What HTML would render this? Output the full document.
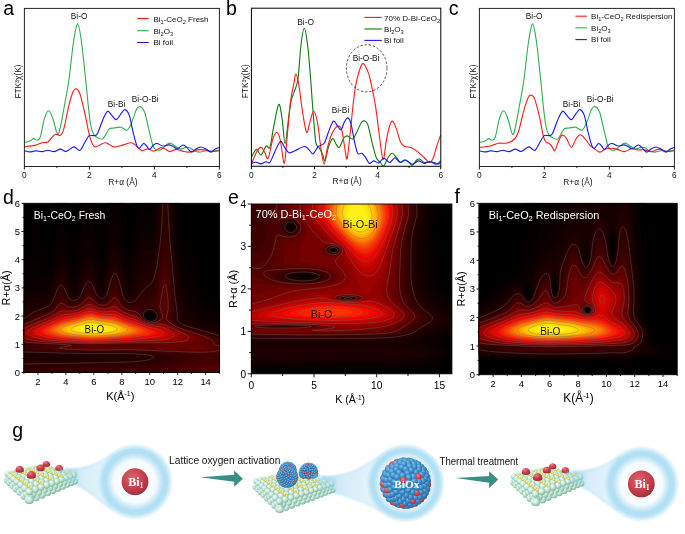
<!DOCTYPE html>
<html><head><meta charset="utf-8"><title>Figure</title>
<style>html,body{margin:0;padding:0;background:#fff}svg{display:block;will-change:transform}</style></head>
<body>
<svg width="685" height="534" viewBox="0 0 685 534" font-family='&quot;Liberation Sans&quot;, Arial, sans-serif'>
<rect width="685" height="534" fill="#fff"/>
<g>
<clipPath id="clipa"><rect x="24.4" y="8.4" width="195.0" height="158.1"/></clipPath>
<g clip-path="url(#clipa)" fill="none" stroke-width="1.1" stroke-linejoin="round">
<path d="M24.4 142.7C25.3 142.4 28.5 141.7 30.1 141.0C31.7 140.3 32.7 138.8 33.8 138.6C34.9 138.4 35.7 140.2 36.8 140.0C37.9 139.8 38.9 140.9 40.2 137.3C41.5 133.8 43.0 123.1 44.4 118.7C45.8 114.3 47.2 110.8 48.6 110.8C50.0 110.8 51.5 114.9 52.9 118.7C54.3 122.5 56.0 131.6 57.1 133.6C58.2 135.6 58.5 134.8 59.6 130.5C60.8 126.2 62.5 116.4 64.0 108.0C65.5 99.6 67.3 91.0 68.9 80.0C70.5 69.0 72.0 51.4 73.5 42.0C75.0 32.6 76.3 23.9 77.6 23.9C78.9 23.9 80.2 32.6 81.5 42.0C82.8 51.4 84.5 69.0 85.7 80.0C86.9 91.0 87.7 100.4 88.5 108.0C89.3 115.6 89.9 121.0 90.8 125.5C91.7 130.0 92.3 132.5 94.1 134.8C95.9 137.1 99.9 139.2 101.7 139.3C103.5 139.4 103.8 137.3 105.1 135.6C106.4 133.9 107.8 130.2 109.3 128.9C110.8 127.6 112.4 128.3 114.3 128.0C116.2 127.7 118.8 126.8 120.9 127.2C123.0 127.6 125.3 131.0 127.1 130.2C128.9 129.3 130.3 125.4 131.8 122.1C133.3 118.8 134.8 112.9 136.1 110.3C137.4 107.7 138.5 106.3 139.9 106.6C141.3 106.9 143.0 108.3 144.5 112.0C146.0 115.7 147.3 123.3 148.7 128.9C150.1 134.5 151.6 142.2 152.9 145.7C154.2 149.2 154.9 149.3 156.3 149.9C157.7 150.5 159.6 150.2 161.3 149.4C163.0 148.6 164.9 145.9 166.4 144.9C167.9 143.9 169.1 142.9 170.6 143.2C172.1 143.5 173.9 145.5 175.6 146.5C177.3 147.5 179.0 148.9 180.7 149.1C182.4 149.2 184.2 147.6 185.8 147.4C187.4 147.2 188.6 147.1 190.0 147.7C191.4 148.3 192.7 150.1 194.2 150.8C195.7 151.5 197.2 152.1 199.2 152.1C201.2 152.1 203.8 151.0 206.0 150.8C208.2 150.6 210.5 151.2 212.7 151.1C214.9 151.0 218.3 150.3 219.4 150.1" stroke="#2fae4f"/>
<path d="M24.4 146.7C26.2 146.5 32.3 146.1 35.2 145.4C38.1 144.7 39.8 143.3 41.9 142.7C44.0 142.1 46.1 142.9 47.8 142.0C49.5 141.1 50.7 138.6 52.0 137.3C53.3 136.0 54.0 134.5 55.4 134.2C56.8 133.9 59.0 136.2 60.4 135.3C61.8 134.4 62.4 133.9 63.8 128.9C65.2 123.9 67.4 111.5 68.9 105.3C70.5 99.1 71.9 94.5 73.1 91.8C74.3 89.0 75.0 88.5 76.1 88.8C77.2 89.1 78.3 89.3 79.8 93.5C81.3 97.7 83.4 107.0 84.9 113.7C86.5 120.4 87.8 128.8 89.1 133.9C90.3 139.0 91.3 141.8 92.4 144.0C93.5 146.2 94.2 146.8 95.5 147.0C96.8 147.2 98.4 145.6 100.0 144.9C101.6 144.2 103.5 142.8 105.1 142.7C106.6 142.6 107.8 143.7 109.3 144.4C110.8 145.1 111.9 146.9 114.3 147.0C116.7 147.1 120.5 145.6 123.4 144.9C126.3 144.2 129.2 142.4 131.5 142.7C133.8 143.0 135.2 145.2 136.9 146.5C138.7 147.8 140.2 150.4 142.0 150.8C143.8 151.2 146.0 148.6 147.9 148.7C149.8 148.8 151.6 151.3 153.7 151.1C155.8 150.9 158.5 148.0 160.5 147.7C162.5 147.4 163.9 148.4 165.5 149.1C167.1 149.8 168.0 151.5 169.8 151.6C171.6 151.7 174.4 149.5 176.5 149.4C178.6 149.3 180.3 150.7 182.4 151.1C184.5 151.5 186.6 152.3 189.1 152.1C191.6 151.9 195.0 150.3 197.5 149.9C200.0 149.5 202.1 149.6 204.3 149.9C206.6 150.2 208.5 151.4 211.0 151.6C213.5 151.8 218.0 150.9 219.4 150.8" stroke="#ff1a1a"/>
<path d="M24.4 150.8C25.3 151.0 28.2 151.9 30.1 151.9C32.0 151.9 34.0 150.9 36.0 150.8C38.0 150.8 39.9 151.7 41.9 151.6C43.9 151.5 45.7 150.2 47.8 150.2C49.9 150.2 52.4 151.8 54.5 151.6C56.6 151.4 58.4 149.1 60.4 149.1C62.4 149.1 64.0 151.8 66.3 151.4C68.5 151.0 71.7 147.1 73.9 146.9C76.2 146.7 78.0 151.2 79.8 150.4C81.6 149.6 83.4 144.8 84.9 142.3C86.5 139.8 87.6 136.7 89.1 135.6C90.6 134.5 92.7 135.9 94.1 135.6C95.5 135.3 96.1 136.1 97.5 133.6C98.9 131.1 100.8 124.1 102.5 120.4C104.2 116.7 106.0 112.0 107.6 111.2C109.1 110.4 110.3 114.0 111.8 115.4C113.3 116.8 114.8 120.0 116.4 119.6C118.0 119.2 120.0 114.9 121.4 113.2C122.9 111.5 123.8 109.2 125.1 109.6C126.4 110.0 127.9 111.4 129.3 115.4C130.7 119.5 132.2 128.9 133.5 133.9C134.8 138.9 135.9 143.3 136.9 145.7C137.9 148.1 138.3 148.6 139.4 148.2C140.5 147.8 142.3 143.8 143.6 143.5C144.9 143.2 146.0 145.5 147.0 146.5C148.0 147.5 148.4 149.9 149.5 149.6C150.6 149.3 152.4 145.9 153.7 144.9C155.0 143.9 155.5 143.3 157.1 143.5C158.7 143.7 161.0 145.8 163.0 146.0C165.0 146.2 167.2 144.8 168.9 144.9C170.6 145.0 171.7 145.9 173.1 146.5C174.5 147.1 175.6 148.9 177.3 148.7C179.0 148.4 181.5 145.1 183.2 145.0C184.9 144.9 186.0 147.0 187.4 148.2C188.8 149.4 190.3 151.9 191.7 152.1C193.1 152.2 194.4 149.9 195.9 149.1C197.4 148.2 199.2 147.0 200.9 147.0C202.6 147.0 204.3 148.2 206.0 149.1C207.7 149.9 209.5 152.1 211.0 152.1C212.5 152.1 213.8 149.9 215.2 149.1C216.6 148.3 218.7 147.7 219.4 147.4" stroke="#1414ff"/>
</g>
<rect x="24.4" y="8.4" width="195.0" height="158.1" fill="none" stroke="#222" stroke-width="1"/>
<line x1="24.4" y1="166.5" x2="24.4" y2="169.5" stroke="#222" stroke-width="1"/>
<text x="24.4" y="178.1" font-size="8.3" text-anchor="middle" fill="#111">0</text>
<line x1="56.9" y1="166.5" x2="56.9" y2="168.1" stroke="#222" stroke-width="1"/>
<line x1="89.4" y1="166.5" x2="89.4" y2="169.5" stroke="#222" stroke-width="1"/>
<text x="89.4" y="178.1" font-size="8.3" text-anchor="middle" fill="#111">2</text>
<line x1="121.9" y1="166.5" x2="121.9" y2="168.1" stroke="#222" stroke-width="1"/>
<line x1="154.4" y1="166.5" x2="154.4" y2="169.5" stroke="#222" stroke-width="1"/>
<text x="154.4" y="178.1" font-size="8.3" text-anchor="middle" fill="#111">4</text>
<line x1="186.9" y1="166.5" x2="186.9" y2="168.1" stroke="#222" stroke-width="1"/>
<line x1="219.4" y1="166.5" x2="219.4" y2="169.5" stroke="#222" stroke-width="1"/>
<text x="219.4" y="178.1" font-size="8.3" text-anchor="middle" fill="#111">6</text>
<text x="122.9" y="184.5" font-size="8.4" text-anchor="middle" fill="#111">R+α (Å)</text>
<text transform="translate(21.0 81.5) rotate(-90)" font-size="8.3" text-anchor="middle" fill="#111">FTK<tspan baseline-shift="35%" font-size="65%">3</tspan>χ(K)</text>
<text x="3.2" y="14.9" font-size="19.5" fill="#000">a</text>
</g>
<line x1="137.2" y1="18.5" x2="148.7" y2="18.5" stroke="#ff1a1a" stroke-width="1.1"/>
<text x="153.4" y="21.6" font-size="8.0" fill="#111">Bi<tspan baseline-shift="-25%" font-size="70%">1</tspan>-CeO<tspan baseline-shift="-25%" font-size="70%">2</tspan> Fresh</text>
<line x1="137.2" y1="30.7" x2="148.7" y2="30.7" stroke="#2fae4f" stroke-width="1.1"/>
<text x="153.4" y="33.7" font-size="8.0" fill="#111">Bi<tspan baseline-shift="-25%" font-size="70%">2</tspan>O<tspan baseline-shift="-25%" font-size="70%">3</tspan></text>
<line x1="137.2" y1="42.5" x2="148.7" y2="42.5" stroke="#1414ff" stroke-width="1.1"/>
<text x="153.4" y="45.1" font-size="8.0" fill="#111">Bi foil</text>
<text x="79.1" y="18.8" font-size="8.3" text-anchor="middle" fill="#111" >Bi-O</text>
<text x="116.6" y="107.0" font-size="8.3" text-anchor="middle" fill="#111" >Bi-Bi</text>
<text x="145.2" y="101.6" font-size="8.3" text-anchor="middle" fill="#111" >Bi-O-Bi</text>
<g>
<clipPath id="clipc"><rect x="479.4" y="8.4" width="195.0" height="158.1"/></clipPath>
<g clip-path="url(#clipc)" fill="none" stroke-width="1.1" stroke-linejoin="round">
<path d="M479.4 142.7C480.3 142.4 483.5 141.7 485.1 141.0C486.7 140.3 487.7 138.8 488.8 138.6C489.9 138.4 490.7 140.2 491.8 140.0C492.9 139.8 493.9 140.9 495.2 137.3C496.5 133.8 498.0 123.1 499.4 118.7C500.8 114.3 502.2 110.8 503.6 110.8C505.0 110.8 506.5 114.9 507.9 118.7C509.3 122.5 511.0 131.6 512.1 133.6C513.2 135.6 513.5 134.8 514.6 130.5C515.8 126.2 517.5 116.4 519.0 108.0C520.5 99.6 522.3 91.0 523.9 80.0C525.5 69.0 527.0 51.4 528.5 42.0C530.0 32.6 531.3 23.9 532.6 23.9C533.9 23.9 535.1 32.6 536.5 42.0C537.9 51.4 539.5 69.0 540.7 80.0C541.9 91.0 542.6 100.4 543.5 108.0C544.4 115.6 544.9 121.0 545.8 125.5C546.7 130.0 547.3 132.5 549.1 134.8C550.9 137.1 554.9 139.2 556.7 139.3C558.5 139.4 558.8 137.3 560.1 135.6C561.4 133.9 562.8 130.2 564.3 128.9C565.8 127.6 567.4 128.3 569.3 128.0C571.2 127.7 573.8 126.8 575.9 127.2C578.0 127.6 580.3 131.0 582.1 130.2C583.9 129.3 585.3 125.4 586.8 122.1C588.3 118.8 589.8 112.9 591.1 110.3C592.5 107.7 593.5 106.3 594.9 106.6C596.3 106.9 598.0 108.3 599.5 112.0C601.0 115.7 602.3 123.3 603.7 128.9C605.1 134.5 606.6 142.2 607.9 145.7C609.2 149.2 609.9 149.3 611.3 149.9C612.7 150.5 614.6 150.2 616.3 149.4C618.0 148.6 619.8 145.9 621.4 144.9C623.0 143.9 624.1 142.9 625.6 143.2C627.1 143.5 628.9 145.5 630.6 146.5C632.3 147.5 634.0 148.9 635.7 149.1C637.4 149.2 639.2 147.6 640.8 147.4C642.3 147.2 643.6 147.1 645.0 147.7C646.4 148.3 647.7 150.1 649.2 150.8C650.7 151.5 652.2 152.1 654.2 152.1C656.2 152.1 658.8 151.0 661.0 150.8C663.2 150.6 665.5 151.2 667.7 151.1C669.9 151.0 673.3 150.3 674.4 150.1" stroke="#2fae4f"/>
<path d="M479.4 147.4C481.2 147.2 487.0 146.7 490.2 146.0C493.4 145.3 495.8 143.8 498.6 143.3C501.4 142.8 504.3 143.7 507.0 143.0C509.7 142.3 512.6 141.1 514.6 139.0C516.6 136.9 517.2 135.3 518.8 130.5C520.3 125.7 522.3 115.8 523.9 110.3C525.5 104.8 526.9 100.2 528.1 97.7C529.4 95.2 530.3 94.9 531.4 95.2C532.5 95.5 533.4 95.5 534.8 99.4C536.2 103.3 538.5 112.7 539.9 118.7C541.3 124.7 542.2 131.7 543.2 135.6C544.2 139.5 544.8 140.7 545.8 142.0C546.8 143.3 548.0 142.3 549.1 143.2C550.2 144.1 551.6 146.1 552.5 147.4C553.4 148.7 553.9 151.4 554.7 150.8C555.5 150.2 556.5 146.4 557.5 144.0C558.5 141.6 559.9 137.8 560.9 136.4C561.9 135.0 562.4 134.9 563.4 135.3C564.4 135.7 565.5 137.0 566.8 139.0C568.1 141.0 569.9 147.4 571.4 147.4C572.9 147.4 574.4 141.1 575.9 139.0C577.4 136.9 578.8 134.8 580.4 134.8C582.0 134.8 583.6 137.2 585.2 139.0C586.8 140.8 588.5 144.0 590.2 145.7C591.9 147.4 593.7 148.3 595.3 149.4C596.9 150.5 598.3 152.2 600.0 152.1C601.7 152.0 603.4 149.8 605.4 149.1C607.4 148.4 609.9 148.1 612.1 148.2C614.4 148.3 616.8 149.3 618.9 149.9C621.0 150.5 622.6 151.8 624.7 151.6C626.8 151.4 629.4 149.0 631.5 148.7C633.6 148.4 635.3 149.7 637.4 149.9C639.5 150.1 641.7 149.6 644.1 149.9C646.5 150.2 649.2 151.7 651.7 151.6C654.2 151.5 656.9 149.1 659.3 149.1C661.7 149.1 663.5 151.3 666.0 151.6C668.5 151.9 673.0 150.9 674.4 150.8" stroke="#ff1a1a"/>
<path d="M479.4 150.8C480.3 151.0 483.2 151.9 485.1 151.9C487.0 151.9 489.0 150.9 491.0 150.8C493.0 150.8 494.9 151.7 496.9 151.6C498.9 151.5 500.7 150.2 502.8 150.2C504.9 150.2 507.4 151.8 509.5 151.6C511.6 151.4 513.4 149.1 515.4 149.1C517.4 149.1 519.0 151.8 521.3 151.4C523.5 151.0 526.6 147.1 528.9 146.9C531.1 146.7 533.0 151.2 534.8 150.4C536.6 149.6 538.3 144.8 539.9 142.3C541.5 139.8 542.6 136.7 544.1 135.6C545.6 134.5 547.7 135.9 549.1 135.6C550.5 135.3 551.1 136.1 552.5 133.6C553.9 131.1 555.8 124.1 557.5 120.4C559.2 116.7 561.1 112.0 562.6 111.2C564.1 110.4 565.3 114.0 566.8 115.4C568.3 116.8 569.8 120.0 571.4 119.6C573.0 119.2 574.9 114.9 576.4 113.2C577.9 111.5 578.8 109.2 580.1 109.6C581.4 110.0 582.9 111.4 584.3 115.4C585.7 119.5 587.2 128.9 588.5 133.9C589.8 138.9 590.9 143.3 591.9 145.7C592.9 148.1 593.3 148.6 594.4 148.2C595.5 147.8 597.3 143.8 598.6 143.5C599.9 143.2 601.0 145.5 602.0 146.5C603.0 147.5 603.4 149.9 604.5 149.6C605.6 149.3 607.4 145.9 608.7 144.9C610.0 143.9 610.6 143.3 612.1 143.5C613.6 143.7 616.0 145.8 618.0 146.0C620.0 146.2 622.2 144.8 623.9 144.9C625.6 145.0 626.7 145.9 628.1 146.5C629.5 147.1 630.6 148.9 632.3 148.7C634.0 148.4 636.5 145.1 638.2 145.0C639.9 144.9 641.0 147.0 642.4 148.2C643.8 149.4 645.3 151.9 646.7 152.1C648.1 152.2 649.4 149.9 650.9 149.1C652.4 148.2 654.2 147.0 655.9 147.0C657.6 147.0 659.3 148.2 661.0 149.1C662.7 149.9 664.5 152.1 666.0 152.1C667.5 152.1 668.8 149.9 670.2 149.1C671.6 148.3 673.7 147.7 674.4 147.4" stroke="#1414ff"/>
</g>
<rect x="479.4" y="8.4" width="195.0" height="158.1" fill="none" stroke="#222" stroke-width="1"/>
<line x1="479.4" y1="166.5" x2="479.4" y2="169.5" stroke="#222" stroke-width="1"/>
<text x="479.4" y="178.1" font-size="8.3" text-anchor="middle" fill="#111">0</text>
<line x1="511.9" y1="166.5" x2="511.9" y2="168.1" stroke="#222" stroke-width="1"/>
<line x1="544.4" y1="166.5" x2="544.4" y2="169.5" stroke="#222" stroke-width="1"/>
<text x="544.4" y="178.1" font-size="8.3" text-anchor="middle" fill="#111">2</text>
<line x1="576.9" y1="166.5" x2="576.9" y2="168.1" stroke="#222" stroke-width="1"/>
<line x1="609.4" y1="166.5" x2="609.4" y2="169.5" stroke="#222" stroke-width="1"/>
<text x="609.4" y="178.1" font-size="8.3" text-anchor="middle" fill="#111">4</text>
<line x1="641.9" y1="166.5" x2="641.9" y2="168.1" stroke="#222" stroke-width="1"/>
<line x1="674.4" y1="166.5" x2="674.4" y2="169.5" stroke="#222" stroke-width="1"/>
<text x="674.4" y="178.1" font-size="8.3" text-anchor="middle" fill="#111">6</text>
<text x="577.9" y="184.5" font-size="8.4" text-anchor="middle" fill="#111">R+α (Å)</text>
<text transform="translate(476.0 81.5) rotate(-90)" font-size="8.3" text-anchor="middle" fill="#111">FTK<tspan baseline-shift="35%" font-size="65%">3</tspan>χ(K)</text>
<text x="448.7" y="14.9" font-size="19.5" fill="#000">c</text>
</g>
<line x1="575.4" y1="16.2" x2="586.9" y2="16.2" stroke="#ff1a1a" stroke-width="1.1"/>
<text x="591.1" y="18.9" font-size="8.0" fill="#111">Bi<tspan baseline-shift="-25%" font-size="70%">1</tspan>-CeO<tspan baseline-shift="-25%" font-size="70%">2</tspan> Redispersion</text>
<line x1="575.4" y1="27.8" x2="586.9" y2="27.8" stroke="#2fae4f" stroke-width="1.1"/>
<text x="591.1" y="30.9" font-size="8.0" fill="#111">Bi<tspan baseline-shift="-25%" font-size="70%">2</tspan>O<tspan baseline-shift="-25%" font-size="70%">3</tspan></text>
<line x1="575.4" y1="39.6" x2="586.9" y2="39.6" stroke="#1414ff" stroke-width="1.1"/>
<text x="591.1" y="42.2" font-size="8.0" fill="#111">Bi foil</text>
<text x="534.1" y="18.8" font-size="8.3" text-anchor="middle" fill="#111" >Bi-O</text>
<text x="571.6" y="107.0" font-size="8.3" text-anchor="middle" fill="#111" >Bi-Bi</text>
<text x="600.2" y="101.6" font-size="8.3" text-anchor="middle" fill="#111" >Bi-O-Bi</text>
<g>
<clipPath id="clipb"><rect x="251.4" y="8.2" width="189.4" height="158.1"/></clipPath>
<g clip-path="url(#clipb)" fill="none" stroke-width="1.1" stroke-linejoin="round">
<path d="M251.7 156.6C252.5 155.4 254.9 149.7 256.5 149.4C258.1 149.1 259.4 155.6 261.0 155.0C262.6 154.4 264.6 147.3 266.1 146.0C267.6 144.7 268.6 150.5 269.9 147.4C271.1 144.3 272.1 134.4 273.6 127.2C275.1 120.0 277.3 105.8 278.7 104.4C280.1 103.0 281.0 112.2 282.1 118.7C283.2 125.2 284.0 143.7 285.1 143.7C286.2 143.7 287.5 126.0 288.5 118.7C289.5 111.5 290.1 105.2 291.3 100.2C292.5 95.2 294.4 92.1 295.5 88.4C296.6 84.7 297.2 85.2 298.1 78.0C299.0 70.8 300.0 53.3 301.0 45.0C302.0 36.7 303.2 28.3 304.3 28.3C305.4 28.3 306.5 36.4 307.6 45.0C308.7 53.6 309.8 68.5 310.7 80.0C311.6 91.5 312.3 103.3 313.2 113.7C314.1 124.1 314.8 136.7 315.8 142.3C316.8 147.9 318.0 145.4 319.1 147.4C320.2 149.4 321.5 151.9 322.5 154.1C323.5 156.3 324.0 161.6 325.0 160.5C326.0 159.4 327.1 151.1 328.4 147.4C329.7 143.8 331.3 139.2 332.6 138.6C333.9 138.0 334.9 142.5 336.0 144.0C337.1 145.5 338.1 148.3 339.3 147.4C340.6 146.5 342.2 140.4 343.5 138.5C344.8 136.6 345.7 135.8 347.2 135.9C348.7 136.0 351.0 139.6 352.6 139.0C354.2 138.4 355.4 134.9 356.8 132.2C358.2 129.5 359.8 124.9 361.1 123.0C362.4 121.1 363.3 120.6 364.4 120.9C365.5 121.2 366.5 121.0 367.8 124.6C369.1 128.2 370.6 136.8 372.0 142.3C373.4 147.8 374.8 154.1 376.2 157.5C377.6 160.9 379.1 161.1 380.4 162.5C381.7 163.9 382.5 166.7 383.8 165.9C385.1 165.1 386.6 159.6 388.0 157.5C389.4 155.4 390.8 153.3 392.2 153.3C393.6 153.3 395.0 156.0 396.4 157.5C397.8 159.0 399.2 162.1 400.6 162.5C402.0 162.9 403.5 160.0 404.9 160.0C406.3 160.0 407.9 161.7 409.1 162.5C410.4 163.3 411.1 165.5 412.4 165.1C413.7 164.7 415.4 161.0 416.7 160.0C418.0 159.0 418.8 158.8 420.0 159.2C421.2 159.6 422.6 162.1 424.2 162.5C425.8 162.9 427.6 161.7 429.3 161.7C431.0 161.7 432.8 162.1 434.3 162.5C435.8 162.9 437.4 164.2 438.5 164.2C439.6 164.2 440.3 162.8 440.7 162.5" stroke="#0a7a0a"/>
<path d="M251.7 163.4C252.5 161.4 255.2 154.3 256.8 151.6C258.4 148.9 259.7 147.4 261.0 147.4C262.3 147.4 263.2 149.8 264.4 151.6C265.6 153.4 266.8 160.4 268.2 158.3C269.6 156.2 271.3 143.3 272.8 139.0C274.3 134.7 275.7 131.9 277.0 132.2C278.3 132.5 279.2 135.4 280.4 140.6C281.6 145.8 283.2 163.9 284.3 163.4C285.4 162.9 286.1 147.6 287.1 137.3C288.1 127.1 289.4 110.9 290.5 101.9C291.6 92.9 293.0 88.0 293.9 83.4C294.8 78.8 295.0 74.1 295.8 74.1C296.6 74.1 297.5 77.4 298.6 83.4C299.7 89.4 301.0 102.2 302.3 110.3C303.6 118.4 305.2 130.2 306.5 132.2C307.8 134.2 308.7 125.6 309.9 122.1C311.1 118.6 312.4 111.2 313.7 111.2C314.9 111.2 316.2 116.1 317.4 122.1C318.6 128.1 319.7 140.4 320.8 147.4C321.9 154.4 323.1 164.2 324.2 164.2C325.3 164.2 326.2 152.4 327.5 147.4C328.8 142.4 330.1 137.4 331.8 133.9C333.5 130.4 336.0 126.9 337.7 126.3C339.4 125.7 340.6 126.4 341.9 130.5C343.1 134.6 344.3 146.2 345.2 150.8C346.1 155.4 346.4 161.3 347.2 158.3C348.0 155.3 349.1 142.7 350.2 133.0C351.3 123.3 352.5 109.0 353.6 100.2C354.7 91.4 355.3 86.1 356.8 80.0C358.3 73.9 360.5 65.0 362.4 63.7C364.3 62.4 366.7 69.3 368.0 72.0C369.3 74.7 369.1 74.5 370.3 80.0C371.5 85.5 374.0 96.9 375.4 105.3C376.8 113.7 377.4 121.5 378.7 130.5C380.0 139.5 381.7 157.5 383.0 159.2C384.3 160.9 385.2 146.2 386.3 140.6C387.4 135.0 388.6 128.7 389.7 125.5C390.8 122.3 391.5 120.7 392.6 121.3C393.7 121.9 395.1 125.4 396.4 128.9C397.7 132.4 399.2 139.4 400.6 142.3C402.0 145.2 403.2 145.7 404.9 146.5C406.6 147.3 408.7 146.6 410.8 147.4C412.9 148.2 415.3 149.9 417.5 151.6C419.7 153.3 422.2 155.7 424.2 157.5C426.2 159.3 427.9 162.2 429.3 162.5C430.7 162.8 431.4 162.0 432.7 159.2C434.0 156.4 435.6 149.8 436.9 145.7C438.2 141.6 440.1 136.6 440.7 134.8" stroke="#ff1a1a"/>
<path d="M251.7 163.4C252.4 163.2 254.4 162.1 256.0 162.2C257.6 162.3 259.3 164.0 261.0 163.9C262.7 163.8 264.6 161.9 266.1 161.7C267.6 161.5 268.5 164.1 269.9 162.5C271.3 160.9 272.8 155.9 274.5 152.4C276.2 148.9 278.7 142.3 280.4 141.5C282.1 140.7 283.2 145.5 284.6 147.4C286.1 149.3 287.3 152.3 289.1 152.8C290.9 153.3 292.9 151.5 295.5 150.4C298.1 149.3 302.4 146.4 304.8 146.5C307.2 146.6 308.5 149.6 309.9 150.8C311.3 152.0 311.8 154.5 313.2 153.8C314.6 153.1 316.5 148.3 318.3 146.5C320.1 144.7 322.5 145.6 324.2 143.2C325.9 140.8 326.9 135.8 328.4 132.2C329.9 128.5 331.8 122.3 333.4 121.3C334.9 120.3 336.4 124.9 337.7 126.3C339.0 127.7 339.9 130.4 341.0 129.7C342.1 129.0 343.3 124.1 344.4 122.1C345.5 120.1 346.7 117.6 347.8 117.9C348.9 118.2 349.9 120.0 351.0 123.8C352.1 127.6 353.2 135.7 354.3 140.6C355.4 145.5 356.4 151.2 357.7 153.3C359.0 155.4 360.5 152.5 361.9 153.3C363.3 154.1 364.8 156.6 366.1 158.3C367.4 160.0 368.2 163.0 369.5 163.4C370.8 163.8 372.2 161.0 373.7 160.9C375.2 160.8 377.0 163.3 378.7 162.9C380.4 162.5 382.0 158.4 383.8 158.3C385.6 158.2 387.9 162.6 389.7 162.5C391.5 162.4 393.1 157.9 394.8 157.8C396.5 157.8 398.0 161.8 399.8 162.2C401.6 162.6 403.6 159.7 405.7 160.0C407.8 160.3 410.3 164.0 412.4 164.2C414.5 164.3 416.3 161.0 418.3 160.9C420.3 160.8 422.2 163.3 424.2 163.4C426.2 163.5 428.1 161.6 430.1 161.7C432.1 161.8 434.2 164.3 436.0 164.2C437.8 164.1 439.9 161.4 440.7 160.9" stroke="#1414ff"/>
</g>
<rect x="251.4" y="8.2" width="189.4" height="158.1" fill="none" stroke="#000" stroke-width="1"/>
<line x1="251.4" y1="166.3" x2="251.4" y2="169.3" stroke="#000" stroke-width="1"/>
<text x="251.4" y="177.9" font-size="8.3" text-anchor="middle" fill="#111">0</text>
<line x1="282.9" y1="166.3" x2="282.9" y2="167.9" stroke="#000" stroke-width="1"/>
<line x1="314.5" y1="166.3" x2="314.5" y2="169.3" stroke="#000" stroke-width="1"/>
<text x="314.5" y="177.9" font-size="8.3" text-anchor="middle" fill="#111">2</text>
<line x1="346.1" y1="166.3" x2="346.1" y2="167.9" stroke="#000" stroke-width="1"/>
<line x1="377.6" y1="166.3" x2="377.6" y2="169.3" stroke="#000" stroke-width="1"/>
<text x="377.6" y="177.9" font-size="8.3" text-anchor="middle" fill="#111">4</text>
<line x1="409.1" y1="166.3" x2="409.1" y2="167.9" stroke="#000" stroke-width="1"/>
<line x1="440.7" y1="166.3" x2="440.7" y2="169.3" stroke="#000" stroke-width="1"/>
<text x="440.7" y="177.9" font-size="8.3" text-anchor="middle" fill="#111">6</text>
<text x="347.1" y="184.3" font-size="8.4" text-anchor="middle" fill="#111">R+α (Å)</text>
<text transform="translate(248.0 81.2) rotate(-90)" font-size="8.3" text-anchor="middle" fill="#111">FTK<tspan baseline-shift="35%" font-size="65%">3</tspan>χ(K)</text>
<text x="226.0" y="14.9" font-size="19.5" fill="#000">b</text>
</g>
<line x1="364.4" y1="17.4" x2="381.8" y2="17.4" stroke="#ff1a1a" stroke-width="1.1"/>
<text x="384.1" y="20.6" font-size="8.0" fill="#111">70% D-Bi-CeO<tspan baseline-shift="-25%" font-size="70%">2</tspan></text>
<line x1="364.4" y1="29.0" x2="381.8" y2="29.0" stroke="#0a7a0a" stroke-width="1.1"/>
<text x="384.1" y="32.2" font-size="8.0" fill="#111">Bi<tspan baseline-shift="-25%" font-size="70%">2</tspan>O<tspan baseline-shift="-25%" font-size="70%">3</tspan></text>
<line x1="364.4" y1="40.4" x2="381.8" y2="40.4" stroke="#1414ff" stroke-width="1.1"/>
<text x="384.1" y="43.4" font-size="8.0" fill="#111">Bi foil</text>
<text x="305.6" y="24.9" font-size="8.3" text-anchor="middle" fill="#111" >Bi-O</text>
<text x="340.5" y="113.0" font-size="8.3" text-anchor="middle" fill="#111" >Bi-Bi</text>
<text x="366.0" y="61.2" font-size="8.3" text-anchor="middle" fill="#111" >Bi-O-Bi</text>
<ellipse cx="366.7" cy="68.3" rx="20.3" ry="23.6" fill="none" stroke="#222" stroke-width="0.8" stroke-dasharray="2.4 1.8"/>
<rect x="23.9" y="203.3" width="195.7" height="169.2" fill="#000"/>
<path d="M23.9 372.5l195.7 0 0-73.2-4.9-0.4-2-0.7-1.9-1.3-1-1.1-2-3.3-1.6-4.1-1.4-5-3.9-19-2-8.5-1.3-4.4-0.6-1.4-1-1.8-1-1-1-0.3-1 0-2.9 1.1-1 0-1-0.3-1-0.9-0.9-1.3-1-2-1-2.6-1-3.4-1-4.3-1-5.9-0.9-8.6-1-15.5-45.3 0-1.5 13.2-1.4 9-1 3.8-1 1.7-1-0.4-0.9-3-0.7-3.5-1.3-11.2-0.8-9.6-18.5 0-1.4 16.7-0.9 7.6-1 4.5-1 1.7-1-1-1-3.9-1-7.2-1.5-18.4-17.9 0-1.2 16.2-1 9.3-1.1 6.6-0.9 3.5-0.9 1.5-1-0.5-0.6-1.6-0.4-1-1-4.7-1.5-11.3-1.7-18-13.5 0-2 21.7-1.9 15.9-1 5.3-1 3.9-1 2.5-1 1.3-1 0.1-0.9-0.9-0.4-0.6-0.6-1.4-1-3-1.3-5.1-3.6-17.3-1-3.8-1-2.8-1-1.4-1 0-0.9 1.4-1 2.7-1 3.9-4.8 25.8-2.1 9.2 0 110.9zM149.8 319.6l-1-0.5-1-0.3-1-0.8-0.2-0.3-0.3-1.9 0.2-1 0.5-0.9 1.5-1 1.3-0.2 1.6 0.2 1.3 0.7 1.2 1.2 0.2 1-0.1 1.9-0.3 0.5-1 0.7-1.3 0.7-0.6 0z" fill="#050000" fill-rule="evenodd"/>
<path d="M23.9 372.5l195.7 0 0-60.7-5.9-2.2-3-1.4-2.9-2.2-2.2-2.5-1.7-2.5-1.8-3.2-6.1-13.7-2-3.1-3.9-4.7-1-1.4-2-3.9-0.9-2.5-2-6.2-2-8-1.9-10.4-1-6.6-1.3-14.1-0.9-19.9-24.3 0-1.1 8.1-0.9 2.6-1 0.5-1-0.9-1-1.8-2.9-7.3-0.7-1.2-3.3 0-1 2.7-1.9 8.7-4 22.9-1.9 10-1 3.8-1 2.8-1 1.3-1-0.1-0.9-1.6-1-3-1-4.2-2.4-14.9-3.4-28.4-8.4 0-3.3 27.4-2.2 14.8-1.9 9.3-1 2.9-1 1.4-1-0.1-1-1.7-1-3-1.2-5.6-1.7-11.5-3-25.3-1.1-8.6-6.9 0-4.2 35-1.5 10.7-1 5.3-1 4.2-0.8 2.5-1.2 2.5-0.9 0.7-1-0.5-1-1.5-1-2.4-1-3.1-2-8-3.9-18.9-1-3.5-0.9-2.2-1-0.9-1 0.6-1 2-1 3.3-4.5 22.4-2.4 10.1-1.9 6.8-1 2.7-1 2-1 1.3-1 0.5-0.9-0.1-1-0.7-2-2.8-2.9-6-2-3.3-1-1-1-0.4-1 0.2-0.9 0.8-1 1.5-1 2-4.9 13.3-2 4.5 0 88.7zM149.8 319.8l-0.9-0.2-1.1-0.6-1-0.7-0.5-0.6-0.5-1.9 0.3-1 0.7-1.2 1-0.7 2-0.4 1.9 0.3 1 0.5 1 0.8 0.5 0.7 0.3 1 0.2 0.9-0.3 1-0.6 0.9-1.7 1-1.3 0.2z" fill="#090000" fill-rule="evenodd"/>
<path d="M23.9 372.5l195.7 0 0-52.5-4.9-2.3-4.9-3-3-2-2.9-2.6-2.7-2.8-5.2-6.5-5.9-6.2-2-2.9-1.4-3.3-1.5-4.6-1-4-2-9.3-1.9-10.6-2-13.2-1-8.9-1-12.7-0.8-21.8-20.6 0-0.3 7.6-0.9 10-1 5.4-1 2.9-0.9 1.3-1 0.4-0.6-0.2-1.4-0.9-2.9-2.8-1-0.4-1 0.1-1 0.7-1 1.4-1.2 2.9-1.7 5.9-5.9 26.6-1 3.2-1 2.1-1 1-1-0.2-0.9-1.6-1-2.8-2-8.2-3.9-19-2-8.1-1-3.1-1-2-0.9-0.9-1 0.4-1 1.5-1 2.7-1 3.4-1.9 8.5-5 23.7-0.9 3.7-1 2.6-1 1.2-1-0.3-1-1.4-1-2.4-2.9-10.6-4.9-21.1-1-2.8-1-1.6-1-0.2-1 1.2-0.9 2.4-1 3.6-4.9 22.6-2 7.8-1 3.1-1 2.3-1 1.4-0.9 0.4-1-0.6-1-1.5-2-4.9-2.9-8.8-2-5.2-2-3.8-0.9-1-1-0.4-1 0.3-1 1-2 3.6-2.6 7.5-5.2 17.3-1 2.5-1 1.8-1 1.1-1 0.6-0.9 0.2-1-0.2-1-0.5-1.4-1.1-3.5-3.4-1-0.7-1-0.5-1-0.1-1 0.3-0.9 0.7-1 1-5.5 8.4-2.4 3 0 78.3zM148.8 319.7l-2-1.1-0.7-0.9-0.4-1-0.1-0.9 0.1-1 0.5-0.9 0.6-0.7 1-0.6 1-0.3 2-0.1 1.9 0.7 1.2 1 0.8 1.3 0.3 1.5-0.3 1-0.6 0.9-1.3 1-1.1 0.3-1.9 0z" fill="#0d0000" fill-rule="evenodd"/>
<path d="M23.9 372.5l195.7 0 0-48-11.2-3-2.2-1-1.5-0.9-1-1-2-2.8-0.9-1-4.8-4.9-5.9-5.7-2-2.2-1.9-3-1-2.1-1.6-4.7-1.4-6.3-2.9-18.3-2-14.4-1-8.9-1.3-18.3-0.8-22.7-17.8 0-0.6 14.2-0.7 8.5-0.4 3.4-0.9 5.1-1.1 4-1 2.1-0.9 1.1-1 0.4-1 0-3-1.1-0.9-0.2-1 0.1-1 0.6-1 1.1-1 1.6-1.4 3.5-1.5 4.9-4 16.9-1.9 7.3-1 2.6-1 1.6-1 0.7-1-0.5-0.9-1.5-1-2.7-1-3.8-3.5-16-2.4-8.9-1-2.7-1-2.1-1-1.4-0.9-0.6-1 0.2-1 0.9-1 1.7-1 2.3-1.2 4-1.5 5.6-4.2 18.7-0.9 3.5-0.7 1.5-0.3 0.6-1 0.9-1-0.4-1-1.4-1-2.4-4.9-15.6-1.9-5.2-1-2-1-1.4-1-0.8-1-0.1-1 0.7-0.9 1.5-1 2-2.6 7.5-4.3 15.4-1 2.7-0.9 1.7-1.1 1.2-0.9 0.2-0.8-0.4-1.2-1.5-1-2.1-4.5-12.5-1.4-3.1-1-1.7-1-1.3-0.9-0.7-1-0.3-1 0.2-1 0.7-1 1.1-1.9 3.6-2.4 6.2-3.5 12.3-1.2 2.9-0.8 1.6-1 1.4-1 0.8-1 0.5-1.9 0.2-2-0.4-4.9-1.8-2 0-1 0.3-0.9 0.5-2 1.4-6.9 6.5 0 72.2zM148.8 319.9l-1-0.4-1-0.6-1-1.2-0.4-1 0-1.9 0.4-0.9 0.8-1 1.2-0.6 1-0.3 2-0.1 1.9 0.6 1.6 1.4 0.6 0.9 0.4 1.9-0.2 1-0.6 0.9-1.2 1-1.6 0.5-1.9 0z" fill="#120000" fill-rule="evenodd"/>
<path d="M23.9 372.5l195.7 0 0-45.2-17.5-4-3.2-1-1.8-0.8-1.3-1-0.8-0.9-0.4-1-0.6-2.8-1.4-1.9-4.5-5.2-2.9-4.4-2-4.3-1-3.1-1.2-5.7-1.7-11.1-2-15-2-17.7-1.4-20.5-0.8-23.6-15.6 0-0.5 14.2-0.7 10.4-1.1 9.4-0.5 3-1 4.2-1 2.8-1 1.8-0.9 1-1 0.5-1 0.2-3-0.2-0.9 0.2-1 0.5-1 0.8-1.5 2.2-1.5 3.3-1.4 4.3-4.5 17.9-0.9 3.3-1.5 3.4-0.5 0.8-1 1-1 0.3-1-0.4-0.9-1.1-1-2.2-1-3.4-3.6-16.8-2.3-8.1-1.3-3.2-0.7-1.3-1-1.2-0.9-0.6-1 0.1-1 0.8-1 1.4-2 4.8-2.2 8.3-3.7 16.6-0.9 2.8-1 1.6-1 0.5-1-0.4-1-1.2-1-2.1-3.9-12.2-2-5-1.9-3.5-1-1.1-1-0.5-1 0.1-1 0.6-0.9 1.1-1.5 2.7-2.1 5.7-4.3 14.2-1.4 2.8-0.6 0.7-1 0.7-0.9 0.2-1-0.4-1-1-1-1.7-4.6-12.7-1.3-2.9-1-1.6-1-1.2-0.9-0.7-1-0.3-1 0.1-1 0.7-1 1-1.9 3.5-2 5.2-3 10.3-0.9 2.7-1 2.1-1 1.5-1 1-2 1.1-1.9 0.4-6.9-0.8-2 0.2-1 0.3-2.9 1.6-6.9 5.4 0 67.8zM147.8 319.7l-1.6-1.1-0.7-0.9-0.4-1 0-1.9 0.3-0.9 0.7-1 1.7-1 2-0.4 1.9 0.3 2 1 1 1.1 0.8 1.9 0.1 0.9-0.2 1-0.7 1.1-0.9 0.8-1.1 0.4-1.9 0.4-2-0.3z" fill="#170000" fill-rule="evenodd"/>
<path d="M23.9 372.5l195.7 0 0-41.8-4.9-1.3-18.2-4.2-5.8-1.9-2-0.9-1.3-0.9-0.8-1-0.5-0.9-0.1-3.8-0.3-1-3.5-8.1-1.6-5.1-1.3-5.6-1-6.5-4-36.1-0.9-11-0.9-13.6-0.8-25.5-12.8 0-0.6 18-1 14.1-0.6 5.5-1 6.5-1 4.6-1 3.4-1 2.4-1 1.6-0.9 1.1-1 0.6-4 1.2-0.9 0.5-1 0.8-0.9 1.1-1.1 1.7-1 2.1-1.3 3.8-3.6 12.3-1.2 3.8-1.7 3.5-1 1.3-1 0.8-1 0.5-1 0.1-1-0.3-0.9-0.8-1-1.4-1-2.2-1-3.4-3-14.2-1.9-7-1-2.7-1.5-2.6-0.5-0.5-0.9-0.6-1 0-1 0.7-1 1.4-1.6 3.7-1.9 6.7-3.4 15.3-1 2.8-0.9 1.7-1 0.8-1 0.2-1-0.3-1-0.8-1-1.5-0.9-2.2-3.2-9.4-1.4-3.8-1.3-2.5-1-1.4-1-0.9-1-0.4-1 0.1-1 0.7-0.9 1.1-0.9 1.4-2.1 5-3.9 12.3-1 1.9-1 1.4-1 0.9-1 0.5-0.9 0.1-1-0.2-1-0.6-1-1.1-1-1.7-1-2.4-2.9-8.3-2-4-1-1.3-0.9-0.7-1-0.4-1 0.2-1 0.6-1 1.1-1.3 2.4-1.6 4-3 9.7-1 2.7-1.2 2.5-1.7 2.2-2 1.4-1.9 0.7-2 0.3-5.9 0.3-3 0.8-1.9 0.9-2 1.3-5.9 4.7 0 62.1zM149.8 320.6l-2-0.6-1-0.5-1-0.9-0.7-0.9-0.4-1-0.1-1.9 0.3-0.9 0.5-1 1.4-1.1 2-0.7 2 0 1.9 0.5 2 1.5 1.1 1.7 0.3 1.9-0.2 1-0.5 0.9-1 1-1.7 0.7-1.9 0.3z" fill="#1c0000" fill-rule="evenodd"/>
<path d="M23.9 372.5l195.7 0 0-39.3-5.9-1.8-16.9-4.3-6.5-1.9-2.6-0.9-3.7-1.9-1.1-0.9-0.8-1-0.4-0.9-0.1-4.8-3.1-12.2-1.2-6.9-3.9-38-1.2-13.8-0.9-13.2-0.6-13.2-0.4-14.2-10.1 0-0.6 18.7-1.1 15.3-0.9 8.2-0.9 6.8-1 5.2-1 4-1 3.1-1 2.3-1 1.7-0.9 1.1-1 0.8-3 1.4-1.9 1.3-2 2.6-2 4.1-3 8.5-1.6 3.8-1.7 2.8-1.7 1.9-1.8 1.1-1 0.3-1 0-1-0.3-0.9-0.6-1-1-1-1.5-1-2.3-0.9-3.3-3-13.7-1.9-6.1-1.1-2.3-1-1.4-0.9-0.6-1 0-1 0.7-1 1.4-1.6 4.1-1.4 4.7-2.7 12.3-0.9 2.8-1.3 2.4-0.9 1-0.7 0.4-1.3 0.3-1-0.3-1-0.6-1.1-1.3-1.8-3.5-4-10.8-1.6-2.7-1.3-1.3-1-0.4-1 0.2-1 0.6-0.9 1.2-2 4-3 8.9-1.9 4.4-1 1.4-1 1-1.3 0.8-1.6 0.4-1-0.1-1-0.4-1-0.8-1-1.2-1.8-3.6-3.1-8.2-1-1.9-1-1.3-0.9-0.9-1-0.3-1 0.1-1.4 1.2-1.6 2.4-1.3 3.2-3.6 10.9-1.6 3.3-1.5 1.9-1.8 1.5-2 0.9-1.9 0.6-6.9 1.3-3 1.1-3.9 2.4-5.9 5.1 0 39.1 60.7 1.9 8.1 0.5 20.7-0.3 7.9 0.2 5.7 0.5-1.4 1-11.2 0.7-10.8 0.2-10.9-0.1-24.4 1.1-44.4 0.6 0 11.7zM148.8 320.6l-2-0.8-1.4-1.2-0.7-0.9-0.4-1-0.2-1.9 0.7-1.9 1-1.1 2-1.1 1-0.2 2 0 1.9 0.6 2 1.3 1 1.2 0.6 1.2 0.2 1.9-0.1 1-0.5 0.9-1.2 1.2-2 0.8-1 0.2-1.9 0z" fill="#220000" fill-rule="evenodd"/>
<path d="M23.9 372.5l195.7 0 0-37.5-7.9-2.6-19.3-5.3-5.9-1.9-2.3-0.9-3.3-1.9-1-0.9-0.7-1-0.4-0.9-0.1-1 0.2-2.8-0.2-1.9-2.4-14-0.9-7.7-4-43.5-1.6-21.8-0.9-23.6-7.2 0-0.9 21.7-0.8 10.4-0.9 9.5-1.3 9.4-1.1 7.2-1 4.8-2 6.9-1 2.3-1 1.8-0.9 1.2-1 0.9-4 2.6-1.9 2.1-2 3.2-4.1 7.7-1.8 2.5-2 1.9-2.2 1.3-1.7 0.3-1-0.1-1.9-0.7-1-0.8-1-1.2-1-1.7-1.3-3.4-3.1-13.2-1.5-5-1-2.3-1-1.4-0.9-0.8-1 0.1-1 0.7-0.7 1.1-1.3 2.7-1.4 4.9-2.5 10.4-1 2.9-1 1.9-1 1.2-0.9 0.7-1 0.4-1 0-1-0.2-1-0.5-1.7-1.7-1.6-2.8-3.4-8.6-1.1-2.3-1-1.4-1-0.8-1-0.4-1 0.2-1 0.7-0.9 1.3-1.8 3.7-3.2 8.4-0.9 2-1 1.4-2 1.9-1 0.5-1.9 0.5-2-0.3-1-0.5-1-0.8-1-1.3-0.9-1.8-3-7.1-1.6-2.9-1.3-1.5-1-0.4-1 0.1-1.1 0.8-0.9 1.3-0.8 1.6-1.1 2.7-2.7 7.7-1.2 2.8-1.1 2-1.9 2.4-2 1.4-2 0.9-7.8 2.3-4 1.7-4.9 3.2-2.7 2.2-2.2 2.1 0 34.6 67.9 1.8 26.5-0.2 13.8 0.3 3.9 0.2 7.2 0.9 2.8 0.9 0.3 1-1.7 0.9-4.7 1.1-7.1 0.8-7.6 0.4-64.9 1.4-36.4 0.5 0 9.1zM147.8 320.6l-1.8-1-1-1-0.6-0.9-0.7-1.9 0-1 0.2-1.2 1-1.7 1.9-1.4 2-0.6 1-0.1 1.9 0.3 2 0.8 1 0.7 1.2 1.3 0.9 1.9 0.2 1.9-0.1 1-0.5 0.9-0.8 1-1.6 0.9-2.3 0.6-2.9-0.2z" fill="#270000" fill-rule="evenodd"/>
<path d="M23.9 372.5l195.7 0 0-36.3-8.9-2.9-21.6-6.2-5.3-1.9-3.5-1.7-1.7-1.1-1.3-1.4-0.7-1.4-0.1-1 0.2-2.8-0.2-3.8-2.1-17.9-5.3-57.7-1.2-15.1-1-18-3.3 0-0.5 10.4-1 13.2-2.2 21.8-1.3 9.6-1.9 11.7-2 8.6-1 3.2-1 2.4-1 1.7-0.9 1.2-1 0.8-3 1.8-1.9 1.4-2 2-4.6 5.7-2 1.9-1.3 0.9-1.9 1-2 0.5-1 0-2-0.4-0.9-0.4-2-1.6-1.8-2.9-1.1-2.8-3.2-12.3-0.8-2.7-1-2.5-1-1.6-0.9-0.8-1 0-1 0.8-0.7 1.1-1.3 3-3 11.2-1.4 3.8-1.5 2.4-1 0.9-0.8 0.5-1.1 0.3-2-0.2-1.9-1.1-1-1-2-3.1-3.9-8.6-1-1.4-1-0.9-1-0.3-1 0.2-1 0.8-0.9 1.3-1 1.9-3.1 7.3-0.9 1.9-1.4 1.9-1.5 1.6-1 0.6-1.5 0.7-1.4 0.2-2-0.1-1-0.4-1-0.6-1-1-1.8-2.9-3.1-6.6-1-1.5-0.9-1-1-0.4-1 0.2-1 0.7-1 1.4-1 2-3.9 10.1-1.5 2.7-1.5 1.9-1.9 1.5-2 1-7.8 2.7-4 1.7-4.9 3-5.9 4.4 0 31.9 22.6 0.8 41.3 0.9 34.4 0 15.3 0.3 11.1 0.9 5.5 1 2.8 0.9 0.8 1-0.6 0.9-2 1-2.4 0.6-5.9 1.2-7.8 0.9-8.9 0.6-66.9 1.6-39.3 0.6 0 6.8zM147.8 320.8l-2.2-1.2-1.6-1.9-0.4-1-0.4-1.9 0.3-1.9 0.4-0.9 1-1.1 1.9-1.2 1-0.3 2-0.3 1.9 0.3 1 0.3 2 1.2 1.8 2 0.9 1.9 0.2 1.9-0.2 1-0.5 0.9-0.8 1-1.4 0.9-3 0.8-2.9-0.2z" fill="#2d0000" fill-rule="evenodd"/>
<path d="M23.9 372.5l195.7 0 0-34.9-9.8-3.4-21.1-6.1-5.5-1.9-3.9-1.7-2-1.2-1.2-0.9-1.5-1.9-0.4-1.9 0.2-4.7-0.2-5.7-3.8-41.8-2.9-24.5-1-5.7-1-2.9-1 0.7-1 3.8-4.9 31.8-2.9 16.5-1 3.7-1 2.7-1 1.7-1 1.2-1.9 1.3-4 1.4-1.9 1-4.9 3.6-3.1 1.7-1.9 0.7-1.9 0.3-2 0-2-0.5-1.1-0.5-1.8-1.2-1.4-1.6-1.1-1.9-1.6-3.8-2.8-9.6-1-2.7-1-1.8-0.9-0.9-1 0-1 0.8-1 1.8-1 2.6-2.4 7.9-1.5 3.3-1 1.4-1 1-1.9 1-1 0.1-2-0.2-1.9-0.9-1-0.8-1.1-1.1-1.3-1.9-3.5-6.5-1-1.4-1-0.9-1-0.3-1 0.3-1 0.8-0.9 1.4-3.9 7.6-2 2.7-1.2 1.1-1.8 1.1-2 0.7-0.9 0.2-2-0.1-1-0.2-2-1.1-0.9-0.9-1.2-1.6-3.8-6.5-0.9-1-1-0.4-1 0.2-1 0.8-1 1.5-3.6 8.2-1.3 2.4-1.7 2.3-1.2 1.3-2 1.4-2 0.9-6.9 2.6-4.9 2.2-2 1.1-5.8 3.8-3 1.6 0 29.3 22.6 1 33.5 0.8 12.7 0.3 33.5-0.2 14.7 0.4 12.2 0.8 8.6 0.9 6 1 3.6 0.9 1.4 1-0.2 0.9-1.3 1-2.4 0.9-6.2 1.6-7.9 1.3-10.8 1.3-17.7 1.1-34.4 1.1-43.3 1.7-24.6 0.7 0 2.6zM149.8 321.6l-2-0.5-1.4-0.6-1.3-0.9-1-1-1.1-1.9-0.5-1.9 0-0.9 0.4-1.9 0.4-0.9 1.6-1.7 1.9-1.1 2-0.4 1-0.1 1 0.1 1.9 0.6 2 1.2 1 0.9 1.7 2.3 0.7 1.9 0.2 1-0.2 1.9-0.4 0.9-1 1.2-1 0.7-2 0.8-2.9 0.4z" fill="#350000" fill-rule="evenodd"/>
<path d="M116.1 371.6l6.5 0.9 97 0 0-33.5-10.8-4-20-6-5.7-1.9-4.6-1.9-1.8-0.9-1.5-1-2-1.8-0.6-1-0.4-1.9 0.4-6.6-0.1-5.7-1.8-22.7-1.3-12.5-1.9-13.9-1-4.3-1-2.2-1 0.2-1 2.3-1.9 9.2-4 24.8-1.3 6.8-0.6 2.2-1 2.4-1 1.8-2.7 3.1-0.2 0.9 0.7 1 2.2 1.7 2 1.9 1.9 2.6 1.1 2.3 0.4 1.9-0.2 1.9-0.4 0.9-0.7 1-2.1 1.4-1.2 0.5-1.8 0.4-1.9 0.1-2-0.3-3-1.2-2.2-1.9-0.6-0.9-0.9-1.9-0.5-2.9 0.4-2.8 1.1-2.8 0.1-1-0.3-0.2-2 0-6.9 1.2-2.8 0-3.1-0.6-0.9-0.4-2-1.2-2-2-1.9-3.4-4-10.6-1-1.9-0.9-0.9-1-0.1-1 0.9-1 1.8-2.8 7-1.5 2.9-1.6 1.9-1.3 0.9-1.6 0.6-1 0.1-2-0.3-1.2-0.4-1.7-1-1-0.9-1.7-1.9-3.2-5-1-1.2-1-0.7-1-0.3-1 0.3-1 0.8-0.9 1.2-3.6 5.9-2.3 2.6-1.6 1.2-1.4 0.7-2.9 0.8-3-0.1-2-0.8-1.9-1.6-4-5.4-0.9-0.9-1-0.3-1 0.2-1 0.8-1 1.5-3.1 6-1.7 2.8-1.1 1.4-1.6 1.5-3.3 1.9-10.8 4.4-7.3 4.1-5.5 2.7 0 21.5 6.1 0.3 5.2 1-4.7 0.9-6.6 1 0 2.1 7 0.7 8.7 0.5 28.6 1.1 23.6 0.5 34.4-0.2 16.7 0.4 10.8 0.5 23.1 1.9 5.5 1 2.8 0.9 1.2 1 0 0.9-1.1 1.1-1.4 0.8-2.3 1-3.2 0.9-4.9 1.2-7.9 1.4-11.8 1.8-14.7 1.6-17 1.6-6 0.9z" fill="#3c0000" fill-rule="evenodd"/>
<path d="M167.4 371.6l4.5 0.9 47.7 0 0-12.5-10.3-2.6 1.5-1 8.8-2.5 0-13.4-4.5-2-7.7-2.9-21.2-6.6-5.4-1.9-3.5-1.5-2.5-1.3-1.4-1-2-1.8-0.6-1-0.5-1.9 0.6-6.6 0.1-5.7-1.7-22.7-0.8-7.3-1-6.3-1-4.3-1-2.2-1-0.1-1 1.9-0.9 3.5-1.9 10.1-2.3 15.1-0.8 3.7-1.7 6.7 0.2 1.9 3.3 6.6 0.7 2.9-0.2 1.9-0.4 0.9-0.8 1-1.2 0.9-1.8 1-3 0.7-2.9 0-3-0.8-1.6-0.9-1.2-0.9-1.6-1.9-1.3-2.9-1.2-3.7-0.9-1.2-2-0.7-4.9-0.3-3-0.5-1.9-0.7-2-1-2-1.7-1.8-2.4-1.5-2.9-2.6-5.9-1-1.7-0.9-1-1 0-1 0.8-1 1.5-2.8 5.4-2.1 2.7-2 1.4-1.9 0.5-1.1 0.1-1.9-0.3-1.9-0.6-1-0.7-2.6-2.2-3.3-4.2-1-0.9-1-0.7-1-0.2-1 0.3-1 0.7-4.6 6-2.2 2.1-3 1.7-2.9 0.8-3 0-2-0.6-2-1.2-3.9-4-0.9-0.7-1-0.3-1 0.3-1 0.8-1 1.3-4 6.4-1.6 1.9-2.2 1.7-4 1.9-7.8 3.2-8.8 4.5-6 2.8 0 19.8 16.5 1 7.7 1-3.9 0.9-6.7 1-3.2 0.9 2.8 1 11 0.9 20.1 0.8 23.6 0.6 35.4-0.2 17.7 0.4 37.9 2.2 8.8 0.9 11.8 1.9 3.1 1-0.7 0.2-1.3 0.7-14.7 4.7-21.7 5.7-2.2 1-0.4 0.9 1 0.5z" fill="#460000" fill-rule="evenodd"/>
<path d="M200 371.6l9.8 0.7 9.8-0.2 0-6.5-5.9-0.6-4.9 0-5.9 0.7-4.7 1.1-2.6 1-1.3 0.9-0.1 1 1.6 0.9 4.1 0.9zM191.7 352.6l8.2 0.3 6.9-0.1 6.9-0.6 5.9-1 0-5.8-3.1-1.3-0.1-1.8-0.8-1-2.8-1.9-2-0.9-7.1-2.9-17.6-5.6-7.8-2.9-3-1.3-2.6-1.5-1.4-1-2-1.8-1.2-1.9-0.3-1 0-0.9 1.1-6.6 0.2-4.8-0.4-7.5-0.9-9.5-1.3-8-1-2.8-1-0.4-1 1.8-0.9 3.7-3.6 20.8 0.1 2.9 0.5 1.9 1.8 4.7 0.3 2.8-0.2 1-0.4 0.9-0.9 1-1.2 0.9-1.8 1-3.5 1-2.9 0.1-3-0.5-2.9-1.4-2.4-2.1-3.5-5.6-1-0.9-2-0.9-5.9-1.1-2-0.5-2.9-1.3-1.5-1-2.4-2.7-4-6.4-1-1.4-0.9-0.8-1 0-1 0.5-4 5.1-1.9 1.7-2.3 1.1-2.6 0.4-2.4-0.4-2.5-1-2.4-1.8-2.6-2.6-1.9-1.6-1-0.5-1-0.1-1 0.2-1 0.7-4.6 4.9-2.2 1.7-2 1.1-3 1-2.9 0.3-3-0.4-2.1-0.9-3.8-2.7-0.9-0.5-1-0.1-1 0.3-1 0.7-1 1.1-3.8 5-2 1.9-1.4 0.9-3.6 1.8-5.9 2.4-11.2 5.3-6.5 2.8 0 18.1 15.7 1.1 13.4 0.6 11 1-2.6 0.9-6.6 1-2.9 0.9 4.3 1 8 0.5 7.9 0.4 19.7 0.6 32.4-0.3 12.8 0.1 54.1 2.4z" fill="#500100" fill-rule="evenodd"/>
<path d="M173.4 350.8l21.6 0.6 10.8-0.3 4.9-0.4 4.8-0.9 2.3-0.9 0.2-1-1.5-0.9-7-1.9-1.9-1 2.4-1.8-0.2-1-0.9-0.9-2.6-1.9-1.8-1-4.5-1.9-16.8-5.7-7.1-2.8-5.3-2.8-5.3-4-1-0.5-1-0.1-0.9 0.2-5 2-3.9 1-2 0.1-1.9-0.1-2-0.4-2-0.8-1.9-1.2-1.2-0.9-1.7-1.9-2-2.8-2-1.6-2-0.8-6.9-1.6-1.9-0.8-2-1-2-1.5-1.1-1.3-4.8-6-0.9-0.6-1-0.2-1 0.4-1 0.7-2.9 2.8-1.4 1-1.6 0.9-2 0.5-2.9 0-3-0.8-2.8-1.5-4-3.3-2-1-1 0-1 0.2-1 0.5-3.9 3.6-2.6 1.9-2.3 1.2-3 0.9-2.9 0.4-3-0.2-1.9-0.6-4-1.9-0.9-0.3-1 0-1 0.3-2 1.7-4 4.2-1.9 1.4-1.9 1.2-26.6 11.6 0 16.4 5.2 0.6 9.6 0.6 43.6 2.2-1 0.9-7.3 1-2.7 0.9 7 1 14.4 0.5 30.5-0.5 10.8 0 28.6 1.5 10.8 0.4zM112.4 346.1l-4.9-1 22.6-0.6 10.8 0.2 5.5 0.4-5 0.9-6.4 0.5-8.8 0.2-12.8-0.6zM163.5 311.1l1 0.7 1-0.8 0.8-2.8 0.1-1.9 0-2.8-0.9-5.5-1-1.4-1 1.6-0.9 3.6-0.4 2.6-0.1 1.9 0.2 1.9 0.7 1.9z" fill="#5b0100" fill-rule="evenodd"/>
<path d="M182.8 349.8l10.2 0.2 7-0.2 5.8-0.7 1.5-0.2 0.5-0.4 0.6-0.6-2.1-0.9-2.4-0.5-6.9-0.9-8.1-0.5 1-1 7.1-0.6 2.9-0.5 2.7-0.7 0.9-1-0.3-0.9-1.8-1.9-1.3-1-1.7-0.9-4.5-1.9-17.6-6.6-4.1-1.9-5.7-3.4-2-0.9-1-0.2-1.9 0-5.9 1.3-3 0.4-2.9-0.2-3.2-0.8-2-0.9-1.5-1-2.1-1.9-2-2.3-2-1.6-3-1.2-6.8-1.9-3.3-1.5-2.5-1.9-4.1-4.5-1-0.8-0.9-0.6-1-0.1-1 0.2-1 0.5-3.6 2.5-1.9 0.9-2.4 0.6-1.9 0-3-0.5-1.9-0.7-2.2-1.3-3.7-2.6-2-0.7-1 0-2 0.7-4.7 3.6-2.1 1.3-2 0.9-3 0.9-2.9 0.4-2 0-2.9-0.5-4-1.2-1.9 0-1 0.3-2 1.4-3.9 3.5-3.9 2.4-26.6 11.3 0 14.7 8.9 1.2 10.8 0.7 17.7 0.9 30.5 1 17.4-0.5 22.9-0.3 10.8 0 13.1 0.3 8.8 1-11.2 1.9-1.8 0.9 5.6 1 4.2 0.3 20.6 0.6z" fill="#660100" fill-rule="evenodd"/>
<path d="M63.3 343.2l29.4 0.8 43.3-0.8 31.5 0.3 14.7-0.6 8.3-0.6 3.9-1 1.1-0.9 0-1-0.3-0.9-0.7-1-1.1-0.9-1.6-1-4.1-1.9-12.4-5-10.8-5.2-1.9-0.5-2-0.1-5.9 0.8-3 0.1-2.9-0.3-3.3-1.1-3.2-1.9-4.3-3.8-2-1.2-2-0.8-6.8-1.9-4-1.7-2.6-1.9-3.3-3.2-1.9-1.2-1-0.2-1 0.1-4.9 2.3-2 0.7-2 0.3-1.9 0-3-0.5-1.9-0.7-2-0.9-3.9-2.4-2-0.6-1 0-2 0.7-5.9 3.8-1.9 0.9-3 1-4.9 0.7-2.9-0.1-5-0.8-1.9 0.2-1 0.4-2 1.2-4.1 3-4.7 2.6-25.6 10.7 0 12.4 6.9 1.3 7.9 0.9 9.8 0.7 14.7 0.7z" fill="#740100" fill-rule="evenodd"/>
<path d="M75 343.2l17.7 0.4 42.3-0.8 33.5-0.2 6.8-0.4 8.2-0.9 3.3-0.9 1.5-1 0.5-0.9 0-1-0.5-0.9-0.9-1-1.4-0.9-20.5-9.7-2.9-0.9-2-0.2-6.9 0.4-2.9-0.1-3-0.5-2-0.7-3-1.5-4.8-3.6-2-1.2-2.9-1.1-5.9-1.7-4-1.7-1.9-1.2-4-3.1-1.9-1.1-1-0.2-1 0-5.9 2-2 0.3-2.9 0.1-4-0.8-2.3-0.9-4.5-2.4-2-0.4-1 0-2 0.6-5.9 3.4-1.9 0.9-3 0.9-4.9 0.8-2.9 0-5-0.4-0.9 0.1-2 0.5-6.9 4.3-4.1 2.1-17.5 7.1-7.9 3.6 0 9.8 0.7 0.3 8.2 1.8 8.8 1.1 12.8 1 19.7 0.8z" fill="#820200" fill-rule="evenodd"/>
<path d="M89 343.2l14.6-0.1 33.4-0.8 24.6-0.3 5.9-0.2 5.9-0.6 5.9-1.2 1.7-0.6 1.6-0.9 0.7-1 0.1-0.9-0.3-1-0.9-0.9-1.4-1-3.4-1.8-11.9-5.8-3.9-1.2-2-0.2-5.9 0.1-2.9-0.2-3-0.5-2-0.6-2.9-1.4-4.9-3.2-3-1.6-7.9-2.5-3.9-1.5-2.2-1.3-3.7-2.5-1.9-1-2-0.3-6.9 1.6-3.9 0.1-4-0.8-2.5-0.9-3.4-1.7-0.9-0.4-2-0.3-1 0-2 0.6-5.9 3.1-1.9 0.8-3 0.9-2.9 0.5-3 0.4-6.9 0-2.9 0.7-7 3.9-3.8 1.9-17.7 7.2-5 2.3-2.9 1.6 0 7 3.9 1.4 5 1.2 10.8 1.6 11.8 1.1 13.7 0.7 19.7 0.5z" fill="#900200" fill-rule="evenodd"/>
<path d="M68.2 342.3l24.5 0.6 69.9-1.7 6.8-0.7 5-1.1 2.9-1.2 0.9-0.7 0.7-0.9 0.1-1-0.4-0.9-0.9-1-1.3-0.9-5-2.8-5.9-2.9-2.9-1-2-0.4-9.8-0.6-3-0.6-2-0.6-3.4-1.5-4.4-2.6-3-1.5-8.8-2.9-3-1.2-5.9-3.4-1.9-0.9-1-0.2-2-0.1-5.9 1.1-3.9 0-4-0.7-2.4-0.8-3.5-1.6-2.9-0.6-1 0.1-2 0.5-5.9 2.8-4.9 1.6-5.9 0.9-6.9 0.3-2.9 0.8-9.8 5.2-13.8 5.5-5.7 2.4-5.2 2.9-1.9 1.8 0 2.4 0.3 0.5 1.2 0.9 3.4 1.5 4.9 1.4 6.9 1.3 7.9 1 7.9 0.7 11.8 0.7z" fill="#9e0200" fill-rule="evenodd"/>
<path d="M77.5 342.3l14.3 0.3 11.8-0.2 57-2.1 5.9-0.6 4.9-1.2 2.2-1 1.1-0.9 0.5-1 0-0.9-0.5-1-1-0.9-4.4-2.8-3.8-1.9-2.6-1-2.3-0.6-3-0.4-6.8-0.5-3-0.6-2-0.6-2.9-1.2-5.9-3.1-2-0.9-7.8-2.5-4-1.6-5.9-3.1-1.9-0.9-1-0.2-2-0.1-5.9 0.8-4.9-0.2-3.9-0.9-5.9-2.2-2-0.2-3 0.6-5.9 2.6-4.9 1.5-4.9 0.8-7.9 0.7-2.9 0.8-8.9 4.5-13.7 5.5-4.5 2-3.6 1.9-1.4 1-1.1 0.9-0.7 1-0.2 0.9 0.3 0.9 0.9 1 1.4 0.9 4 1.5 5.3 1.4 8.4 1.4 8.9 1 7.8 0.6 13.8 0.7z" fill="#ac0300" fill-rule="evenodd"/>
<path d="M89 342.3l6.9 0 20.4-0.7 43.3-2.2 5.9-0.8 3.6-1.1 1.7-0.9 0.9-1 0.3-0.9-0.2-1-0.7-0.9-1-0.9-3-1.9-3.6-1.7-4.2-1.2-9.5-1.2-4-1-2.9-1.2-7.9-3.6-10.8-3.7-8.8-4.2-3-0.3-5.9 0.5-4.9-0.3-3.9-0.8-5-1.8-2.9-0.4-3 0.5-5.9 2.5-4.9 1.4-4.9 0.9-7.9 0.9-2.9 0.8-8.9 4.4-11.8 4.7-6.1 2.9-2.9 1.9-1 0.9-0.6 1 0 0.9 0.4 0.9 1.1 1 1.6 0.9 1.6 0.7 4.3 1.2 7.5 1.5 9.9 1.3 9.8 0.9 23.6 1z" fill="#bb0400" fill-rule="evenodd"/>
<path d="M74.8 341.3l17 0.6 7.8-0.1 15.8-0.6 34.4-2 8.8-0.8 5.5-0.9 2.7-0.9 1.5-1 0.6-0.9 0.1-1-0.4-0.9-0.9-0.9-3-1.9-2.1-1-4-1.1-8.8-1.5-4-1-9.8-4.2-10.8-3.5-9.8-4.4-3-0.5-6.9 0.3-3.9-0.2-3.9-0.8-5-1.7-1.9-0.3-2 0-2 0.5-6.2 2.3-4.6 1.3-4.9 1-6.9 0.8-2.9 0.7-9.9 4.6-9.7 3.9-4.2 1.9-3.4 1.9-1.2 1-0.9 0.9-0.4 1 0.1 0.9 0.6 0.9 1.2 1 3.2 1.4 3.9 1.1 6.5 1.3 8.3 1.2 7.8 0.8 10.9 0.8z" fill="#c90500" fill-rule="evenodd"/>
<path d="M83.9 341.3l8.8 0.3 16.8-0.6 11.3-0.6 29-2.1 7.2-0.8 4.9-0.9 2.6-1.1 1.1-0.8 0.4-1-0.2-0.9-0.8-0.9-1.3-1-2.1-1.1-4-1.2-8.8-1.8-3.9-1.2-8.9-3.6-11.8-3.9-6.9-3.2-1.9-0.7-3-0.5-6.9 0.2-3.9-0.4-3.9-0.7-5-1.6-1.9-0.3-2 0.1-2 0.4-6.8 2.5-4 1.1-4.9 0.9-6.9 1-2.9 0.8-8.9 4-12.8 5.4-3.3 1.9-1.1 1-0.8 0.9-0.3 1 0.2 0.9 0.8 0.9 1.6 1 3.9 1.5 5.9 1.4 6.9 1.1 8.9 1.1 9.8 0.8 11.8 0.7z" fill="#d70600" fill-rule="evenodd"/>
<path d="M75.6 340.4l17.1 0.7 19.2-0.7 15.3-1.1 18.6-1.5 8.9-1.1 4.8-1.1 2-0.9 1-1 0.1-0.9-0.7-0.9-1.3-1-2-0.9-3-1-9.8-2.5-9.8-3.8-11.8-3.8-6.9-3.1-1.9-0.7-3-0.5-6.9 0-3.9-0.4-3.9-0.7-5.9-1.7-2-0.1-2 0.3-7.8 2.6-3 0.8-4.9 1.1-7.9 1.3-2.9 0.8-19.6 8.5-3.1 1.9-1.1 1-0.7 0.9-0.2 1 0.4 0.9 1 0.9 1.6 1 2 0.8 3.9 1.1 5.9 1.2 6.9 1 16.7 1.5z" fill="#e40700" fill-rule="evenodd"/>
<path d="M84.2 340.4l8.5 0.3 14.8-0.6 13.8-0.9 19.5-1.7 8-0.9 5-1 2.9-0.9 1.5-1 0.5-0.9-0.4-0.9-1.2-1-2.1-0.9-8.2-2.5-10.8-4.1-10.8-3.4-9.8-4.1-3-0.5-6.9-0.1-3.9-0.4-3.9-0.7-5.9-1.6-2-0.1-2 0.3-10.8 3.3-4.9 1.1-7.9 1.5-2.9 0.8-17.4 7.6-3.1 1.9-1 1-0.6 0.9 0 1 0.4 0.8 1.2 1 1.9 1 1.9 0.7 4.6 1.2 6.2 1.1 7.8 1 9.9 0.9 10.8 0.7z" fill="#f10a00" fill-rule="evenodd"/>
<path d="M77.2 339.4l15.5 0.8 16.8-0.8 13.7-0.9 16.7-1.7 7.9-1.1 3.9-1 2-1 0.9-0.9-0.1-0.9-1.1-1-1.9-0.9-15.2-5.7-12.1-3.9-8.8-3.6-3-0.6-6.9-0.2-3.9-0.4-3.9-0.8-5.9-1.5-2 0-2 0.3-10.8 3.2-12.8 2.7-2.9 0.8-4 1.6-11.3 5.2-3 1.9-0.9 1-0.5 0.9 0.1 1 0.6 0.9 2.3 1.4 4.2 1.4 4.6 1.1 6.9 1.1 7.9 0.9 8.8 0.7z" fill="#f71500" fill-rule="evenodd"/>
<path d="M85.9 339.4l6.8 0.2 8.9-0.3 13.8-0.8 11.5-1 9.1-1 7.9-1.2 2.8-0.6 2.1-0.8 1.7-1.1 0.2-0.9-0.8-1-3.6-1.9-9.3-3.7-12.8-4.1-8.8-3.5-3-0.7-6.9-0.3-3.9-0.5-3.9-0.7-5.9-1.4-3 0.1-2 0.4-9.8 2.9-11.8 2.6-3.9 1.1-5.3 2.1-7.9 3.8-2.9 1.9-0.8 1-0.4 0.9 0.2 1 0.8 0.9 1.5 0.9 4 1.5 4.9 1.1 5.9 1 6.9 0.8 17.7 1.3z" fill="#fe2000" fill-rule="evenodd"/>
<path d="M79 338.5l13.7 0.6 15.1-0.6 12.5-0.9 11.8-1.3 8.8-1.5 4-1.1 1.6-0.9 0.3-0.5 0.2-0.4-0.4-1-1.2-0.9-3.6-1.9-4.6-1.9-13-4.3-8.8-3.4-4-0.7-5.9-0.4-3.9-0.5-9.8-2.1-3 0.1-2 0.4-9.8 2.9-11.8 2.7-3.9 1.1-5.5 2.3-5.7 2.8-2.6 1.9-0.8 1-0.2 0.9 0.3 1 0.9 0.9 1.7 0.9 4 1.4 3.9 0.9 5.9 0.9 14.8 1.5z" fill="#ff3200" fill-rule="evenodd"/>
<path d="M88.3 338.5l4.4 0.1 12.8-0.5 9.9-0.7 8.8-0.9 7-0.9 6.8-1.2 2.4-0.7 1.5-0.6 0.7-0.3 0.9-0.9-0.1-1-0.8-0.9-3.3-1.9-4.6-1.9-10.5-3.5-8.8-3.3-4-0.8-6.9-0.6-3.9-0.5-8.8-2-3 0.2-2 0.3-8.8 2.7-15.7 3.8-4 1.5-4.4 2.2-3.1 1.9-1.1 0.9-0.7 1-0.1 0.9 0.4 1 1.2 0.9 2.9 1.3 4.9 1.3 5.9 1 6.9 0.8 16.7 1.3z" fill="#ff4400" fill-rule="evenodd"/>
<path d="M80.8 337.5l11.9 0.6 12.8-0.6 11.8-0.8 8.7-1.1 6.1-1 4.9-1.2 1.5-0.6 1.4-0.9 0.3-1-0.6-0.9-1.2-1-1.7-0.9-4.6-1.9-8.9-3.1-6.9-2.6-3.9-1-11.8-1.3-8.8-1.9-3 0.1-2 0.4-8.8 2.6-12.5 3-3.2 0.9-4.6 1.9-3.5 1.9-2.3 1.9-0.5 1-0.1 0.9 0.6 1 1.3 0.9 2.1 0.9 3.2 1 8.7 1.5 12.8 1.3z" fill="#ff5700" fill-rule="evenodd"/>
<path d="M76.1 336.6l8.8 0.6 7.8 0.3 18.8-0.9 8.8-0.9 6.8-1 6-1.4 1.4-0.5 1.7-0.9 0.6-1-0.3-0.9-1-1-1.6-0.9-4.4-1.9-13.2-4.9-3.9-1-10.8-1.2-9.8-2-3 0.1-2 0.4-8.8 2.6-14.8 3.7-2.9 1.1-2.4 1.2-2.9 1.9-0.9 0.9-0.4 1 0.1 0.9 0.7 1 1.5 0.9 2.4 0.9 3.7 1 4.1 0.7 9.8 1.2z" fill="#ff6a00" fill-rule="evenodd"/>
<path d="M83.3 336.6l7.5 0.3 3.9 0 11.8-0.6 9.8-0.8 6.2-0.8 4.8-1 3.8-1.2 1.4-0.6 0.8-1 0-0.9-0.9-1-1.4-0.9-4.1-1.9-11.5-4.3-4-0.9-10.8-1.3-8.8-1.8-2 0.1-3 0.4-7.8 2.3-14.2 3.6-4.7 1.9-2.9 1.9-0.8 0.9-0.3 1 0.2 0.9 0.9 1 1.7 0.9 2.9 0.9 4.4 1 4.9 0.7 11.8 1.2z" fill="#ff7d00" fill-rule="evenodd"/>
<path d="M78.7 335.6l7.2 0.6 6.8 0.2 10.9-0.5 8.8-0.6 5.2-0.6 5.6-1 4-1.1 1.6-0.7 1.1-1 0.1-0.9-0.6-1-1.3-0.9-3.8-1.9-8-3.2-3.9-1-11.8-1.6-7.9-1.6-2.9 0-3 0.5-18.9 5-5.4 1.9-1.7 0.9-1.3 1-0.7 0.9-0.3 1 0.4 0.9 1.1 1 2.1 0.9 3.4 0.9 3.6 0.7 8.9 1.2z" fill="#ff9000" fill-rule="evenodd"/>
<path d="M87.2 335.6l5.5 0.2 6.9-0.3 9.9-0.6 5.9-0.7 4.9-0.8 3.9-1.2 0.9-0.3 1.4-1 0.3-0.9-0.5-1-1-0.9-1.6-1-4-1.9-5.2-1.9-3.1-0.6-10.8-1.5-8.8-1.6-3 0.2-2.9 0.6-17.8 4.8-2.7 1-2 0.9-1.3 1-0.8 0.9-0.1 1 0.5 0.9 1.5 1 2.5 0.9 4.1 0.9 6.2 1 10.8 0.9z" fill="#ffa500" fill-rule="evenodd"/>
<path d="M82.5 334.7l10.2 0.4 8.9-0.3 7.9-0.6 3.9-0.5 5.2-0.9 2.9-0.9 1.6-1 0.5-0.9-0.2-1-1-0.9-3.1-1.9-3.9-1.6-4-1-10.8-1.6-7.9-1.4-2.9 0-3 0.4-15.4 4.2-4.9 1.9-1.5 1-0.7 0.9-0.1 1 0.7 0.9 1.8 1 1.5 0.4 6.4 1.4 7.3 0.9z" fill="#ffb900" fill-rule="evenodd"/>
<path d="M80.3 333.7l5.6 0.5 5.9 0.3 11.8-0.6 10.2-1.1 3.8-0.9 2-1 0.8-0.9-0.1-1-0.7-0.9-1.3-1-1.8-0.9-2.1-0.8-4.4-1.1-10.4-1.5-6.9-1.3-3.9 0.1-4 0.8-6.8 1.9-5.9 1.9-2.2 0.9-1.5 1-0.8 0.9 0 1 1 0.9 2.1 1 3.4 0.8 5.9 1z" fill="#ffca01" fill-rule="evenodd"/>
<path d="M91 333.7l10.6-0.4 5.3-0.5 4.5-0.7 1.5-0.2 2.8-1 1.2-0.9 0.2-1-0.6-0.9-1.4-1-2.2-0.9-1.5-0.4-2.9-0.7-16.7-2.7-2 0.1-3 0.4-8.4 2.3-4.9 1.9-1.5 1-0.8 0.9 0.2 1 1.2 0.9 2.6 1 6.7 1.2 8.9 0.6z" fill="#ffda03" fill-rule="evenodd"/>
<path d="M88 332.8l7.7 0 10.2-0.9 4.6-1 2-0.9 0.5-1-0.6-0.9-1.8-1-3.1-0.8-10.7-2-5-0.8-4 0.3-5.5 1.4-4.9 1.9-1.5 1-0.6 0.9 0.3 1 1.5 0.9 0.9 0.3 3.9 0.9 5.9 0.7z" fill="#ffe60a" fill-rule="evenodd"/>
<path d="M89.7 331.9l6-0.2 6.8-0.8 3.3-0.9 1-1-0.9-0.9-2.4-1-8.7-1.9-3-0.4-4 0.3-3.9 1.1-2.2 0.9-1.4 1-0.5 0.9 0.7 1 2.2 0.9 6.1 0.9z" fill="#fff019" fill-rule="evenodd"/>
<path d="M23.9 351.9l35.4 1.1 32.5 0.6 26.5-0.1 13.8 0.2 12.9 0.8 5.8 1 2.7 0.9 0.6 1-0.9 0.9-1.5 0.6-5 1.3-6.8 1-9.8 0.7-11.8 0.4-53.1 1.1-41.3 0.6M219.6 335.9l-7.9-2.7-21.6-6.1-5.5-1.9-2.4-1-2.9-1.8-1-0.9-1-1.9-0.1-1 0.1-2.8-0.1-2.9-2.3-17.9-5-53.9-1.2-17-1-20.8M147.8 320.7l-2.1-1.1-0.9-1-0.7-0.9-0.4-1-0.4-1.9 0.1-0.9 0.5-1.3 1-1.4 0.9-0.7 2-0.9 1-0.2 2 0 0.9 0.2 2 0.8 1.9 1.6 1.2 1.9 0.4 0.9 0.2 1.9-0.2 1-0.4 0.9-0.8 1-1.3 0.8-2 0.7-2.9 0.1zM162.8 203.3l-0.9 19.9-0.8 10.3-1 10.4-2.5 17.8-0.9 5.5-2 8.6-1 3.1-1 2.4-1.4 2.3-1.5 1.6-3 1.9-1.9 1.5-2 2.3-5 6.9-2.8 2.9-2 1.2-2 0.5-1 0.1-2-0.4-0.9-0.5-2-1.7-1.8-3-1-2.9-3.1-12.4-1.5-4.6-1.5-2.6-0.9-0.8-1 0-1 0.8-0.5 0.7-1.5 3.2-1 3.3-2.1 8.7-1.3 3.7-1.5 2.7-1 1-0.9 0.6-1 0.2-1 0.1-1-0.3-1.1-0.5-1.8-1.7-2-3.2-3-7.1-0.9-1.9-1-1.4-0.8-0.7-1.2-0.5-1 0.2-1 0.7-0.9 1.4-1.5 2.9-2.6 6.6-0.9 1.9-1.1 1.9-1.8 1.9-1 0.7-1 0.5-1.9 0.4-2-0.2-1-0.4-1.4-1-0.8-1-1.1-1.9-3-6.6-1.6-2.7-0.9-1-1-0.4-1 0.2-1.3 1.1-0.7 1-1 1.9-3.1 8.4-1.6 3.8-1.2 1.9-1.8 1.9-1.1 0.9-2 1-8.8 3-4 1.8-4.9 3.2-4.9 3.9M219.6 346.4l-4.4-1.3-1.9-1 0.6-1.8-0.6-1-2.5-1.9-1.7-0.9-6.9-2.9-17.2-5.6-7.6-2.9-5.5-2.8-3.5-2.8-1.4-1.9-0.4-1-0.2-0.9 1.3-5.7 0.4-3.8 0-4.7-0.6-7.8-1-6.9-1-3.5-1-0.6-1 1.8-0.9 4-2.2 12.1-0.4 2.8 0.1 1.9 0.5 1.9 1.9 5.6 0.3 1.9-0.2 1-0.5 0.9-1 1-1.4 0.9-1.9 1-2.1 0.7-3 0.5-2.9 0-3-0.8-1.9-1-1.8-1.3-0.9-1-3.2-4.7-1-1-1-0.6-2-0.7-6.9-1.5-2.9-1.2-2-1.4-1.2-1.2-1.5-1.9-3.2-4.8-1-1.2-0.9-0.8-1-0.1-1 0.5-4.2 4.6-1.7 1.3-2 1-2.9 0.4-3-0.6-1.9-0.8-2-1.3-3.9-3.6-2-1.1-1-0.1-1 0.3-1 0.5-4.9 4.8-1.9 1.5-2 1-3 0.9-2.9 0.4-3-0.3-1.9-0.7-4-2.4-0.9-0.4-1-0.1-1 0.3-1 0.7-1 1.1-4 4.7-1.9 1.6-1.9 1.2-26.6 11.8M23.9 342.1l9.8 0.8 24.2 1.2 13.1 1-2.1 0.9-6.9 1-2.8 0.9 5.2 1 17.5 0.9 10.8 0.3 31.5-0.4 9.8 0 10.9 0.4 19.6 1 34.4 1.2 5.9-0.1 5-0.3 5.9-0.8 3.9-0.8M23.9 338.2l4.5 1.2 5 1 7 0.9 7.1 0.6 17.7 1 27.5 0.7 41.3-0.8 28.6-0.1 8.8-0.2 5.9-0.5 6.2-0.7 3.3-0.9 1.5-1 0.5-0.9 0-1-0.5-0.9-0.9-1-1.4-0.9-20.5-9.7-2.9-0.9-2-0.2-6.9 0.4-2.9-0.1-3-0.5-2-0.7-3-1.5-4.8-3.6-2-1.2-2.9-1.1-5.9-1.7-4-1.7-1.9-1.2-4-3.1-1.9-1.1-1-0.2-1 0-5.9 2-2 0.3-2.9 0.1-4-0.8-2.3-0.9-4.5-2.4-2-0.4-1 0-2 0.6-5.9 3.4-1.9 0.9-3 0.9-4.9 0.8-2.9 0-5-0.4-0.9 0.1-2 0.5-6.9 4.3-4.1 2.1-17.5 7.1-7.9 3.6M81 342.3l11.7 0.2 12.8-0.2 48.2-1.9 7.9-0.5 5.9-0.8 3.9-1.3 2-1.2 0.6-1 0.1-0.9-0.4-1-2.1-1.8-3-1.9-4.1-2-2.6-0.9-2.3-0.5-8.8-0.9-5-1.1-3-1.3-6.8-3.4-9.5-3.2-3.3-1.3-5.9-3-1.9-0.9-1-0.2-2-0.1-5.9 0.6-3.9 0-4.9-1-5.9-2.2-3-0.1-2 0.5-6.8 2.9-3.6 1-5.3 1-7.9 0.7-2.9 0.8-8.9 4.5-13.2 5.3-4.3 1.9-3.5 1.9-1.4 1-1.1 0.9-0.6 1-0.2 0.9 0.4 0.9 0.9 1 1.5 0.9 3.8 1.5 5.9 1.4 8.9 1.4 9.8 1.1 8.9 0.6zM73.1 340.4l11.8 0.6 8.8 0.3 21.3-0.9 28.9-2.1 8.8-0.9 6.9-1.3 1.6-0.5 1.8-0.9 0.7-1 0-0.9-0.7-0.9-1.3-1-2-0.9-2.8-1-7.1-1.6-4.9-1.4-8.9-3.5-11.8-3.9-6.9-3.1-1.9-0.7-3-0.5-6.9 0-3.9-0.3-3.9-0.8-5-1.5-2.9-0.2-3 0.5-5.9 2.1-3.9 1.1-4.9 1-7.9 1.3-2.9 0.8-20.3 8.8-3.2 1.9-1.1 1-0.7 0.9-0.2 1 0.3 0.9 0.9 0.9 2.6 1.4 4.7 1.5 5.2 1.1 6.9 1 7.8 0.9zM85.9 339.4l6.8 0.2 16.8-0.7 11.8-0.8 14.3-1.5 6.7-1 4.4-0.9 2.6-1 1.2-0.9 0.2-0.9-0.8-1-1.5-0.9-6.7-2.9-5.7-2.1-11.8-3.8-8.8-3.5-3-0.7-6.9-0.3-3.9-0.5-3.9-0.7-5.9-1.4-3 0.1-2.9 0.6-8.9 2.7-12.8 2.8-3.9 1.2-6.4 2.8-5.8 2.8-2.9 1.9-0.8 1-0.4 0.9 0.2 1 0.8 0.9 1.5 0.9 4 1.5 4.9 1.1 5.9 1 6.9 0.8zM83.6 337.5l8.2 0.4 5.9-0.2 13.7-0.7 9.9-1 8.8-1.3 4.4-1 2.7-0.9 1.4-0.9 0.4-1-0.4-0.9-1.2-1-3.7-1.9-18.3-6.6-4-0.9-10.8-1.2-7.9-1.7-1.9-0.2-2 0.2-2.9 0.6-7.9 2.4-11.8 2.8-3.9 1.1-3.9 1.6-3.5 1.9-2.2 1.9-0.6 1 0 0.9 0.7 1 1.3 0.9 2.2 0.9 3.4 1 5 0.9 5.4 0.8zM83.7 335.6l7.1 0.4 4.9-0.1 9.8-0.5 8.9-0.8 5.7-0.9 3.8-0.9 2.4-0.9 1.3-1 0.3-0.9-0.6-1-1.1-0.9-1.6-1-6.4-2.8-3.8-1.3-3-0.6-11.8-1.6-6.9-1.4-3.9 0.1-3.9 0.8-17.9 4.9-2.6 1-1.9 0.9-1.3 1-0.8 0.9-0.1 1 0.5 0.9 1.3 1 2.4 0.9 3.8 0.9 4.8 0.8zM91 333.7l10.6-0.4 5.3-0.5 4.5-0.7 1.5-0.2 2.8-1 1.2-0.9 0.2-1-0.6-0.9-1.4-1-2.2-0.9-3.4-0.9-16.8-2.8-1.9-0.1-3 0.3-2.9 0.7-6.5 1.8-4.9 1.9-1.5 1-0.8 0.9 0.2 1 1.2 0.9 1.5 0.6 4.9 1.2 5.9 0.7z" fill="none" stroke="#707070" stroke-width="0.4" stroke-opacity="0.9"/>
<rect x="23.9" y="203.3" width="195.7" height="169.2" fill="none" stroke="#000" stroke-width="0.9"/>
<line x1="23.9" y1="372.5" x2="23.9" y2="373.9" stroke="#000" stroke-width="0.9"/>
<line x1="37.9" y1="372.5" x2="37.9" y2="374.8" stroke="#000" stroke-width="0.9"/>
<text x="37.9" y="384.6" font-size="9.4" text-anchor="middle" fill="#000">2</text>
<line x1="51.9" y1="372.5" x2="51.9" y2="373.9" stroke="#000" stroke-width="0.9"/>
<line x1="65.8" y1="372.5" x2="65.8" y2="374.8" stroke="#000" stroke-width="0.9"/>
<text x="65.8" y="384.6" font-size="9.4" text-anchor="middle" fill="#000">4</text>
<line x1="79.8" y1="372.5" x2="79.8" y2="373.9" stroke="#000" stroke-width="0.9"/>
<line x1="93.8" y1="372.5" x2="93.8" y2="374.8" stroke="#000" stroke-width="0.9"/>
<text x="93.8" y="384.6" font-size="9.4" text-anchor="middle" fill="#000">6</text>
<line x1="107.8" y1="372.5" x2="107.8" y2="373.9" stroke="#000" stroke-width="0.9"/>
<line x1="121.8" y1="372.5" x2="121.8" y2="374.8" stroke="#000" stroke-width="0.9"/>
<text x="121.8" y="384.6" font-size="9.4" text-anchor="middle" fill="#000">8</text>
<line x1="135.7" y1="372.5" x2="135.7" y2="373.9" stroke="#000" stroke-width="0.9"/>
<line x1="149.7" y1="372.5" x2="149.7" y2="374.8" stroke="#000" stroke-width="0.9"/>
<text x="149.7" y="384.6" font-size="9.4" text-anchor="middle" fill="#000">10</text>
<line x1="163.7" y1="372.5" x2="163.7" y2="373.9" stroke="#000" stroke-width="0.9"/>
<line x1="177.7" y1="372.5" x2="177.7" y2="374.8" stroke="#000" stroke-width="0.9"/>
<text x="177.7" y="384.6" font-size="9.4" text-anchor="middle" fill="#000">12</text>
<line x1="191.6" y1="372.5" x2="191.6" y2="373.9" stroke="#000" stroke-width="0.9"/>
<line x1="205.6" y1="372.5" x2="205.6" y2="374.8" stroke="#000" stroke-width="0.9"/>
<text x="205.6" y="384.6" font-size="9.4" text-anchor="middle" fill="#000">14</text>
<line x1="219.6" y1="372.5" x2="219.6" y2="373.9" stroke="#000" stroke-width="0.9"/>
<line x1="21.6" y1="372.5" x2="23.9" y2="372.5" stroke="#000" stroke-width="0.9"/>
<text x="20.0" y="375.9" font-size="9.4" text-anchor="end" fill="#000">0</text>
<line x1="22.5" y1="358.4" x2="23.9" y2="358.4" stroke="#000" stroke-width="0.9"/>
<line x1="21.6" y1="344.3" x2="23.9" y2="344.3" stroke="#000" stroke-width="0.9"/>
<text x="20.0" y="347.7" font-size="9.4" text-anchor="end" fill="#000">1</text>
<line x1="22.5" y1="330.2" x2="23.9" y2="330.2" stroke="#000" stroke-width="0.9"/>
<line x1="21.6" y1="316.1" x2="23.9" y2="316.1" stroke="#000" stroke-width="0.9"/>
<text x="20.0" y="319.5" font-size="9.4" text-anchor="end" fill="#000">2</text>
<line x1="22.5" y1="302.0" x2="23.9" y2="302.0" stroke="#000" stroke-width="0.9"/>
<line x1="21.6" y1="287.9" x2="23.9" y2="287.9" stroke="#000" stroke-width="0.9"/>
<text x="20.0" y="291.3" font-size="9.4" text-anchor="end" fill="#000">3</text>
<line x1="22.5" y1="273.8" x2="23.9" y2="273.8" stroke="#000" stroke-width="0.9"/>
<line x1="21.6" y1="259.7" x2="23.9" y2="259.7" stroke="#000" stroke-width="0.9"/>
<text x="20.0" y="263.1" font-size="9.4" text-anchor="end" fill="#000">4</text>
<line x1="22.5" y1="245.6" x2="23.9" y2="245.6" stroke="#000" stroke-width="0.9"/>
<line x1="21.6" y1="231.5" x2="23.9" y2="231.5" stroke="#000" stroke-width="0.9"/>
<text x="20.0" y="234.9" font-size="9.4" text-anchor="end" fill="#000">5</text>
<line x1="22.5" y1="217.4" x2="23.9" y2="217.4" stroke="#000" stroke-width="0.9"/>
<line x1="21.6" y1="203.3" x2="23.9" y2="203.3" stroke="#000" stroke-width="0.9"/>
<text x="20.0" y="206.7" font-size="9.4" text-anchor="end" fill="#000">6</text>
<text x="2.9" y="203.5" font-size="19.5" fill="#000">d</text>
<text x="33.7" y="218.7" font-size="10.6" fill="#fff" textLength="71.6" lengthAdjust="spacingAndGlyphs">Bi<tspan baseline-shift="-22%" font-size="68%">1</tspan>-CeO<tspan baseline-shift="-22%" font-size="68%">2</tspan> Fresh</text>
<text transform="translate(10.2 287.9) rotate(-90)" font-size="10.9" text-anchor="middle" fill="#000">R+α(Å)</text>
<text x="84.6" y="333.0" font-size="10.3" fill="#111" textLength="19.6" lengthAdjust="spacingAndGlyphs">Bi-O</text>
<text x="120.3" y="400.0" font-size="11.0" text-anchor="middle" fill="#000">K(Å<tspan dy="-3.6" font-size="62%">-1</tspan><tspan dy="3.6">)</tspan></text>
<rect x="251.3" y="204.0" width="200.6" height="169.8" fill="#000"/>
<path d="M251.3 371l0 0.3 115.9 0 26.2-0.2 17.2-0.4 13.1-1 6-0.9 5.1-0.9 5-1.2 4-1.2 4.1-1.5 4-1.9 0-72.1-3-2.6-3-3-2.1-2.6-1.7-2.9-1.3-3-1-3.6-0.6-3.8-0.3-3.8-0.3-13.3 0.1-19.9 0.4-4.7 0.5-3.8 1.9-8.6-0.1-10.4-190.1 0 0 166z" fill="#050000" fill-rule="evenodd"/>
<path d="M251.3 368.1l0 0.1 92.7 0 47.4-0.1 11.1-0.3 9.1-0.4 8-0.7 6.1-0.8 8.1-1.7 6-2 3-1.5 2-1.1 2.1-1.6 1.2-1.3 1.2-1.9 0.3-0.9 0.1-1-0.2-1.9-1.4-2.8-3-3.8-1.3-1.9-0.3-1 0.1-0.9 0.4-0.9 1-1 1.5-0.9 5.4-2.3 0-34.9-10.2-9.3-2.6-2.9-2.2-2.8-1.7-2.9-1.4-3.5-1.1-3.9-0.4-3-0.5-4.7-0.2-6.7-0.1-19 0.1-7.5 0.4-4.8 0.7-4.7 1.1-5 1.4-5.5-0.2-10.4-183.7 0 0 163.2zM300.7 277.1l-0.4-0.1-0.3-0.9 2.7-0.4 2 0.1 1.6 0.3-0.3 0.9-2.3 0.3-2-0.1zM333 250.6l-0.4-0.1-0.1-1 0.5-0.2 1 0 0.6 0.2 0 1-0.6 0.2z" fill="#090000" fill-rule="evenodd"/>
<path d="M251.3 365.3l0 0.6 134.1-0.1 13.1-0.3 10.1-0.4 7-0.6 7.1-0.9 6-1.3 5.1-1.7 4-2 2.3-1.9 0.8-0.9 0.9-1.9 0.2-1-0.4-1.9-0.4-0.9-1.4-1.9-6.4-5.7-0.6-1-0.2-0.9 0.5-0.9 1.1-1 1.7-0.9 11-4.2 3.3-1.5 1.7-1 0-20.5-4.9-6-10.2-10.5-3.9-4.7-1.7-2.9-1.5-3.2-1.1-3.4-0.8-3.8-0.5-4.7-0.3-6.7-0.1-19 0.1-8.5 0.4-5.7 0.6-4.7 1-4.8 2.1-7.6-0.3-10.4-179.5 0 0 160.3zM290.6 228.8l-1-0.7-0.2-0.4 0-0.9 1.2-0.8 1 0.1 0.8 0.7 0.1 0.9-0.9 1zM301.7 278l-2-0.2-2.4-0.8-0.2-0.9 2.5-1 4.1-0.2 2.9 0.2 1.2 0.4 1.3 0.6-0.2 0.9-3.2 0.9-3 0.2zM331.9 250.5l-0.1-1 1.2-0.5 1 0 1 0.4 0.2 0.1 0 1-1.2 0.5-1 0z" fill="#0d0000" fill-rule="evenodd"/>
<path d="M251.3 363.4l0 0.3 133.1-0.1 12.1-0.2 9-0.4 8.1-0.7 6-0.8 4.1-0.9 3-0.9 2.7-1.1 1.9-0.9 2.3-1.9 0.7-1 0.4-0.9 0.2-1-0.5-1.9-0.6-1-1.9-1.8-2.2-1.5-5.8-3.3-1.4-0.9-0.7-1 0-0.9 0.9-0.9 1.5-1 2.2-0.9 11.2-3.8 4.2-1.8 2-1.1 8.1-5.2 0-9.9-4.6-3.9-3-2.8-9.5-10.6-3.9-4.6-2.2-3.3-1.7-3.3-1.3-3.4-1.1-4.2-0.8-5.7-0.4-6.6-0.1-20.9 0.1-8.6 0.4-5.6 0.9-5.6 1-4.5 2.1-8-0.2-10.4-176.3 0 0 158.4zM289.6 229.2l-0.7-0.5-0.3-0.5-0.2-0.5 0.1-0.9 0.7-1 0.4-0.3 1-0.3 1 0.1 1.1 0.5 0.6 1 0.1 0.9-0.8 1.2-1 0.6-1 0zM297.7 278.1l-2.6-1.1-0.2-0.9 1.7-1 2.1-0.4 3-0.3 3 0 3.1 0.4 1.7 0.3 1.6 1-0.1 0.9-2.1 1-2.2 0.4-3 0.2-5-0.3zM331.9 250.9l-0.5-0.4 0-1 0.5-0.4 1.1-0.5 1 0 1 0.4 0.6 0.5 0.1 1-0.7 0.5-1 0.4-1-0.1z" fill="#120000" fill-rule="evenodd"/>
<path d="M251.3 361.5l0 0.3 131-0.1 12.1-0.3 9.1-0.4 7.1-0.6 6-0.9 5.1-1.3 2-0.8 2-1.1 1.7-1.5 0.5-0.9 0.2-1-0.2-0.9-0.5-1-0.8-0.9-2.8-1.9-3.1-1.4-6.7-2.4-2.1-1-1.1-0.9 0.1-1 1.1-0.9 4.1-1.9 14.6-4.7 4.8-1.9 12.6-7.6 2-1.9 0.5-1 0.3-0.9-0.1-1-0.5-0.9-0.7-1-2-1.9-6.1-4.7-3.2-2.9-3.7-3.7-4.9-6.1-3-4.4-2-3.8-1.5-3.8-1.1-3.8-0.9-5.7-0.5-6.6-0.2-21.8 0.1-8.6 0.4-5.6 0.7-4.8 1-4.9 2.7-10.3-0.3-10.4-173.8 0 0 156.5zM289.6 229.9l-1-0.6-0.5-0.6-0.4-1 0.1-0.9 0.4-1 1.3-0.9 1.1-0.3 1 0.1 1 0.4 0.9 0.7 0.5 1 0 0.9-0.3 1-0.9 0.9-1.2 0.4-1 0.1zM300.7 279l-3-0.4-2.7-0.6-1.7-1-0.2-0.9 1.3-1 3.3-0.8 3-0.3 4-0.1 3.1 0.3 3.7 0.9 1.3 1-0.1 0.9-1.6 1-2.3 0.6-3.1 0.4-4 0zM333 251.6l-1.1-0.3-0.9-0.8-0.1-1 1.2-0.9 1.9-0.2 1 0.3 1 0.7 0.1 1.1-1.1 0.9-1 0.2z" fill="#170000" fill-rule="evenodd"/>
<path d="M251.3 358.6l0 0.2 101.8 0 23.2-0.1 13.1-0.3 12.1-0.7 7.2-1 3.5-0.9 2.1-1 1.1-0.9 0.3-1-0.4-0.9-0.7-0.7-2-1.1-3-1.1-3.1-0.7-5-0.9-6.1-0.8-13.1-1.1-14.1-0.2-116.9 0.6 0 11.7zM311.3 342.5l62 0.5 6-0.2 7.1-0.5 8-1.1 6.1-1.1 11.1-2.7 8-2.3 6-2.1 3.8-1.9 4.4-2.8 6.9-3.8 2.1-1.5 1.3-1.4 0.5-0.9 0.1-1-0.1-0.9-1.4-1.9-2.1-1.9-6.4-4.8-3.4-2.8-2.7-2.8-2.7-3.8-2.4-3.8-2.3-4.8-1.6-4.3-1-4.2-0.8-5.7-0.4-6.6-0.1-22.8 0.1-7.6 0.4-5.7 0.9-5.7 1-4.7 2.8-10.5-0.3-10.4-170.9 0 0 138.1 59.5 0.4zM331.9 251.7l-0.5-0.3-1-0.9 0-1 0.5-0.6 1-0.6 1.1-0.2 2 0.2 0.6 0.3 0.9 0.9 0.1 1-0.6 0.7-1 0.5-2 0.2zM289.6 230.7l-1-0.4-1-0.9-0.5-0.7-0.3-1 0-0.9 0.8-1.5 1-0.8 1-0.5 2-0.1 1 0.4 1 0.6 1 1.4 0.3 1.4-0.3 1-1 1.2-1.1 0.7-1.9 0.3zM295.7 279l-3.4-1-1.4-1-0.1-0.9 1-1 1.8-0.7 4.1-0.8 4-0.3 4 0.1 4.1 0.5 1.6 0.3 2.4 0.9 1.2 1-0.1 0.9-1.3 1-3 0.9-4.9 0.6-5 0.1-4-0.4z" fill="#1c0000" fill-rule="evenodd"/>
<path d="M251.3 339.7l0 0.1 56.5 0.3 59.4 0 15.1-0.2 11.1-0.8 7.1-1 8.1-1.6 6-1.7 5.2-1.8 3.7-1.9 4.2-2.9 9.1-5.1 1.7-1.5 0.6-0.9 0.4-1 0-0.9-0.3-1-1.5-1.9-9.8-7.6-2.9-2.8-2.2-2.8-2.2-3.8-2.5-5.7-1.5-4.7-1-4.7-0.6-4.9-0.3-6.6-0.1-23.7 0.1-6.7 0.5-5.6 0.9-5.7 1.5-6.7 2.5-9.5-0.3-10.4-168.5 0 0 134.7zM298.7 280l-5.1-0.8-3.7-1.2-1.1-1-0.2-0.9 0.8-1 2.1-0.9 4.2-1 5-0.4 6 0.1 3.2 0.3 4.1 1 2 0.9 0.9 1-0.1 0.9-1.1 1-0.9 0.4-1.5 0.5-2.5 0.6-5.1 0.6-6-0.1zM330.9 251.6l-1-1.1 0-1 0.7-0.9 1.3-0.6 1.1-0.2 2 0.2 1 0.5 1 1 0 1-0.7 0.9-1.3 0.7-1 0.1-2.1-0.2zM348.1 298.9l-0.2 0 0.2-0.2 0.2 0.2zM290.6 231.5l-2-0.5-1-0.5-1-1.1-0.6-1.7 0-0.9 0.3-1 0.6-0.9 1.7-1.2 2-0.5 2 0.4 1 0.5 1 0.8 0.6 0.9 0.3 1 0.1 0.9-0.2 1-0.6 0.9-0.9 1-1.3 0.6-1.7 0.3z" fill="#220000" fill-rule="evenodd"/>
<path d="M265.9 338.7l53.9 0.3 45.4-0.1 17.1-0.3 10.1-0.7 6.1-0.7 6-1.1 6.1-1.5 4.5-1.6 3.7-1.9 5.2-3.8 6.9-3.8 2.7-1.9 0.8-0.9 0.5-1 0.2-0.9-0.1-1-0.5-0.9-0.7-1-2.1-1.9-6.3-4.7-2.2-1.9-2.5-2.8-2.1-3.2-2-4.4-1.4-3.8-1.3-4.8-0.8-4.7-0.5-4.8-0.3-6.6 0.1-23.7 0.2-6.7 0.5-5.6 0.8-4.8 1.3-5.7 3-11.4-0.4-10.4-166.5 0 0 134.6 14.1 0.1zM294.6 280l-4.7-1.1-2.2-0.9-1-1-0.2-0.9 0.7-1 1.7-0.9 3.7-1 6.1-0.8 6-0.1 5.1 0.4 3 0.5 2 0.5 1.4 0.5 1.7 0.9 0.8 1-0.1 0.9-1 1-2 0.9-1.8 0.6-5 0.8-7.1 0.3-6-0.4zM333 252.5l-1.1-0.2-1.8-0.9-0.7-0.9 0-1 0.6-0.9 0.9-0.6 2.1-0.5 1.4 0.1 1.6 0.6 0.6 0.4 0.8 0.9 0 1-0.5 0.9-1.9 1-1 0.1zM346.1 299l-0.8-0.1 0.2-1 2.6-0.2 2 0.1 0.6 0.1 0.2 1-1.8 0.2-2 0zM288.6 231.8l-2-1.2-0.8-1-0.4-0.9-0.2-1 0.3-1.9 1.1-1.6 2-1.2 2-0.4 2 0.3 1.8 1 1.3 1.4 0.5 1.5-0.2 1.9-0.4 0.9-0.7 1-1.3 0.8-2 0.7-2-0.1z" fill="#270000" fill-rule="evenodd"/>
<path d="M251.3 337.8l57.5 0.3 48.3-0.1 23.2-0.3 12.1-0.7 6.1-0.8 6-1.2 5.1-1.4 3.7-1.5 1.6-1 5-3.8 6.6-3.8 2.8-1.9 0.9-0.9 0.6-1 0.4-0.9 0-1-0.3-0.9-1.5-1.9-9.1-7.6-1.8-1.9-1.9-2.7-1.9-3.9-1.7-4.8-1.2-4.7-0.9-4.8-0.4-4.7-0.2-6.7 0.1-23.7 0.2-6.6 0.5-5.7 1-5.7 4.3-17.1-0.3-10.4-164.8 0 0 132.8zM297.7 280.9l-6.1-0.8-4.1-1.2-1.9-0.9-1-1-0.2-0.9 0.6-1 1.5-0.9 2.1-0.8 5-1 6.1-0.5 7 0 4.1 0.4 3 0.5 2 0.5 2.4 0.9 1.5 0.9 0.7 1-0.1 0.9-0.5 0.5-0.4 0.5-1.7 0.9-3.1 1-2.8 0.5-6.1 0.6-7 0zM331.9 252.6l-1-0.3-1.3-0.9-0.6-0.9-0.1-1 0.6-0.9 1.4-0.9 1-0.3 2.1-0.1 1.4 0.3 1.7 1 0.6 0.9 0.1 1-0.5 0.9-1.3 0.9-1 0.4-2 0.1zM345 299.1l-0.9-0.2 0-1 0.9-0.2 3.1-0.3 3 0.3 0.9 0.2 0.2 1-3.1 0.5-3-0.1zM289.6 232.6l-2-0.6-1.9-1.4-1.1-1.9-0.2-1.9 0.7-1.9 0.7-1 1.3-0.9 1.5-0.7 1-0.2 2 0 2 0.6 1.7 1.2 0.8 1 0.5 0.9 0.3 1.9-0.6 1.9-0.6 1-1.1 0.9-2 1-2 0.2z" fill="#2d0000" fill-rule="evenodd"/>
<path d="M251.3 336.8l44.4 0.4 45.3 0 34.3-0.3 9.1-0.4 7-0.5 5.1-0.6 5-0.9 4-1.1 3.3-1.3 2.8-1.7 5-3.9 7.7-4.9 1.9-1.9 0.4-0.9 0.2-1-0.1-0.9-1.2-1.9-1.9-1.9-6.7-5.7-2.3-2.7-1.4-2-1.6-3.7-1.3-3.9-1.4-5.7-0.7-4.8-0.3-4.7-0.2-5.7 0.3-23.7 0.2-6.7 0.5-4.7 0.9-5.7 4.8-19-0.4-10.4-162.7 0 0 131.9zM274.5 326.4l9.1-0.4 10.1 0.4-9.1 0.4-9.1-0.3zM330.9 252.7l-1-0.4-1-0.8-0.6-1 0-1 0.5-0.9 1.1-0.9 1-0.4 2.1-0.3 2 0.2 1.3 0.4 1.3 1 0.6 0.9 0.1 1-0.4 0.9-1.1 1-1.8 0.6-1 0.1-2.1-0.1zM343 298.9l-0.1 0 0-1 2.1-0.6 2.1-0.2 2 0 3 0.4 1.2 0.4 0.1 1-2.3 0.6-3 0.2-2-0.1-2.1-0.4zM291.6 280.8l-5-1.1-2.2-0.8-1.9-1.1-0.7-0.8-0.2-0.9 0.4-1 1.3-0.9 1.3-0.6 2-0.7 3-0.7 4-0.6 4.1-0.3 8-0.1 7.1 0.7 3 0.6 2.8 0.7 2.1 1 1.3 0.9 0.5 1 0 0.9-0.8 1-1.5 0.9-2.5 1-2.9 0.7-7 0.9-8.1 0.1-7.1-0.6zM289.6 233.5l-2-0.5-1.1-0.5-1.3-1-1.4-1.9-0.5-1.9 0-0.9 0.6-1.9 0.6-1 1.1-1 2-1.1 1-0.3 2-0.2 2 0.3 1 0.3 2.1 1.3 1.3 1.7 0.4 0.9 0.3 1.9-0.5 1.9-0.5 1-1 1.1-2.1 1.2-1 0.4-2 0.2z" fill="#350000" fill-rule="evenodd"/>
<path d="M251.3 335.9l0 0.2 26.2 0.3 55.5 0.1 40.3-0.4 11.1-0.4 7-0.6 5.1-0.8 4-0.8 4-1.3 2.1-1.1 6.3-4.7 6-3.8 1.8-1.4 1.4-1.5 0.6-0.9 0.3-1 0-0.9-0.3-1-1.3-1.9-7.3-6.6-2.5-2.8-1.2-1.9-1.7-3.8-1.1-3.8-1.1-4.8-0.7-5.7-0.4-9.5 0.4-23.7 0.3-6.6 0.5-4.8 1-5.6 5-20-0.4-10.4-152.8 0-0.4 6.6-0.6 6.6-1.1 4.9-1 2.3-1 0.9-1-0.2-1-1.5-1-3.3-1-7 0 121.6zM277.5 327.3l-5-0.3-4.5-0.6 9.5-0.7 9.1-0.1 7 0.3 6.1 0.5-4 0.5-5 0.4-12.2 0zM331.9 253.4l-2-0.6-1-0.7-0.7-0.7-0.5-0.9 0-1 0.4-0.9 1.1-1 0.7-0.4 2-0.5 2.1 0 2 0.5 1 0.4 1.1 1 0.6 0.9 0.1 1-0.4 0.9-1.4 1.3-2 0.7-2 0.1zM346.1 299.9l-2.1-0.3-2.1-0.7-0.1-1 2.9-0.9 4.4-0.2 2.2 0.2 2.8 0.8 0.4 0.1 0 1-3.2 0.9-4.2 0.2zM293.6 281.8l-7-1.1-2.9-0.8-2.5-1-1.6-0.9-0.9-1-0.2-0.9 0.3-1 1-0.9 1.9-1 3-0.9 3.9-0.8 4-0.5 9.1-0.5 9.1 0.4 4 0.6 3.7 0.8 2.8 0.9 1.8 1 1.1 0.9 0.5 1-0.1 0.9-0.7 1-1 0.8-2.4 1.1-2.7 0.8-6.5 1.1-8.6 0.5-8.1-0.4zM286.6 233.5l-1.8-1-1.1-1-1.2-1.9-0.3-0.9-0.2-1.9 0.2-1 0.9-1.9 0.8-0.9 1.1-1 2.6-1.2 3-0.3 3 0.6 1.7 0.9 1.2 1 1.3 1.9 0.6 1.9 0 1.9-0.3 0.9-0.5 1-0.9 1.2-1 0.9-2.1 1.1-3 0.5-3-0.4z" fill="#3c0000" fill-rule="evenodd"/>
<path d="M297.5 335.9l32.4 0 36.3-0.4 15.1-0.5 10.1-0.9 6.3-1.1 3.1-0.9 2.1-1 1.6-1 5-3.7 6.1-4 2.2-1.7 0.8-1 0.7-0.9 0.3-1 0.2-0.9-0.2-1-0.5-0.9-1.5-1.9-5.1-4.8-2.7-2.8-1.4-1.9-1.5-2.8-1.4-3.8-0.9-3.8-0.7-3.8-0.5-4.8-0.2-9.5 0.6-23.7 0.3-5.7 0.5-4.7 1.1-5.7 5.3-20.9-0.4-10.4-142.9 0-0.3 15.2-0.6 8.5-1.2 8.6-1.4 5.6-1.2 2.9-1.6 2.8-1.8 1.9-1.2 1-2.1 0.8-2 0.1-2-0.6-1-0.6 0 85.2 45.4 0.5zM330.9 253.6l-2-0.9-1.4-1.3-0.4-0.9 0-1 0.3-0.9 1.5-1.3 2-0.8 2.1-0.2 2 0.3 2 0.7 1.6 1.3 0.5 0.9 0.1 1-0.3 0.9-0.9 1.1-2 1-2 0.4-2.1-0.1zM344 299.9l-3.1-1-0.1-1 1.2-0.6 1-0.3 3.1-0.4 5 0.1 2 0.3 2 0.7 0.4 0.2 0 1-2.4 0.9-2 0.3-3 0.1-3.1-0.2zM268.4 327.3l-5.5-0.9 8.6-0.9 11-0.3 12.2 0.2 9.6 1-5.4 0.9-14.3 0.4-15.2-0.3zM297.7 282.8l-5.1-0.4-4.7-0.6-4.7-1-3.2-0.9-2.3-1-1.5-0.9-1-1-0.4-0.9 0.2-1 0.8-0.9 1.5-1 1.2-0.4 3-1 4.1-0.8 5-0.6 5.1-0.4 10-0.1 5.1 0.4 4 0.4 4 0.8 2.8 0.8 2.4 0.9 1.5 1 1 0.9 0.4 1-0.1 0.9-0.6 1-1.2 0.9-1.1 0.6-3 1.2-3.1 0.7-4 0.7-5 0.5-5.1 0.3-5-0.1zM286.6 234.6l-2-0.9-1-0.7-1.6-1.5-0.7-0.9-0.4-1-0.5-1.9 0-0.9 0.5-1.9 1.1-1.9 1-1 2.6-1.5 3-0.8 2-0.1 2 0.4 2 0.7 1.1 0.6 1 0.8 1.5 1.8 0.5 1 0.5 1.9 0 1.9-0.2 0.9-1 1.9-0.8 1-1.1 0.9-1.5 0.8-3 0.9-2 0.1-2-0.3z" fill="#460000" fill-rule="evenodd"/>
<path d="M273.8 334.9l35 0.3 31.2-0.2 31.3-0.5 9-0.4 6.1-0.5 7-1.1 2-0.4 2.7-1 3.4-1.9 4-2.8 5.9-3.8 2.5-1.9 1.6-1.9 0.5-1 0.2-0.9-0.1-1-0.3-0.9-0.6-1-1.6-1.9-6.7-6.6-1.5-1.9-1.6-2.8-1.3-3.7-0.9-3.9-0.7-4.8-0.4-4.7 0.1-7.6 0.8-23.7 0.4-5.7 0.7-5.4 1-5.1 4.6-17 1.1-4.8-0.5-10.4-134.4 0 0 9.5 0.1 2.8 0.6 3.8 0.5 1.5 0.4 0.4 0.6 0.6 1-0.2 5-2.7 3.1-1 3-0.3 3 0.2 3 1 2.1 1.2 1.3 1.2 0.8 1 1 1.9 0.4 0.9 0.2 1.9-0.2 1.9-0.4 1-1.1 1.9-0.8 0.9-1.2 1-2.1 1.1-3 0.8-3 0.2-2-0.3-2-0.5-2.9-1.3-4.2-2.8-1-0.5-1 0.3-1 1.5-0.8 2.4-1.9 9.5-1.3 4.8-2.1 4.7-2 3.1-3 3.2-2 1.5-2 0.9-2.1 0.6-2 0.2-2-0.2-2-0.5 0 71.5 22.2 0.3zM331.9 254.3l-2-0.4-1-0.5-1.6-1-0.7-1-0.4-0.9 0-1 0.3-0.9 0.8-1 1.5-0.9 2.1-0.6 3.1-0.1 2 0.4 2.3 1.2 0.9 1 0.5 0.9 0.1 1-0.3 0.9-0.5 0.9-1.3 1-1.7 0.7-3 0.4zM343 300l-1-0.2-2.2-0.9-0.2-1 1.7-0.9 2.7-0.6 3.1-0.2 3 0 3 0.4 1.7 0.4 2 0.9-0.1 1-1.6 0.7-2 0.5-3 0.3-3 0-3.1-0.2zM261.4 327.4l-1-0.1-3.4-0.9 8.4-1.1 18.2-0.3 18.4 0.4 7.3 1-3.5 0.9-5.1 0.4-9.1 0.3-11.1 0.1-10-0.2-8.1-0.4zM287.6 282.8l-5.1-0.8-5.1-1.2-3.9-1.3-3-1.5-1.1-1-0.8-0.9-0.2-1 0.2-0.9 0.8-0.9 1.7-1 3-0.9 4.4-0.9 6.1-0.8 7-0.5 6.1-0.3 6 0 6.1 0.3 5 0.6 5 0.8 3.1 0.8 3 1.1 1.4 0.7 1.3 1 0.8 0.9 0.3 1-0.1 0.9-0.5 1-1.1 0.9-1.6 1-2.5 1-4.1 1.1-4 0.7-5 0.6-5.1 0.3-6 0-6.1-0.2-5-0.5z" fill="#500100" fill-rule="evenodd"/>
<path d="M263.3 334l34.4 0.4 32.2 0 33.3-0.6 18.1-0.8 7.5-0.9 4-1 2.5-0.9 2.2-1.2 8.9-5.5 4.1-2.8 1.7-1.9 0.5-1 0.3-0.9 0-1-0.2-0.9-0.5-1-1.4-1.9-5.8-5.7-1.7-1.8-1.4-1.9-1.1-1.9-1.2-2.9-0.9-3.8-0.7-4.7-0.3-4.8 0.1-6.6 0.7-12.3 0.6-12.4 0.4-5.7 0.9-5.7 1-4.7 4.7-17.1 1.3-5.7-0.5-10.4-126.7 0 0.2 7.6 0.3 1.9 0.7 1.4 1 0.8 1.1 0.4 6 0.7 3 0.7 2 0.8 2.1 1.1 2 1.7 1 1.2 1 1.6 0.7 1.9 0.2 2.9-0.4 1.9-0.3 0.9-1.2 1.9-2 1.9-2 1.3-2.1 0.8-2 0.5-3 0.4-4 0.1-2.1 0.3-1 0.4-1 0.9-0.6 1-0.6 1.9-1.4 6.6-1.3 4.8-3.5 8.5-0.2 1.9 0.3 1 1.3 1 2 0.7 2 0.3 5.1 0.2 14.1-0.1 8 0.1 9.1 0.8 6.1 0.9 5 1.3 4 1.8 1.9 1.5 0.7 0.9 0.2 1-0.1 0.9-0.4 1-1 0.9-2.3 1.4-3.8 1.5-4.2 1-5.1 0.8-6 0.6-7.1 0.3-7 0-6.1-0.4-7.1-0.7-6-0.9-6-1.3-5-1.3-5.5-1.9-8.7-4 0 52.3 5.8-0.9 4.3-0.2 10.1-0.4 11-0.1 11.1 0.1 11.1 0.4 3 0.2 6.4 1-2.4 0.9-6 0.5-11.1 0.5-12.1 0.2-12-0.2-11.1-0.4-6.2-0.6-1.9-0.8 0 7.2 11.1 0.2zM341 299.9l-2.3-1-0.2-1 1.3-0.9 1.2-0.4 3-0.5 3.1-0.2 4 0.1 3 0.4 2.3 0.6 1.6 0.9-0.1 1-1.9 0.9-2.9 0.6-4 0.3-4.1-0.2-3-0.4zM329.9 254.5l-2-0.8-1.7-1.3-0.7-1-0.3-0.9 0-1 0.3-0.9 0.7-1 0.7-0.6 2-1 3-0.5 3.1 0.3 2 0.6 2 1.3 0.8 0.9 0.4 0.9 0.1 1-0.1 0.9-0.6 1-0.6 0.7-2 1.1-1 0.4-2 0.3-3.1-0.1z" fill="#5b0100" fill-rule="evenodd"/>
<path d="M261.1 333l35.6 0.6 33.2 0 29.5-0.6 19.1-0.9 7.2-1 3.7-0.9 2-0.8 4-1.8 7.1-3.8 3-1.8 2-1.6 1.7-1.6 0.6-1 0.4-1.9-0.1-0.9-0.4-1-1.4-1.9-7.6-7.5-1.5-1.9-1.3-1.9-1.2-2.9-0.8-2.8-0.7-3.8-0.3-4.8 0.2-6.6 1.1-13.3 0.7-12.3 0.6-5.7 1-5.7 1-4.8 4.6-16.1 1.7-6.6 0.1-1 0-2.8-0.6-7.6-118.9 0 0.2 5.7 0.5 1.9 0.5 0.9 0.9 1 1.3 0.9 4.8 2.2 2.1 1.2 2.8 2.3 1.6 1.9 1.1 1.9 0.9 2.9 0.1 1.9-0.2 1.9-0.7 1.9-1.1 1.9-1.5 1.6-2 1.7-2 1.1-4.9 2.2-1.8 0.9-1.1 1-0.6 0.9-0.8 1.9-1.5 7.6-1.7 6.7-0.2 1.9 0.5 1.2 0.5 0.7 1.6 0.9 4.4 1 22.7 1.3 7 0.9 5.1 1.1 5 1.6 3.2 1.7 2.1 1.9 0.6 0.9 0.2 1-0.1 0.9-0.4 1-0.5 0.6-1.5 1.3-2.6 1.4-3 1-4 1.1-4.1 0.7-10 1.2-10.1 0.3-11.1-0.3-30.2-2-7.1-0.9 0 42.9 17.1-0.8 21.2-0.1 10.1 0.3 10.1 0.5 3.1 0.2 6 1-1.4 0.9-3.7 0.5-9.1 0.6-9 0.3-13.2 0.2-13.1 0-10-0.3-8.1-0.5 0 4.6 9.1 0.3zM345 300.8l-4-0.6-2-0.6-1.4-0.7-0.3-1 0.7-0.6 0.4-0.3 1.6-0.6 3-0.6 4.1-0.3 4 0.1 4 0.6 2.8 0.8 1.4 0.9-0.2 1-1.7 0.9-3.3 0.7-4 0.4-4 0zM329.9 255.3l-2-0.6-1-0.5-1.3-0.9-0.9-0.9-0.6-1-0.2-0.9 0-1 0.2-0.9 0.7-1 1-0.9 2.1-1.1 3-0.6 2.1 0.1 2 0.3 3 1.1 1.6 1.1 0.7 1 0.5 0.9 0.1 1-0.1 0.9-0.4 1-0.8 0.9-1.6 1.2-1 0.4-3 0.7-3.1-0.1z" fill="#660100" fill-rule="evenodd"/>
<path d="M275.5 332.1l27.2 0.5 27.2-0.1 19.4-0.4 15.9-0.8 7.1-0.5 6-0.6 3-0.6 7.1-1.8 5-1.9 5.1-2.2 3.7-2.1 2.6-1.9 1.6-1.9 0.5-0.9 0.1-1 0-0.9-0.3-1-0.6-0.9-1.5-1.9-8-7.6-1.6-1.9-1.3-1.9-0.9-1.9-0.9-2.8-0.5-2.9-0.3-3.8 0.1-3.8 0.4-3.8 1.7-13.2 1.1-13.3 1-6.7 1.9-8.5 5.1-17.1 1.8-7.6-0.7-10.4-109.7 0 0.1 5.7 0.4 1.9 0.5 0.9 1.3 1.9 4.6 4.2 2.7 3.4 1 1.9 0.8 1.9 0.8 3.8 0 2.9-0.6 2.8-1.2 2.8-2.6 4.8-0.9 2.8-1.7 11.4 0 1.9 0.2 1 0.7 0.9 1.5 1 3.1 0.9 16.4 2.4 5 1.1 5 1.7 4.1 1.9 3.2 2.4 0.9 0.9 0.9 1.6 0.3 1.3 0 0.9-0.3 1-0.6 0.9-0.9 1-2.9 1.9-4.7 1.7-6 1.4-7.1 1.1-9 0.8-24.2 0.9-8.1 0.7-5 1-13.1 4-4.1 0.8-3 0.4 0 30.1 20.2-0.6 23.1 0.1 10.1 0.3 10.1 0.6 4.4 0.3 5.9 1-0.2 0.9-2 0.4-6.1 0.7-7 0.5-25.2 0.8-33.3 0.2 0 0.7 4.2 0.5 20 1zM343 300.9l-4.9-1.1-1.8-0.9-0.4-1 0.8-0.9 2.4-1 3.9-0.7 5.1-0.2 5 0.2 3.9 0.7 2.8 1 1.1 0.9-0.2 1-1.6 0.9-5 1.1-5 0.3-5.1-0.2zM327.9 256.4l-2-0.7-2-1.1-1.5-1.3-0.6-0.9-0.5-1-0.2-1.9 0.3-0.9 0.5-1 0.9-0.9 1.4-1 1.7-0.6 2-0.5 2-0.3 2 0.1 3.1 0.4 3 1.1 2.3 1.7 1.2 1.9 0.1 1.9-0.3 1-0.6 0.9-0.9 1-0.8 0.6-2 1.1-2 0.6-2 0.2-2.1 0.1-2-0.3z" fill="#740100" fill-rule="evenodd"/>
<path d="M312.5 330.2l6.3 0.6 12.1 0.1 16-0.7 14.5-1 14.9-1.4 5-0.8 5.1-1 7-2.2 4.1-1.7 2.5-1.4 1.5-1.1 1.7-1.8 0.6-0.9 0.2-1 0-0.9-0.7-1.9-2.4-2.9-7.8-6.6-1.9-1.9-1.6-1.9-1.2-1.9-0.8-1.9-0.7-2.8-0.2-2.9 0.1-2.8 0.5-3.8 2.7-14.2 1.7-13.3 1.4-7.6 1.9-7.6 5.2-17.1 2.2-8.5 0-2.9-0.4-6.6-0.2-1.9-101.7 0-0.1 6.6 0.2 1.9 0.4 1.9 4.5 5.7 6.2 9.5 3.5 4.1 6.2 6.3 2.3 1.9 2.8 1 5.8 0.7 4.1 0.9 2 0.8 2 1.3 1.8 2 0.6 1.9 0 0.9-0.6 1.9-0.8 1.3-1 1.2-3.9 3.2-0.6 1-0.1 0.9 0.4 1.9 1 1.9 1.6 1.9 3.6 3.8 2.1 2.8 0.9 1.9 0.2 1-0.1 1.9-0.4 0.9-1.3 1.9-2.3 1.9-3.1 1.5-3 1-7.1 1.5-6 1-24.2 2.6-6.1 1.1-6 1.7-13 4.8-5.7 1.9-6.4 1.9-9.2 2.4 0 19.9 20.2-0.3 22.1 0.1 17.2 0.6 15.2 1 6.8 1 2.4 0.9-1.2 0.5-5.1 0.9-8 1-8.1 0.5zM341 300.9l-4.4-1.1-1.7-0.9-0.5-1 0.5-0.9 1.1-0.7 3-1 5-0.7 5.1-0.1 5 0.4 5.1 0.9 2.7 1.2 0.9 0.9-0.3 1-1.6 0.9-3.8 1-5 0.6-5 0.1-5.1-0.4z" fill="#820200" fill-rule="evenodd"/>
<path d="M350.9 326.4l8.3 0.1 10-0.3 7.1-0.5 7.1-1 6-1.4 5-1.8 2.1-1 2-1.3 1.5-1.4 0.7-0.9 0.3-1 0.1-0.9-0.2-1-0.4-0.9-1.5-1.9-3.2-2.9-8.7-6.6-2.2-1.9-1.7-1.9-1.6-2.8-0.5-1.9-0.1-1.9 0.3-2.9 0.7-2.8 3.4-10.6 1.5-5.5 2.2-12.4 2.2-9.5 2.1-7.6 4.9-15.1 2.1-7.6 0.5-2.9-0.8-10.4-95.1 0-0.4 5.7 0.1 4.7 3.4 4.8 4.7 5.9 5.8 6.4 8.6 8.5 1.2 1 1.9 0.9 4.7 1.6 4 1.7 2 1.5 1.5 1.9 0.5 0.9 0.3 1.9-0.2 1.9-1.1 3.8 0 1.3 2.7 7.3 4.4 7.5 1.2 2.9 0.3 1.9-0.1 1.9-0.4 1.7-0.6 1.1-1.4 2-2 1.6-2.4 1.2-3 0.9-4.7 0.9-6.1 0.6-18.1 2.5-11.1 2-9.1 2.2-25.8 7-14.5 3.6 0 16.1 27.2-0.1 26.2 0.5 16.2 0.7 29.2 1.9zM347.1 301.7l-5.1-0.3-4-0.7-2.9-0.9-1.7-0.9-0.7-1 0.2-0.9 1-1 3.1-1.3 6-1 5.1-0.1 5 0.3 6.1 0.9 4 1.3 1.5 0.9 0.5 0.9-0.5 1-1.7 0.9-3.2 1-5.7 0.8-6 0.2z" fill="#900200" fill-rule="evenodd"/>
<path d="M332.6 324.5l15.5 0.5 12.1-0.1 12.1-0.5 8-0.8 7.1-1.4 3-1 3-1.2 2.1-1.2 1.2-1 0.8-0.9 0.5-1 0.2-0.9-0.1-1-1.1-1.9-1.8-1.9-2.4-1.9-5.4-3.5-8.1-4.9-3-1.6-3-1.1-1-0.2-1 0.1-2.8 1.8-2.4 0.9-5.9 1.4-7.1 0.8-8.1 0-7-0.9-4.6-1.3-1.8-0.9-1-1-0.4-0.9 0.4-1.9-0.6-1-1.1 0-5 0.1-6.1 0.7-7 1-9.1 1.6-17.1 3.7-33.3 8.1 0 13.1 46.4 0.7 34.2 1.3zM365 294.1l4.2 1 1-0.1 0.7-0.9-0.3-2.8 0.1-1 0.4-0.9 1.3-1.9 3.9-4.7 2-2.8 3-5.3 1.9-4.3 1.2-3.8 1.2-5.7 3.4-12.3 7.3-21.8 2.4-8.6 0.7-3.8-0.4-5.7-0.5-4.7-89.7 0-0.4 5.7-0.1 4.7 4 5.7 7.4 8.6 10 10.4 2.4 1.9 7.9 4.2 1.9 1.5 1.5 1.9 0.4 0.9 0.5 1.9 0.2 3.8 0.6 1.9 2.1 3.8 3.3 6.7 5.7 9.4 1.8 3.8 1.9 4.8 0.4 1.9-0.1 0.9-0.4 1-1.9 1.9 0.4 0.9 2.8 1 3.1 0.7z" fill="#9e0200" fill-rule="evenodd"/>
<path d="M325.5 323.5l15.5 0.4 15.1-0.1 13.1-0.6 9.1-0.9 4-0.6 4.1-0.9 3-1 2-0.9 1.7-1.1 1.1-0.9 0.6-1 0.3-0.9 0-1-0.4-0.9-1.4-1.9-3.9-3-4-2.3-4.1-2.1-4-1.7-3-1-2-0.4-2.1-0.1-15.1 1.7-6 0.1-6.1-0.2-5-0.7-3.7-0.7-3-1-5.4-2.2-3-0.5-5.1 0.2-6 0.7-8.1 1.3-9.1 1.7-22.1 4.9-21.2 5.4 0 9.5 13 0.8 60.6 1.9zM366.9 278l1.3 0.1 2-0.2 2.1-0.6 2-1.3 2-1.8 2-2.5 1.4-2.2 1.3-2.9 6.4-19 6.8-18.9 2.5-8.6 1.2-5.7-0.4-5.7-0.5-4.7-85.1 0-0.5 5.7-0.1 4.7 1.8 2.9 2.9 3.8 4 4.7 5.2 5.7 7.3 7.6 2.2 1.9 6.3 4 1.9 1.7 0.8 0.9 1.1 1.9 1.5 4.8 0.8 1.6 3.4 5 2.6 4.5 2 3 3.1 3.6 3 3 2 1.5 3 1.3z" fill="#ac0300" fill-rule="evenodd"/>
<path d="M317.9 322.6l13 0.4 16.2-0.1 15.1-0.5 11.1-0.8 7-1 3.8-0.9 2.3-0.7 2.7-1.2 1.3-0.8 1-1.1 0.4-0.9 0.1-1-0.3-0.9-0.6-1-1.6-1.5-2-1.5-4-2.2-4.1-1.8-4-1.5-3-0.9-2.1-0.4-3-0.2-15.1 0.7-9.1-0.3-6-0.7-10.1-2.2-4-0.5-5.1 0.1-8 0.9-11.1 1.9-10.1 1.9-12.1 2.7-11 2.7-10 2.8-4.2 1.6 0 4.7 6 1.1 9.1 0.9 11.1 0.7 40.3 1.5zM364.2 271.4l2 0.6 2 0.2 2-0.3 2.1-0.7 2-1.4 1.3-1.3 1.7-2.2 1.4-2.5 4.2-9.5 6-15.2 3.8-10.4 2.1-6.7 1-3.8 0.7-3.8-0.5-5.7-0.5-4.7-80.9 0-0.5 4.7-0.2 5.7 2.5 3.8 2.9 3.8 3.9 4.8 10.6 11.3 3 2.9 4.2 3.1 2.9 2.6 1.5 1.9 2.4 4.7 1.2 1.9 7.1 9.5 3.1 3.2 2 1.7 2 1.3z" fill="#bb0400" fill-rule="evenodd"/>
<path d="M313.8 321.6l16.1 0.5 10.1-0.1 16.1-0.4 12.1-0.8 8.1-1 5.2-1 2.9-1 1.9-0.9 1.3-1 0.6-0.9 0.2-1-0.2-0.9-0.6-1-1.2-1.2-2.4-1.6-2.7-1.4-4-1.7-4-1.4-3.1-0.8-3-0.6-3-0.2-14.1 0-7.1-0.3-6-0.6-9.1-1.5-4-0.3-6.1 0.2-10 1.3-11.1 1.8-11.1 2.2-10 2.3-10.3 2.9-5.2 1.9-1.8 0.9-1 1 0 0.9 1.3 1 3.1 0.9 5.7 1 9.3 0.9 8.9 0.6 27.2 1.3zM366.8 267.6l2.4-0.2 2.1-0.7 2-1.3 1.5-1.6 4.5-7 2.7-5.4 2.9-6.6 6.1-15.2 1.9-5.7 1.5-5.7 0.6-3.8-0.4-5.7-0.6-4.7-77 0-0.6 4.7-0.2 5.7 1.7 2.9 3.5 4.7 5.6 6.7 8.8 9.4 2.9 2.9 4.3 3.6 2.1 2.1 1.5 1.9 3.5 5.2 4 4.8 4.1 4.3 2 1.8 2 1.4 2 0.9 2 0.5z" fill="#c90500" fill-rule="evenodd"/>
<path d="M314.1 320.7l15.8 0.4 7.1 0 15.1-0.4 12.1-0.8 8.1-0.8 6-1.2 3.1-1 1.7-1 1-0.9 0.4-1-0.1-0.9-0.5-1-2.3-1.9-2.3-1.2-3.7-1.6-3.3-1.1-4.1-1.1-6-1-20.2-0.8-15.1-1.6-6 0.1-7.1 0.7-11.1 1.6-11.1 2-9.6 2.1-7.1 1.9-5.5 1.9-2 1-1.3 0.9-0.3 1 0.9 0.9 2.6 1 5.2 1 7.5 0.9 8.6 0.7 23.2 1.2zM362.8 262.8l2.4 0.8 2 0.1 1-0.1 2-0.7 2.1-1.3 2-1.9 2-2.5 2.5-3.9 2.5-4.6 3.7-7.7 3.6-8.5 2.3-6.7 1.7-5.7 1-5.7-0.4-5.7-0.7-4.7-73.4 0-0.6 4.7-0.2 5.7 1.1 1.9 2.6 3.8 3.7 4.8 4.9 5.7 7.9 8.5 7 6.6 7.6 9.1 5.1 4.9 2 1.6 2 1.3z" fill="#d70600" fill-rule="evenodd"/>
<path d="M315.9 319.7l14 0.4 6.1 0 12.1-0.3 11.1-0.6 7-0.7 6.1-0.9 4-1.1 1.6-0.6 1.5-0.9 0.7-1 0-0.9-0.5-1-0.9-0.9-2.4-1.5-3-1.3-6.4-2-4.5-0.9-4.2-0.6-16.2-0.9-12.1-1.1-6 0.1-7.1 0.6-9 1.1-10.1 1.7-9.2 1.9-7.1 1.9-5.1 1.9-1.6 1-0.7 0.9 0.4 1 1.9 0.9 4.2 1 6.4 0.9 7.7 0.7 21.2 1.2zM363.6 260l2.6 0.3 2-0.3 1-0.3 2.1-1.1 2-1.6 2-2.2 2.4-3.4 2.6-4.4 2.6-5.1 3.1-6.6 2.6-6.6 1.9-5.7 1.2-4.8 0.5-3.8-0.5-5.7-0.7-4.7-69.9 0-0.6 4.7-0.3 5.7 1.7 2.9 3.3 4.7 4.6 5.7 5.1 5.7 5.3 5.7 6.7 6.6 6.2 6.7 3 2.9 3.1 2.4 2 1.3 2 0.9z" fill="#e40700" fill-rule="evenodd"/>
<path d="M318.5 318.8l11.4 0.3 8.1-0.1 10.1-0.3 10.1-0.7 6-0.6 5-0.9 2.3-0.6 1.8-0.7 1.6-1.2 0.3-0.9-0.4-1-1-0.9-1.5-1-4.9-1.9-4.2-1.1-4-0.8-6.7-0.9-21.6-1.5-6 0.2-7.1 0.6-9 1.1-8.7 1.5-5.5 1.2-6.4 1.6-2.7 1-2.1 0.9-1.2 1-0.1 0.9 1.2 1 3 0.9 4.3 0.8 10.9 1.1 16.3 1zM363.5 257.1l2.7 0.2 2-0.3 3.1-1.6 2-1.7 2-2.2 2.7-3.9 2.3-3.8 2.5-4.7 2.6-5.7 2.2-5.7 1.6-4.7 1.1-4.8 0.6-3.8-0.6-5.7-0.8-4.7-66.6 0-0.6 4.7-0.3 5.7 2.2 3.8 3.4 4.8 4.6 5.7 5.1 5.7 5.5 5.6 10.3 10.4 3 2.6 3.1 2.2 2 1.1 2 0.8z" fill="#f10a00" fill-rule="evenodd"/>
<path d="M322.6 317.8l7.3 0.2 8.1 0 15.1-0.8 5.1-0.5 5.1-0.8 3.5-0.9 1.9-1 0.6-0.9-0.2-1-1-0.9-1.7-1-2.2-0.8-3.6-1.1-4.5-0.9-6.5-1-9.6-0.8-7-0.3-3.1-0.1-7 0.5-7.6 0.7-6.6 1-9.6 1.9-3.5 0.9-2.7 1-1.8 0.9-0.8 1 0.5 0.9 2.2 1 3.7 0.8 9.3 1.1 15.9 0.9zM362.2 254.3l3 0.4 2-0.2 2-0.8 3.1-2 2-2 2.4-3 2.4-3.8 2.2-3.9 2.7-5.6 2.3-5.7 1.5-4.7 1.2-4.8 0.5-3.8-0.6-5.7-0.9-4.7-63.3 0-0.7 4.7-0.3 5.7 1.6 2.9 3.2 4.7 3.7 4.8 4.1 4.7 5.3 5.7 5.5 5.5 5 4.8 3 2.7 3.1 2.2 3 1.5z" fill="#f71500" fill-rule="evenodd"/>
<path d="M312.1 315.9l12.8 0.8 11.1 0.1 13.1-0.6 4-0.4 4.8-0.8 3.1-1 1.2-0.9 0-1-1-0.9-2-1-3.1-0.9-4.5-1-6.9-0.9-10.7-0.7-4.1 0-3 0.1-6.5 0.6-7.2 0.9-5.2 1-3.9 0.9-2.7 1-1.6 0.9-0.4 1 0.3 0.2 1 0.7 3.8 1 7.3 0.9zM360.5 251.4l2.7 0.8 2 0.1 3-0.7 2-1 2.5-2 2.6-2.8 2.7-3.9 2.2-3.8 2.4-4.7 2.4-5.7 1.5-4.7 1.1-4.8 0.5-3.8-0.6-5.7-1-4.7-60.1 0-0.7 4.7-0.3 5.7 2.1 3.8 2.5 3.8 3.7 4.8 4.1 4.7 9.3 9.6 4 3.8 4 3.4 3.1 2 2 1z" fill="#fe2000" fill-rule="evenodd"/>
<path d="M321.9 315l9 0.4 7.1-0.1 5.3-0.3 6.8-1 2.6-0.9 0.4-1-1.1-0.9-2.7-1-2.2-0.4-2.7-0.5-4.4-0.5-8.1-0.4-6 0.4-8.1 1-2.5 0.4-3.2 1-1.5 0.9 0.3 1 2.9 0.9 8.1 1zM360.9 249.5l2.3 0.5 3-0.2 3-1.1 2.1-1.3 2-1.9 2.2-2.6 2.6-3.8 2.1-3.8 2.3-4.7 1.8-4.8 1.4-4.7 0.7-3.8 0.3-2.9-0.2-1.9-0.7-4.7-0.8-3.8-56.9 0-0.8 4.7-0.3 5.7 1.4 2.9 3.1 4.7 2.9 3.8 4 4.8 4.4 4.7 4.3 4.2 4 3.7 3 2.5 3 2.1 3.1 1.5z" fill="#ff3200" fill-rule="evenodd"/>
<path d="M361.3 247.6l2.9 0.3 2-0.3 3-1.2 2.1-1.4 2-1.9 2-2.5 2-2.9 2.4-4.3 1.8-3.8 1.8-4.7 1-3.8 0.8-3.8 0.2-2.9-0.2-1.9-0.7-4.7-0.9-3.8-53.8 0-0.8 4.7-0.3 5.7 1.9 3.8 3.2 4.8 2.9 3.8 4.1 4.7 4.3 4.5 4.1 3.9 4 3.4 3 2.1 3.1 1.6 2 0.6z" fill="#ff4400" fill-rule="evenodd"/>
<path d="M361.6 245.7l2.6 0.2 2-0.4 2-0.8 2.8-1.8 2.3-2.2 2-2.6 2-3 1.9-3.6 1.7-3.8 1.3-3.8 1-3.8 0.6-3.8 0.1-1.9-0.5-3.8-1.5-6.6-50.5 0-0.9 4.7-0.4 5.7 1.9 3.8 3.1 4.8 3 3.8 3.9 4.5 4.1 4.2 4 3.7 3 2.4 3 2 3.1 1.5 2 0.6z" fill="#ff5700" fill-rule="evenodd"/>
<path d="M361.6 243.8l2.6 0.1 2-0.5 2-0.8 2-1.4 2.1-1.8 2.5-3.1 1.9-2.9 1.9-3.8 1.6-3.8 0.9-2.8 0.9-3.8 0.3-2.9 0.1-1.9-0.5-3.8-1.6-6.6-47.3 0-0.9 4.7-0.4 5.7 1.8 3.8 3.1 4.8 2.9 3.8 3.3 3.8 3.3 3.3 4 3.7 3 2.4 3 1.9 3.1 1.4 2 0.5z" fill="#ff6a00" fill-rule="evenodd"/>
<path d="M361.3 241.9l2.9 0 2-0.5 2-1 2-1.4 2.1-2 2-2.5 1.8-3 1.5-2.8 1.5-3.8 0.8-2.9 0.8-3.8 0.2-2.8-0.1-1.9-0.7-3.8-1.5-5.7-43.9 0-1 4.7-0.4 5.7 1.7 3.8 2.4 3.8 2.8 3.8 2.8 3.3 3.2 3.4 3.9 3.5 3 2.4 3 1.9 3.1 1.2 2 0.4z" fill="#ff7d00" fill-rule="evenodd"/>
<path d="M361.1 240l2.1 0.1 2-0.4 2-0.8 2-1.4 2.1-1.8 2-2.4 1.7-2.7 1.4-2.9 1.2-2.8 1.1-3.8 0.5-2.9 0.1-2.8-0.1-1.9-0.7-3.8-1.7-5.7-40.3 0-1.1 4.7-0.5 5.7 1.2 2.9 2.2 3.8 2.7 3.8 3 3.6 3.1 3.1 3 2.8 3 2.3 2 1.3 3.1 1.4 2 0.5z" fill="#ff9000" fill-rule="evenodd"/>
<path d="M361 238.1l2.2 0 2-0.5 2-0.9 2-1.5 1.9-1.8 1.5-1.9 1.7-2.8 1.3-2.9 1-2.8 0.7-2.9 0.4-4.7-0.3-2.9-0.6-2.8-1.9-5.7-36.6 0-1.2 4.7-0.6 5.7 1.2 2.9 2.2 3.8 1.9 2.8 2.3 2.9 3 3.1 3 2.8 3 2.3 2 1.3 3.1 1.3 2 0.5z" fill="#ffa500" fill-rule="evenodd"/>
<path d="M356.9 235.3l2.3 0.7 3 0.2 2-0.4 2-0.8 2-1.3 2-2 1.6-2.1 1.5-2.5 1.3-3.2 0.8-2.8 0.5-2.9 0.1-2.8-0.4-2.9-0.7-2.8-0.9-2.9-1.2-2.8-32.5 0-1.4 4.7-0.6 5.7 1.5 3.8 3 4.8 4.3 5.1 2.6 2.5 2.4 1.9 4 2.5z" fill="#ffb900" fill-rule="evenodd"/>
<path d="M357 233.4l2.2 0.6 2 0.1 2-0.2 2-0.7 2-1.3 2-1.9 1.7-2.3 1.4-2.5 0.8-2.2 0.7-2.9 0.3-2.8 0-1.9-0.5-2.9-0.7-2.8-1-2.9-1.4-2.8-28.1 0-1.4 4.2-0.7 4.3-0.2 1.9 1.1 2.9 2.7 4.7 3.9 4.8 4.3 3.9 2 1.3 2 1.1z" fill="#ffca01" fill-rule="evenodd"/>
<path d="M357.6 231.5l1.6 0.3 2 0.1 2-0.4 2.1-0.9 1.9-1.5 1.3-1.4 1.3-1.9 1.3-2.8 0.5-1.9 0.5-2.9-0.2-3.8-0.7-2.8-0.9-2.9-1.1-2.2-1.5-2.5-22.7 0-1 1.9-1.2 3.8-0.6 4.7 0.5 1.9 1.3 2.8 2.6 3.9 3.5 3.9 3.5 2.7 1.5 0.9 2 0.9z" fill="#ffda03" fill-rule="evenodd"/>
<path d="M356.1 228.7l2.1 0.6 2 0.1 2-0.3 1.2-0.4 1.8-1.1 1.8-1.8 1.2-1.9 0.8-1.9 0.5-1.9 0.3-1.9 0-1.9-0.6-2.8-0.9-2.9-1.1-2.4-1.5-2.3-1.6-1.9-15.8 0-1.3 1.9-1.3 2.8-0.8 2.9-0.4 2.8 0.5 1.9 0.8 1.9 1.7 2.9 2.6 3.2 2.8 2.5 2.2 1.4z" fill="#ffe60a" fill-rule="evenodd"/>
<path d="M356.2 225.8l2 0.5 2 0.1 2-0.6 1-0.6 1.5-1.3 1.2-1.9 0.7-1.9 0.3-1.9-0.1-1.9-0.6-2.5-0.9-2.2-1.1-2.1-1.4-1.7-1.6-1.5-1-0.7-2-0.9-2.1-0.3-2 0.2-2 1-1 0.8-1.2 1.4-1.1 1.9-0.8 1.9-0.5 2.8 0.7 2.9 0.9 1.9 1.3 1.9 2.7 2.8 3 1.9z" fill="#fff019" fill-rule="evenodd"/>
<path d="M251.3 338.1l60.5 0.3 47.4-0.1 20.1-0.3 12.1-0.6 7.1-0.9 5-0.9 5.1-1.3 3.9-1.3 3.6-1.9 5.1-3.8 6.7-3.8 2.7-1.9 1.1-1.2 0.7-1.6 0-1-0.3-0.9-0.7-1-1.9-1.9-6.1-4.7-2.2-1.9-1.8-1.9-1.8-2.5-2-4-1.8-4.9-1.3-4.7-1-5.7-0.4-4.8-0.2-6.6 0.1-23.7 0.3-6.7 0.4-4.7 1-5.7 4.3-17.1-0.4-10.4M345 299l-0.5-0.1 0-1 3.6-0.4 3.5 0.4 0.2 1-3.7 0.4zM299.7 280.9l-4-0.4-4-0.6-3.4-1-2-0.9-1-1-0.2-0.9 0.6-1 1.6-0.9 2.9-1 4.4-0.8 4.1-0.3 5-0.1 5.1 0.2 5 0.8 3 0.9 2.3 1.2 0.7 1-0.1 0.9-0.9 1-1.8 0.9-3.2 1-3 0.5-4.1 0.4zM331.9 252.5l-2-0.9-0.8-1.1 0-1 0.5-0.9 1.3-0.8 2.1-0.4 2 0.2 2 1 0.6 0.9 0.1 1-0.5 0.9-1.2 0.8-2 0.5zM290.6 232.5l-2-0.3-2-1.1-1.3-1.5-0.6-1.9 0.2-1.9 0.5-0.9 0.8-1 1.3-0.9 1.1-0.5 2-0.3 2 0.3 1.1 0.5 1.3 0.9 0.8 1 0.5 0.9 0.3 1.9-0.5 1.9-1.5 1.7-2 1zM251.3 334.2l41.3 0.6 37.3 0 36.3-0.5 9.3-0.3 7.9-0.5 4.4-0.5 3.6-0.6 5.1-1.4 3.3-1.8 10.2-6.6 2.5-1.9 1.7-1.9 0.4-1 0.3-0.9 0-1-0.3-0.9-0.6-1-1.5-1.9-6.7-6.6-1.5-1.9-1.7-2.8-1.1-2.9-0.9-3.8-0.8-4.7-0.4-4.8 0.1-7.6 1-24.6 0.5-5.7 0.6-4.8 1.2-5.6 4.4-16.2 1.3-5.7-0.5-10.4M258.4 327.4l-1.1-0.1-2.6-0.9 1.6-0.3 4.9-0.7 13.3-0.5 12.1 0 12.1 0.2 5.7 0.3 6.8 1-3.4 1-7.1 0.4-9.1 0.3-19.1 0zM342 299.9l-2.6-1-0.3-1 1.6-0.9 3.3-0.7 4.1-0.3 4 0.3 3.4 0.7 1.8 0.9-0.1 1-2 0.9-2.1 0.4-3 0.3-3 0zM292.6 283.7l-8-0.8-7.1-1.3-5.9-1.7-4.2-1.9-2.5-1.9-0.7-1-0.4-0.9-0.1-1 0.3-0.9 1.1-0.9 2.3-0.8 9.1-0.9 15.1-1 10.1-0.2 9.1 0.4 8 1.1 6.1 1.5 2 0.8 2 1.2 0.9 0.7 0.8 0.9 0.3 1-0.1 0.9-0.5 1-1 0.9-1.5 1-3.9 1.5-4.1 1-6 0.9-7.1 0.6-7 0.1zM330.9 254.4l-2.8-1.1-1.2-0.9-0.7-1-0.4-0.9 0-1 0.3-0.9 0.8-1 1-0.7 1-0.5 2-0.5 3.1-0.1 3 0.9 1.5 0.9 0.9 1 0.5 0.9 0.1 1-0.2 0.9-0.6 1-1.2 1-1 0.5-2 0.6-2 0.1zM276.8 204l0.1 10.4 0.6 2.6 0.9 1.2 1.1 0.5 1 0.1 6.1-1 3 0 3 0.6 3.1 1.2 2 1.5 0.9 0.9 0.7 1 1 1.9 0.6 2.8-0.5 2.9-1 1.9-1.7 1.7-2 1.4-3.1 1.1-2 0.3-3 0.1-3-0.5-5.1-1.3-1 0.1-1 0.4-1 1.4-0.7 1.9-1.8 8.5-1.7 5.7-2.4 4.8-1.5 2.3-2 2.6-2 2.3-2 1.9-2 1-2 0.3-2.1-0.1-2-0.2-3-0.9M251.3 324l20.2-0.3 22.1 0.1 17.2 0.6 15.2 1 6.8 1 2.4 0.9-1.2 0.5-5.1 0.9-8 1-8.4 0.5 6.3 0.6 11.1 0.1 17-0.7 14.5-1 8.8-0.7 8.1-1 8.1-1.5 6-1.8 5.1-2.1 3.8-2.4 1.2-1 1.3-1.8 0.2-1 0-0.9-0.2-1-1.2-1.9-1.1-1.2-8.4-7.3-1.9-1.9-1.6-1.9-1.2-1.9-0.8-1.9-0.7-2.8-0.2-2.9 0.1-2.8 0.5-3.8 2.7-14.2 1.7-13.3 1.4-7.6 1.9-7.6 5.2-17.1 2.2-8.5 0.1-1-0.1-2.8-0.6-7.6M341 300.9l-4.4-1.1-1.7-0.9-0.5-1 0.5-0.9 1.7-1 2.4-0.7 3-0.5 6.1-0.3 6 0.4 4.1 0.7 2 0.6 1.7 0.8 0.9 0.9-0.3 1-1.6 0.9-4.8 1.2-4 0.4-4 0.1-4.1-0.2zM300.1 204l-0.1 6.6 0.2 1.9 0.4 1.9 4.5 5.7 6.2 9.5 3.5 4.1 6.2 6.3 2.3 1.9 2.8 1 5.8 0.7 4.1 0.9 2 0.8 2 1.3 1.8 2 0.6 1.9 0 0.9-0.6 1.9-0.8 1.3-1 1.2-3.9 3.2-0.6 1-0.1 0.9 0.4 1.9 1 1.9 1.6 1.9 3.6 3.8 2.1 2.8 0.9 1.9 0.2 1-0.1 1.9-0.4 0.9-1.3 1.9-2.3 1.9-3.1 1.5-3 1-7.1 1.5-6 1-24.2 2.6-6.1 1.1-6 1.7-13 4.8-5.7 1.9-6.4 1.9-9.2 2.4M251.3 320.2l8.1 0.7 14 0.7 56.5 1.9 15.1 0.1 14.2-0.3 8-0.4 7.1-0.5 5-0.7 5.1-0.9 4-1.3 3-1.4 1.6-1.2 0.7-1 0.3-0.9 0-1-0.3-0.9-0.6-1-1.9-1.9-2.8-1.9-4-2.2-4.1-2-4-1.6-3-0.9-4.1-0.4-15.1 1.2-6 0.1-5.1-0.2-7-1-3-0.7-7.1-2.3-4-0.5-4.1 0.2-6 0.7-10.1 1.6-9.1 1.7-22.1 5-19.2 5M312.9 204l-0.5 4.7-0.2 5.7 1.2 1.9 2.8 3.8 7.2 8.6 9.9 10.4 2.2 1.9 5.5 3.7 2.2 2 1.9 2.8 1.9 4.8 1.1 1.9 3.4 4.7 3.6 5.7 3.1 3.6 3 2.8 2 1.4 3 1.2 2 0.3 2-0.2 2.1-0.7 2-1.2 1-0.8 1.5-1.6 1.4-1.9 2.1-4.1 12.7-34.8 3-9.5 1.4-6.7-0.4-5.7-0.5-4.7M307.8 319.7l16.1 0.6 10.1 0.2 16.1-0.5 13.1-0.8 8.1-0.9 6.2-1.4 2.3-1 1.3-0.9 0.5-1 0-0.9-0.5-1-1-0.9-1.8-1.2-3-1.4-6.1-2.1-6-1.3-5-0.6-14.2-0.7-14.1-1.3-5-0.1-5.1 0.3-8 0.9-9.1 1.4-7.6 1.3-8.8 1.9-7.1 1.9-2.9 1-2.3 0.9-1.8 1-0.9 0.9 0.2 1 1.5 0.9 3.5 1 3 0.5 12.8 1.4zM320.4 204l-0.6 5.7-0.2 4.7 2.9 4.8 3.6 4.7 4 4.8 5.1 5.7 5.4 5.6 5.8 5.7 4.7 5.3 4 4.2 3.1 2.7 3 2 2 1 3 0.5 2-0.2 2-0.8 1.1-0.6 2-1.6 2-2.2 2.6-3.6 2.4-4.2 5.1-10.4 2.2-5.3 2.1-5.7 1.5-4.8 1.1-4.7 0.4-2.9-0.5-5.7-0.7-4.7M312.1 315.9l9.8 0.7 9 0.3 9.1-0.2 8.1-0.4 6-0.7 5.1-1 1.8-0.6 1.2-0.9 0-1-1-0.9-2-1-4.1-1.1-6-1.1-5.1-0.7-8-0.5-5.1-0.2-5 0.3-9.1 0.9-8.8 1.5-3.9 0.9-2.7 1-1.6 0.9-0.4 1 1.3 0.9 3.8 1zM326.4 204l-0.7 4.7-0.3 5.7 2.7 4.8 4.1 5.7 4.7 5.7 5.1 5.5 6.1 6 5 4.5 3 2.4 3.1 1.9 2 0.8 3 0.6 3-0.4 2-0.8 2.1-1.3 2-1.7 2.7-3.3 2.3-3.4 2-3.4 2.3-4.6 1.8-4.1 1.6-4.4 1.2-4.8 0.7-3.8 0.2-1.9-0.3-2.8-1.3-7.6M331.9 204l-0.8 4.7-0.4 5.7 0.8 1.9 1.6 2.9 3.2 4.7 3.8 4.8 3.9 4.2 4.1 4 4 3.4 3 2.2 3.1 1.6 2 0.7 3 0.4 3-0.4 2-0.8 2-1.3 2-1.7 2.1-2.3 2-2.9 1.9-3.3 1.4-2.9 1.5-3.8 1.2-3.8 0.8-3.8 0.3-2.8-0.1-1.9-0.6-3.8-1.3-5.7M337.7 204l-1.2 4.7-0.5 5.7 1.6 3.8 3 4.8 2.4 3.1 3.1 3.4 3 2.9 3 2.5 3 2 2 0.9 2.1 0.7 3 0.3 2-0.2 2-0.7 2-1.1 2-1.7 1.6-1.7 1.5-2 1.6-2.7 1.4-3.2 0.9-2.5 0.6-2.9 0.5-4.7-0.2-1.9-0.7-3.8-1.9-5.7M345 204l-1 1.9-0.9 2.8-0.6 2.9-0.3 2.8 0.5 1.9 1.4 2.9 1.8 2.8 2.2 2.8 2 2.1 2 1.7 2 1.4 2 1 2.1 0.7 2 0.2 2-0.1 2-0.7 1.1-0.5 1.9-1.5 1.3-1.4 1.3-1.9 1.6-3.8 0.6-2.8 0.1-1.9-0.4-3.8-1.5-4.8-1-2.2-1.5-2.5" fill="none" stroke="#707070" stroke-width="0.4" stroke-opacity="0.9"/>
<rect x="251.3" y="204.0" width="200.6" height="169.8" fill="none" stroke="#000" stroke-width="0.9"/>
<line x1="251.3" y1="373.8" x2="251.3" y2="377.4" stroke="#000" stroke-width="0.9"/>
<text x="251.3" y="389.0" font-size="10.2" text-anchor="middle" fill="#000">0</text>
<line x1="314.0" y1="373.8" x2="314.0" y2="377.4" stroke="#000" stroke-width="0.9"/>
<text x="314.0" y="389.0" font-size="10.2" text-anchor="middle" fill="#000">5</text>
<line x1="376.7" y1="373.8" x2="376.7" y2="377.4" stroke="#000" stroke-width="0.9"/>
<text x="376.7" y="389.0" font-size="10.2" text-anchor="middle" fill="#000">10</text>
<line x1="439.4" y1="373.8" x2="439.4" y2="377.4" stroke="#000" stroke-width="0.9"/>
<text x="439.4" y="389.0" font-size="10.2" text-anchor="middle" fill="#000">15</text>
<line x1="282.6" y1="373.8" x2="282.6" y2="376.0" stroke="#000" stroke-width="0.9"/>
<line x1="345.3" y1="373.8" x2="345.3" y2="376.0" stroke="#000" stroke-width="0.9"/>
<line x1="408.0" y1="373.8" x2="408.0" y2="376.0" stroke="#000" stroke-width="0.9"/>
<line x1="247.7" y1="373.8" x2="251.3" y2="373.8" stroke="#000" stroke-width="0.9"/>
<text x="246.1" y="377.5" font-size="10.2" text-anchor="end" fill="#000">0</text>
<line x1="249.1" y1="352.6" x2="251.3" y2="352.6" stroke="#000" stroke-width="0.9"/>
<line x1="247.7" y1="331.4" x2="251.3" y2="331.4" stroke="#000" stroke-width="0.9"/>
<text x="246.1" y="335.0" font-size="10.2" text-anchor="end" fill="#000">1</text>
<line x1="249.1" y1="310.1" x2="251.3" y2="310.1" stroke="#000" stroke-width="0.9"/>
<line x1="247.7" y1="288.9" x2="251.3" y2="288.9" stroke="#000" stroke-width="0.9"/>
<text x="246.1" y="292.6" font-size="10.2" text-anchor="end" fill="#000">2</text>
<line x1="249.1" y1="267.7" x2="251.3" y2="267.7" stroke="#000" stroke-width="0.9"/>
<line x1="247.7" y1="246.4" x2="251.3" y2="246.4" stroke="#000" stroke-width="0.9"/>
<text x="246.1" y="250.1" font-size="10.2" text-anchor="end" fill="#000">3</text>
<line x1="249.1" y1="225.2" x2="251.3" y2="225.2" stroke="#000" stroke-width="0.9"/>
<line x1="247.7" y1="204.0" x2="251.3" y2="204.0" stroke="#000" stroke-width="0.9"/>
<text x="246.1" y="207.7" font-size="10.2" text-anchor="end" fill="#000">4</text>
<text x="228.0" y="203.7" font-size="19.5" fill="#000">e</text>
<text x="255.6" y="217.6" font-size="10.6" fill="#fff" textLength="80.5" lengthAdjust="spacingAndGlyphs">70% D-Bi<tspan baseline-shift="-22%" font-size="68%">1</tspan>-CeO<tspan baseline-shift="-22%" font-size="68%">2</tspan></text>
<text transform="translate(236.5 288.9) rotate(-90)" font-size="10.9" text-anchor="middle" fill="#000">R+α (Å)</text>
<text x="310.8" y="317.9" font-size="10.6" fill="#111" textLength="21.5" lengthAdjust="spacingAndGlyphs">Bi-O</text>
<text x="342.6" y="227.7" font-size="10.6" fill="#111" textLength="35.0" lengthAdjust="spacingAndGlyphs">Bi-O-Bi</text>
<text x="350.2" y="403.3" font-size="10.5" text-anchor="middle" fill="#000">K (Å<tspan dy="-3.6" font-size="62%">-1</tspan><tspan dy="3.6">)</tspan></text>
<rect x="478.9" y="203.3" width="198.3" height="171.4" fill="#000"/>
<path d="M621.3 367l1.1 0.7 1 0.2 1-0.2 1-0.7 4-3.8 1.4-0.9 2.1-1 2.4-0.7 3-0.6 16-2.1 5-1.1 4.9-1.4 3-1.2 2.6-1.5 1.1-1 0.7-0.9 0.3-1-0.2-1-1-0.9-1.8-1-3.7-1.2-6.2-1.6-2.7-1-1.6-1-0.4-0.4-0.6-1.5 0-5.7-0.8-3.8-1.1-2.9-3.5-7-1-2.5-0.5-2-0.3-1.9 0-2.9 0.9-16.3 0.1-11.5-1.4-43.1-0.3-37.3-120.1 0-0.2 11.5-0.3 8.6-0.6 6.7-0.9 6.7-1.7 7.7-2.2 7.7-3 8.6-2.5 5.7-2.2 3.8-2.2 2.9-2.7 2.9-4.2 3.8-4.9 3.8-6.9 4.8-6 3.9-6.3 3.6 0 64.3 24.9 0.7 44.9 0.8 36.8-0.3 13 0.2 10.9-0.2 3 0.3 3 0.8 1.3 0.6 1.4 1 2.3 2.1zM527.7 296.5l-1-1.3-0.3-0.9-0.4-2.9 0.1-1 0.4-1.9 0.2-0.5 1-0.9 1 0.1 1 1.3 0.6 1.9 0.1 2-0.2 1.9-0.5 1.4-1 0.9zM554.6 290.1l-0.6-1.6-0.3-2.9 0.3-1.9 0.6-1.7 1 0.8 0.4 1.9 0 2.9-0.4 2zM586.5 311.7l-1-1.2 0-1.1 1-1 1-0.2 1 0.2 1 0.6 0.2 0.6-0.2 1.9-2 0.3zM612.4 256.1l-1-1.7-0.2-1.3-0.5-6.7 0.2-4.8 0.3-1.9 0.2-1 1-1.5 1 1.1 0.4 1.4 0.6 3.8 0.1 2.9-0.1 4.2-0.6 3.4-0.4 1.3-0.8 0.7z" fill="#050000" fill-rule="evenodd"/>
<path d="M620.6 361.3l1.8 0.3 2-0.1 2-0.4 5.4-1.7 3.5-0.8 13-1.9 7-1.4 4-1.3 2.7-1.3 1.3-1 0.8-0.9 0.4-1-0.2-1-1.2-0.9-2.1-1-6.7-2.1-1.6-0.7-1.4-1.3-0.6-1.6 0.3-5.8-0.1-1.9-0.4-1.9-0.6-1.9-1.2-2.9-3.9-7.6-0.7-2-0.4-1.9-0.3-3.8 0.6-16.3 0-11.5-0.5-9.5-2.2-32.6-0.6-16.3-0.4-22-99.8 0-0.2 11.5-0.5 7.7-0.9 6.7-1.2 5.8-2.1 6.6-2.9 7.4-6 13.7-2 3.9-2 3.5-2.2 3.1-2.9 2.9-15.5 11.5-10.1 6.7-13.1 7.8 0 56.5 38.9 1 30.9 0.5 36.8-0.3 13 0.1 10.9-0.2 5 0.3 6 1.3zM527.7 297.3l-1-1.1-0.8-1.9-0.4-1.9-0.1-2 0.2-1.9 0.5-1.9 0.6-1 1-0.5 1 0.3 1 1.2 0.8 1.9 0.4 1.9 0.1 2-0.3 2-1 2.3-1 0.7zM554.6 291.3l-1-2.1-0.3-3.6 0.3-3.3 1-1.9 1 0.6 0.9 3.7 0 2.9-0.4 1.9-0.5 1.4zM586.5 311.9l-1-1-0.2-0.4 0-0.9 0.2-0.6 1-0.8 1-0.4 1 0.3 1.1 0.5 0.2 1-0.1 1.9-1.2 0.5-1 0.2zM612.4 257.3l-1-1.4-0.7-2.8-0.3-2.9-0.2-3.8 0.2-4.8 0.4-2.9 0.6-2.7 1-1.1 1 1 0.6 1.9 0.4 1.9 0.4 4.8 0 4.8-0.3 3.8-0.8 2.9-0.3 0.8-0.2 0.1z" fill="#090000" fill-rule="evenodd"/>
<path d="M621 359.4l2.4 0.1 3-0.4 7.4-1.6 10.5-1.7 6-1.2 3.3-1 2.3-0.9 1.6-1 1-0.9 0.4-1-0.3-1-1.3-0.9-6-2.3-1.1-0.6-0.9-0.9-0.7-2 0.6-6.7-0.5-3.8-0.9-2.9-0.9-1.9-3.6-6.7-0.8-1.9-1-3.8-0.2-3.9 0.5-16.2-0.2-10.6-0.7-9.5-2.6-28.5-2.4-42.4-83.3 0-0.3 10.5-0.6 7.7-1.1 6.7-1.9 6.5-1.7 4-1.9 3.9-7 11.4-2.6 4.8-9.8 19.9-1 0.7-3 0.5-2.9 1-3 1.3-3 1.6-3 2-7 5.6-4 2.9-19.9 12.1 0 50.9 28.9 0.9 40.9 0.7 49.8-0.2 11.9-0.3 4 0.2 6 0.7zM528.7 298.1l-1-0.1-1-0.9-1-1.9-0.7-2.8-0.3-2.9 0-2.9 0.3-2.9 0.7-2.3 1-0.4 1 0.5 1 0.9 1 1.5 0.8 1.7 0.7 2.9 0.2 3.9-0.5 2.8-0.9 1.9-1.2 1zM554.6 292.3l-1.1-1.9-0.3-1.9-0.2-2.9 0.1-2.8 0.4-1.9 0.1-0.8 1-1.4 1 0.6 0.3 0.6 0.7 2.4 0.3 2.4 0 2.9-0.3 1.9-1 2.6zM587.5 312.5l-1-0.5-1-0.8-0.3-0.7 0-0.9 0.4-1 0.9-0.7 1-0.3 1 0.2 1 0.6 0.5 1.2 0.1 0.9-0.3 1-1.3 0.8-0.5 0.2zM612.4 258.6l-1-1.2-1-3.5-0.4-3.7-0.2-4.8 0.2-4.8 0.4-4.1 1-3.5 1-0.9 1 1 1 3.2 0.6 4.3 0.2 3.9 0 4.8-0.4 3.8-0.4 2.5-1 2.5zM586.5 257.3l-1-0.6-0.7-3.6 0.1-2.9 0.6-2.9 1-0.4 1 2.7 0.1 4.4-0.1 1-0.8 1.9z" fill="#0d0000" fill-rule="evenodd"/>
<path d="M518.8 357.5l30.9 0.5 47.8-0.4 12.9-0.3 13 0.8 3-0.4 18.9-3.6 4.9-1.4 2-1 1.2-0.9 0.5-1-0.2-1-1.5-0.9-4.3-1.9-0.7-1-0.3-2.9 0.9-6.7-0.2-1.9-0.3-1.9-1.4-3.8-4.6-8.6-1-2.6-0.5-2.2-0.2-3.9 0.5-17.2-0.4-10.5-3.4-34-2.5-31.1-1.5-14.4-67.9 0-0.7 9.6-1.3 7.6-1.8 7.7-1.3 3.8-1.7 4.3-2.8 5.3-3.2 4.6-2.5 3.1-6.4 6.9-3.5 4.6-3.2 5.7-4.4 9.6-0.5 1.9-0.2 2.9 1 7.6 0 3.9-0.2 1.9-0.6 1.9-0.5 0.9-0.7 1-1.2 0.7-1-0.1-1-0.7-1-1.6-0.8-2.1-1.5-6.7-0.7-1.9-1-1.1-0.9-0.4-2 0.1-3 0.8-4 2.2-2.9 2.2-6.1 5.4-3 2.2-10.8 6.7-10.1 5.8 0 46.6 39.9 1.3zM554.6 293.3l-1-1.3-0.4-1.6-0.5-2.8-0.1-2.9 0.2-2.9 0.5-2.9 0.3-0.9 1-1.1 1 0.5 1 2.4 0.5 3 0.2 2.8-0.1 2.9-0.6 2.8-1 1.8-1 0.2zM587.5 312.6l-1-0.3-1-0.8-0.4-1-0.1-0.9 0.5-1.2 1-0.7 1-0.3 1 0.2 1 0.6 0.4 0.4 0.3 1 0.1 0.9-0.3 1-0.5 0.5-1 0.5zM612.4 259.9l-1-1-1.2-3.9-0.6-4.8-0.3-5.7 0.2-5.8 0.7-5.7 1.2-3.8 1-0.6 1 1 1.1 3.4 0.9 6.5 0.3 5.9-0.2 5.8-0.7 4.8-0.4 1.4-1 2.1-0.7 0.3zM585.5 259.1l-0.9-2.2-0.4-1.9-0.3-2.9 0.1-2.8 0.5-4.2 1-2 1 0 1 1.8 0.4 1.5 0.4 2.9 0.1 2.8-0.2 2.9-0.3 1.9-0.4 1.2-1 1.4z" fill="#120000" fill-rule="evenodd"/>
<path d="M512.9 356.5l35.8 0.7 48.8-0.4 12.9-0.3 13 0.5 5-0.7 13.4-2.7 4.5-1.4 1.2-0.5 1.4-0.9 0.7-1-0.2-1-1.3-0.9-1.9-1-1.1-0.9 0-1 1.5-8.6-0.1-2.9-0.6-2.8-1.1-2.9-0.9-1.9-3.9-6.7-0.8-2-0.7-2.8-0.2-3.9 0.4-10.5 0-6.7-0.6-12.4-2.8-25.5-2.8-31-1.4-11.5-1.7-9.6-51.8 0-0.7 3.8-1.4 3.9-1.4 2.8-3.5 5.8-2 3.8-2.6 5.8-4.4 10.7-3 6-3 4.4-3 3.3-2 1.7-4.9 3.5-3 2.6-3 3.8-2.4 4.2-3.1 6.7-1.3 3.8-0.4 2.9 0.1 6.7-0.2 2.9-0.7 3.4-1.1 2.3-0.9 0.9-1 0.4-1-0.1-1-0.6-1-1.3-0.6-1.2-2.4-7-1-1.6-0.9-0.7-1-0.3-1 0-2 0.3-3 1.2-3 2-7 6.6-2 1.7-3 2.1-10.3 6.2-9.6 5.1 0 43.5 33.9 1.2zM554.6 294.2l-1-1.2-0.8-2.6-0.4-2.8-0.2-2.9 0.2-3.8 0.5-2.9 0.7-2.2 1-0.9 1 0.5 1 2.1 0.7 3.4 0.3 2.8 0 3.9-0.4 2.8-0.6 2.1-1 1.5zM586.5 312.5l-1.1-1-0.5-1 0-0.9 0.3-1 1.3-1.1 1-0.2 1 0.2 1 0.5 0.5 0.6 0.5 1 0 0.9-0.4 1-0.6 0.7-1 0.4-1 0.1zM612.4 261.1l-1.1-1.3-0.9-2.1-0.4-1.7-0.7-4.8-0.4-5.8 0-6.7 0.5-7 1-5.6 1-2.3 1-0.3 1 1.4 1 3.2 1 5.8 0.5 5.8 0.1 6.7-0.4 6.7-0.4 2.9-0.8 2.8-1.1 2zM585.5 260.8l-1-1.7-0.8-3.1-0.4-2.9-0.1-3.8 0.1-3.9 0.4-2.8 0.8-2.9 1-1.2 1 0.4 1 1.8 1 3.8 0.5 4.8 0 3.8-0.5 3.9-1 3-1 1.1z" fill="#170000" fill-rule="evenodd"/>
<path d="M516.4 355.5l33.3 0.7 47.8-0.4 13.9-0.4 12 0.3 5-0.7 10.2-2.3 3.7-1.5 0.8-0.4 1-1 0-1-2-1.9-0.2-0.9 1.5-1.9 1.4-4.8 0.5-3.9-0.2-2.8-0.5-1.9-1.1-2.9-5.5-9.6-0.7-1.9-0.4-1.9-0.2-3.9 0.4-15.3-0.4-9.6-5.5-53.6-1.5-10.5-1.8-8.6-1.5-5.1-1-2.3-1.5-2.2-4.1 0-0.4 0.5-1 1.6-1 2.5-1.2 5-0.5 3.8 0 3.8 0.9 18.2-0.1 9.6-0.4 4.8-0.7 4.6-1 3.2-1 1.5-1 0.3-1-1-1.3-2.9-1-4.8-0.6-4.7-0.3-5.8-0.4-19.1-0.5-4.8-0.9-3.7-1.9-5.4-2-3.4-1-1.2-1-0.7-1-0.4-1 0-1 0.4-1 0.7-1 1.1-1.3 2-1.3 2.9-2 5.8-1.8 7.6-0.4 2.9-0.1 3.8 1.1 12.5 0.1 7.6-0.2 2.9-0.5 2.9-0.6 2.2-1 2.1-1 0.9-1-0.2-1-1.2-1-2.9-0.6-2.8-0.6-3.9-0.9-13.4-0.5-2.8-0.8-2-1.6-2.2-1.9-1.3-2-0.4-2 0.7-2 1.7-2.5 3.5-1.9 3.8-5.6 12.4-2 3.6-4 6.1-1 1-1 0.4-3.9 0.1-3 1.1-2 1.4-1 0.9-1.5 1.7-1.5 2.3-2.3 4.4-2.4 5.8-0.9 3.8-0.8 6.7-0.5 2.9-0.9 2.8-1.2 2-1 0.8-1 0.4-1-0.1-1-0.6-1-1-0.8-1.5-2.2-4.8-1-1.7-0.9-0.9-1-0.5-1-0.1-2 0.2-2 0.7-3 1.9-2.6 2.4-5.4 5.7-4 3.1-9.6 5.5-5.6 2.9-5.7 2.6 0 39.8 17.9 1 19 0.6zM554.6 295.3l-1-0.9-1-2.5-0.6-3.4-0.3-4.8 0.2-4.8 0.7-5.2 1-2.9 1-0.6 1 1 1 2.4 1 4.1 0.6 5.1-0.1 4.8-0.5 3.6-1 2.9-1 1.1zM586.5 312.7l-1.4-1.2-0.4-1-0.1-0.9 0.3-1 0.6-0.7 1-0.6 1-0.2 1 0.1 1 0.6 0.8 0.8 0.4 1 0 0.9-0.4 1-0.8 0.9-1 0.4-1 0.1z" fill="#1c0000" fill-rule="evenodd"/>
<path d="M515.8 354.6l33.9 0.7 46.8-0.5 14.9-0.5 11 0.3 5-0.6 5.6-1.3 4.3-1.5 0.9-0.4 1.2-1 0.4-1-1.1-1.9 0.6-0.9 1-0.6 1.5-1.3 0.6-1 1.5-4.8 0.3-2.9 0-1.9-0.4-1.9-1-2.9-1.5-2.8-4.2-6.7-0.8-2-0.6-1.9-0.3-3.8 0.4-14.4-0.3-10.5-0.7-7.7-4.7-42.1-1.7-10.6-1-4.3-1-3.3-1-2.4-1-1.7-1-0.9-1-0.3-1 0.4-1 1.1-0.5 0.9-1.1 2.9-0.6 2.9-0.7 6.7-0.2 16.3-0.6 8.6-0.6 3.8-0.7 3.2-1 2.6-1 1.2-1 0.2-1-0.7-1.3-2.6-1.1-3.9-1.1-7.6-1.5-17-0.9-5.1-0.8-2.8-1.2-3.1-1-1.7-1-1.2-1-0.8-1-0.4-1 0.1-1 0.5-1 0.9-1.3 1.8-1.7 3.7-1.5 5-0.7 3.8-0.3 2.9-0.4 13.4-0.4 5.7-0.6 3.8-0.5 2-0.6 1.6-1 1.6-1 0.8-1-0.1-1-1-1-2-1.3-4.8-1.7-10.5-0.6-2.9-1.1-2.9-1.2-1.9-1-0.9-1-0.6-1-0.2-1 0-1 0.3-1 0.6-1.7 1.8-2.3 3.6-8.5 19.4-1 2.8-0.3 2-0.1 1.9 1 11.5 0 6.7-0.4 2.8-0.7 2.9-1 2.1-0.8 0.8-1.2 0.1-1-0.8-1-2-0.7-3.1-0.6-5.7-0.2-11.5-0.5-2.8-0.5-1-0.9-1-0.5-0.3-1-0.1-1 0.1-2 0.9-2 1.6-2 2.7-1.6 2.8-1.8 3.8-1.6 4.4-0.9 3.3-1.1 5.7-0.8 2.9-1.4 2.9-0.8 0.9-1 0.7-1 0.4-1-0.1-1.5-1-1.5-1.9-3-5.3-0.9-1-1-0.5-1-0.3-2 0.2-2 0.8-3 2-2.2 2.2-4.8 5.6-2 1.7-2 1.5-4.6 2.7-5.5 2.8-6.2 2.9-5.6 2.4 0 36.8 16.9 1.2 20 0.8zM586.5 312.8l-1-0.6-0.6-0.7-0.4-0.9-0.1-1 0.3-1 0.8-1 1-0.6 1-0.1 1 0.1 1 0.5 1 1.1 0.3 1 0.1 0.9-0.3 1-0.9 1-1.2 0.5-1 0.1z" fill="#220000" fill-rule="evenodd"/>
<path d="M514.3 353.6l17.4 0.6 18 0.3 46.8-0.5 14.9-0.6 12 0.1 5-0.9 3-0.9 2.3-0.9 1.6-1 0.6-1-0.2-1.9 1.2-0.9 1.4-0.6 2.1-1.3 1.2-2 1.3-3.8 0.4-2.9-0.2-2.8-0.5-1.9-1.2-2.9-5.5-8.6-0.8-2-0.6-1.9-0.3-3.8 0.5-13.4-0.3-10.5-0.7-7.7-4.2-36.4-1.4-8.6-1.7-7.4-1-2.7-1-1.8-1-0.9-1-0.1-1 0.7-1 1.8-1 3.3-0.8 6.1-0.9 14.4-0.8 7.7-0.8 3.8-0.7 2.4-1 2.1-1 1.1-1 0.1-1-0.6-1-1.5-1.3-3.6-1.4-6.7-2.2-16.8-1-4.1-0.8-2.1-1.2-2.6-1-1.4-1-0.9-1-0.3-1 0.1-1 0.5-0.7 0.8-1.3 1.8-1 2.2-1.2 3.6-1.1 5.8-1 12.4-0.8 5.8-1.2 4.8-0.7 1.5-1 1.5-1 0.6-1 0-1-0.8-1-1.6-1.4-4.1-2.7-11.5-1.1-2.9-0.7-1.3-1-1.1-1-0.8-1-0.3-1-0.1-1 0.3-1 0.6-1 0.9-2 2.8-2.7 5.7-4.8 12.5-0.9 2.9-0.6 2.6-0.2 2.1 0 11.5-0.4 5.8-0.5 2.9-0.6 1.9-1 1.9-1 0.9-0.3 0.2-1 0-1-0.8-1-1.7-0.7-2.4-0.7-3.9-0.9-10.5-0.6-4-1-1.7-1-0.7-1-0.1-1 0.2-2 1.2-1 1-1 1.3-1.7 2.8-1.8 3.8-1.5 3.9-2.5 8.6-1 2.8-1.5 2.6-1.2 1.3-0.8 0.5-1 0.3-1-0.1-1-0.4-1.4-1.3-3.6-5.5-0.9-1-1-0.5-1-0.3-2 0.2-2 0.8-2.3 1.5-1.9 1.9-4.8 6-2 1.9-2.5 1.7-3.4 1.9-5.8 2.9-6.4 2.9-6.8 2.7 0 33.9 5.5 0.7 10.4 0.9 19 1zM585.5 312.5l-0.8-1-0.4-1-0.1-0.9 0.2-1 0.7-0.9 1.4-0.9 1-0.1 1 0.1 1 0.5 1 1 0.5 1.3 0.1 0.9-0.3 1-0.8 1-1.5 0.7-1 0-1-0.2z" fill="#270000" fill-rule="evenodd"/>
<path d="M541.9 353.6l7.8 0.1 22.9-0.2 25.9-0.5 12.9-0.6 9 0.1 3-0.2 3.5-0.6 3.5-1.3 1-0.6 0.9-1 0.1-0.9 0.3-1 1.9-0.9 1.7-0.6 2-0.9 0.8-0.4 0.9-1 1.4-2.9 0.8-2.8 0.3-2.9-0.2-1.9-0.5-1.9-1.3-2.9-5.2-7.8-0.9-1.8-1-2.9-0.2-3.8 0.5-10.5 0-6.7-0.3-6.7-0.7-7.7-3.7-29.7-1.5-9.6-1.1-5.1-1-3-1-1.9-1-1-1 0.1-1 1-1 2.5-1 5-1.4 13.9-1.1 6.7-0.7 2.9-0.8 2.3-1 1.8-1 0.9-1 0.1-1-0.6-1.1-1.6-1.2-2.9-1.5-5.7-2.3-13.4-0.8-3.6-1-3.1-1-2.2-1-1.5-1-1-1-0.4-1 0.1-1 0.7-1 1.1-1 1.8-1 2.6-1.3 5.5-1.7 12.4-1.1 5.8-0.9 2.9-1 2.2-1 1.3-1 0.6-1 0-1-0.6-1-1.4-0.6-1.2-1-2.9-3.1-10.5-1.2-2.7-1-1.4-1-0.8-1-0.5-1-0.1-1 0.3-1 0.6-2 2.3-1.8 3.2-1.6 3.9-3 8.6-1.8 5.7-0.8 4.8-0.6 10.5-0.6 4.8-0.6 2.9-0.7 1.9-0.5 1-1 1.4-1 0.6-1 0-1-0.7-1-1.5-0.7-1.7-0.7-2.9-1.5-11.9-0.7-2.5-0.3-0.9-1-1.2-1-0.4-1 0.1-1 0.4-1 0.8-1 1-2 3.1-2.6 5.7-4.2 11.5-1.7 2.9-1.5 1.6-1 0.6-1 0.3-1-0.1-1-0.3-1-0.7-1-1.1-3-4.2-0.9-1-1-0.6-1-0.2-2 0.1-2 0.8-2 1.5-2 2.2-4 5.2-2 1.9-2.3 1.7-3.4 1.9-6 2.9-14.2 5.7 0 28.3 3.1 0.4 0.3 1-0.5 0.9 2.4 1 3.7 0.7 10.9 1.2 18 1.1 24.9 0.8zM585.5 312.7l-1-1.2-0.4-1-0.1-0.9 0.2-1 0.6-0.9 0.7-0.7 1-0.4 1-0.1 1 0.1 1 0.5 0.7 0.6 0.7 0.9 0.3 1 0 0.9-0.3 1-0.7 1-0.7 0.5-1 0.3-1 0.1-1-0.2z" fill="#2d0000" fill-rule="evenodd"/>
<path d="M546.2 352.7l28.4-0.3 23.9-0.6 13.9-1 10 0 2-0.4 2-0.7 1.2-0.9 0.3-0.9 0.7-1 2.7-0.9 3.1-0.7 3-1.2 1.2-1 1.6-2.9 0.7-1.9 0.5-2.9 0-1.9-0.6-2.8-0.8-2-1.1-1.9-4.2-5.7-1.2-1.9-0.8-2-0.5-1.9-0.3-3.8 0.6-9.6 0.1-5.7-0.2-5.8-0.4-5.7-1-8.6-3.3-23-1.3-7.3-1-3.6-1-2.2-1-1.1-1 0.1-1 1.5-1 3.2-2.4 14.2-1.2 4.8-1 2.8-1.2 2-1.2 1-1 0-1-0.5-1-1.2-1-1.8-0.9-2.3-1.4-4.8-2.6-11.5-1.7-4.8-1.3-2.6-1-1.1-1-0.4-1 0.1-1 0.7-1 1.4-1 2.1-1.4 4.6-2.2 11.5-1.4 5.6-1 2.6-1 1.8-1 1.2-1 0.6-1 0.1-1-0.5-1.5-1.8-1.7-3.9-2.8-8.2-0.9-2-1-1.5-1-1-1-0.5-1-0.1-1 0.2-1 0.7-1 1-1 1.5-1.6 3.2-1.5 3.9-1.5 4.7-1.9 6.7-0.8 3.9-1.5 11.5-0.9 4.8-1.3 3.8-1 1.7-1 1-1 0.5-1-0.1-1-0.6-1.1-1.6-0.9-1.9-0.8-2.8-2.1-11.5-1-2-1-0.7-1-0.1-1 0.4-1 0.8-2 2.6-1.9 3.7-3.6 8.7-1.8 3.8-1.9 2.9-1.8 1.6-1 0.5-1 0.3-1 0-1-0.3-2-1.5-3-3.7-0.9-0.9-1-0.6-1-0.3-2 0.2-2 0.9-1.2 0.9-1.8 2-4.3 5.7-1.7 1.6-2 1.4-3 1.7-6.3 2.9-15.6 6.1 0 25.9 7.4 0.6 8.1 0.9 1.6 1 0.4 0.9 3.5 1 7.3 1 15.5 1.1 23 0.8zM586.5 313.4l-1.6-0.9-0.7-1-0.4-1-0.1-0.9 0.2-1 0.6-1.1 1-0.9 1-0.3 1-0.1 1 0.1 1 0.5 1.1 0.9 0.6 0.9 0.3 1 0 0.9-0.3 1-0.7 1-1 0.7-1 0.4-1 0z" fill="#350000" fill-rule="evenodd"/>
<path d="M527.7 350.8l14 0.6 9.9 0.2 22-0.4 25.9-1 3.7-0.4 5-1 2.2-0.9 1-0.2 3-0.2 6 0 11-2.2 4.3-1.2 1.5-1 1.1-1.4 1.3-2.4 0.8-2.9 0.1-1.9-0.4-2.9-0.6-1.9-1.2-2.1-4.8-6.5-1.2-1.9-0.8-2-0.5-1.9-0.2-3.8 0.6-8.6 0.1-5.8-0.1-5.7-0.4-5.8-1.2-9.5-2.4-15.3-1.4-6.8-0.6-2.4-0.9-2.3-1.1-1.6-1 0.1-1 1.6-1 3-2.3 9.3-1.3 3.8-1.4 2.9-1 1.1-1 0.6-1 0.1-1-0.6-1-1-1.2-2.1-2-4.8-2.7-9.5-2-5.4-1.5-2.3-0.5-0.7-1-0.5-1 0.2-1 0.8-1 1.5-1 2.2-1 3.2-2.3 9.6-1.5 4.7-1.2 2.8-1 1.6-1 1.1-1 0.6-1 0.1-1-0.3-1-0.8-0.9-1.2-1.4-2.9-2.7-6.7-0.9-2.1-1-1.5-1-1.1-1-0.6-1-0.1-1 0.3-1 0.7-1 1.2-1 1.6-1.2 2.6-2.2 6.7-2.2 9.5-2.1 11.5-1.5 5.8-1.8 3.8-1 1.2-1 0.8-1 0.4-1-0.1-1-0.6-1.3-1.7-1-1.9-0.6-1.9-2-9-0.6-1.6-0.4-1-1-1.1-1-0.2-1 0.4-1 0.8-1 1.3-1.6 2.7-3 6.7-2.6 4.8-1.2 1.9-1.6 1.9-2 1.6-2 0.7-2-0.2-2-1.3-3.9-4-1-0.5-1-0.3-2 0.2-1.9 1-1.1 0.9-1.7 1.9-2.8 3.9-1.5 1.7-2 1.7-2 1.3-4 2-4.5 1.9-16.4 6.3 0 24.1 28 2.1 3.3 1 1.3 0.9 2.3 0.5 3 0.5 9.9 0.9zM586.5 313.6l-1-0.4-0.9-0.7-0.7-1-0.5-1.9 0.1-1 0.5-0.9 0.5-0.7 1-0.7 1-0.3 2 0 1 0.5 1.4 1.2 0.6 1.1 0.2 1.7-0.2 1-1 1.3-1 0.7-1 0.3-1 0z" fill="#3c0000" fill-rule="evenodd"/>
<path d="M538.8 349.8l10.9 0.4 20.4-0.4 12.4-1 5-0.9 9-0.5 3.6-0.5 11.3-0.6 9-0.2 5-0.3 4-0.6 4.5-1.1 1.4-0.8 1-0.7 1.8-2.4 0.9-1.9 0.6-2.9 0-1.9-0.6-2.8-0.9-2-1.2-1.9-5.2-6.7-1.3-2.7-0.6-2.1-0.1-3.8 0.7-8.6 0.2-5.8-0.1-4.7-0.4-5.8-1-7.7-1.7-10-2-8.8-1-2.8-1-1.4-1-0.2-1 1.1-1 2.2-2.4 6.5-1.6 3.4-1 1.4-1 1-1 0.4-1 0-1-0.5-1-0.9-1.3-1.9-2.2-4.8-3.4-9.3-1-2.2-1-1.8-1-1.1-1-0.5-1 0.1-1 0.8-1 1.5-1 2.3-3.5 11.2-1.5 3.8-2 3.4-1 1.1-1 0.6-1 0.2-1-0.1-1-0.7-1-1-1.5-2.5-3.4-7.6-1-1.6-1-1.1-1-0.7-1-0.1-1 0.3-1 0.8-1 1.4-1 1.9-2 5.7-1.5 6.7-2.3 12.5-1.6 5.7-1.3 2.9-1.1 1.9-1.5 1.9-1.2 1-1.5 0.5-1-0.1-1-0.5-1-1-1.1-1.8-1.2-2.9-1.6-6-1-2.8-1-1.3-1-0.4-1 0.4-1 0.9-1 1.3-4.1 7.9-3.1 4.8-2.6 2.9-2.2 1.5-2 0.7-2-0.2-2-1.1-3-2.6-1.9-1.3-1-0.3-1 0-1 0.3-1.8 1.1-1.2 1.1-3.6 4.6-1.8 1.9-1.6 1.4-2.4 1.5-6.2 2.9-19.3 7.3 0 22.5 14 1.1 27.4 1.6 6 1 3.2 0.9 9.2 1zM585.5 313.5l-1.2-1-0.7-1-0.4-1 0-1.9 0.4-0.9 0.9-1.2 1-0.6 1-0.3 1 0 2 0.6 1 0.7 1.2 1.7 0.3 1.9-0.3 1-0.5 1-0.7 0.6-1 0.6-1 0.3-2-0.1z" fill="#460000" fill-rule="evenodd"/>
<path d="M542.9 346.9l6.8 0.4 73.7-2 6-0.8 2.1-0.4 1.9-0.8 1.9-1.3 2-2.6 0.9-2 0.4-2 0-1.9-0.7-2.8-0.9-2-1.3-1.9-4-4.8-1.3-1.9-1.1-1.9-0.8-2.9-0.1-3.8 1-12.4 0-4.8-0.3-4.8-0.6-5.8-1.1-6.8-1.6-6.6-1.4-4.3-1-1.6-1-0.6-1 0.4-1 1.1-3.1 5-1.4 1.9-1.5 1.2-1 0.3-1 0-1-0.5-1-0.8-1.5-2.1-2.2-3.8-4.2-8.8-1-1.5-1-1.1-1-0.5-1 0.1-1 0.8-1 1.5-1 2-3.7 9.4-2.3 4.5-2 2.4-1 0.7-1 0.4-1 0-1-0.3-1-0.8-1-1.1-1.2-2-2.7-5.4-1-1.6-1-1.2-1-0.6-1-0.2-1 0.5-1 1-1 1.7-0.8 2-1.2 4.2-1.1 5.4-1.7 11.5-1.2 4.5-1.1 2.2-1.4 1.9-2.9 2.9-1.6 1.1-1 0.5-1 0.1-1-0.1-1-0.4-1-0.9-1-1.3-1.1-1.9-2.8-7.2-1-1.5-1-0.4-1 0.3-1 0.9-4.3 6.9-3 3.9-3 2.8-2.7 1.7-2 0.6-2-0.1-2-0.8-3.9-2.7-1-0.4-1-0.2-1 0-1 0.3-2 1.5-5.3 5.9-1.7 1.3-2.4 1.6-6.4 2.8-20.1 7.7 0 20.3 8 1 14.9 1 26.9 1.2 14 0.4zM585.5 313.8l-1.6-1.3-0.7-1-0.5-1.9 0.4-1.9 0.6-1 0.8-0.8 1-0.5 1-0.2 2 0.2 2 1 1 1.2 0.5 1 0.2 1.9-0.2 1-0.5 1-1 1-1 0.5-1 0.2-2-0.1z" fill="#500100" fill-rule="evenodd"/>
<path d="M533.9 346l12.8 0.3 6.9 0 44.9-0.7 23.9-0.8 5-0.5 4-1 2.1-1.2 2-1.9 1.2-1.9 0.7-1.9 0.2-2.9-0.4-1.9-0.8-1.9-1.1-1.9-4.9-5.8-1.3-1.9-1.5-2.9-0.4-1.9-0.1-3.8 1.1-11.5-0.1-8.6-0.6-5.8-0.8-4.7-1.3-5.5-1-2.8-1-1.8-1-0.9-1-0.1-1 0.4-1 0.9-2.9 3.1-1.3 0.9-0.8 0.4-1 0.2-1-0.1-1-0.5-1.1-0.9-1.9-2.2-4.9-8.1-2-2.8-1-0.9-1-0.5-1 0.2-1 0.7-1 1.3-2 3.7-3.2 6.6-1.6 2.9-2.2 2.8-2 1.4-1 0.3-1 0-1-0.4-1-0.7-1.2-1.5-3.7-6.3-1-1.2-1-0.7-1-0.1-1 0.7-1.2 1.9-0.8 2.2-0.7 2.6-0.8 4.8-1.4 11.5-1.1 3.8-1 1.9-1 1.2-2.3 1.7-3.3 1.9-2.4 0.9-1 0.1-1-0.1-1.6-0.9-1.4-1.3-1.1-1.6-2.8-5.1-1-1.2-1-0.4-1 0.3-1 0.8-3.7 4.7-2.6 2.8-3.6 2.9-2.1 1.3-1.5 0.6-1.5 0.3-2 0-2-0.6-3.9-1.9-1-0.3-2 0.1-2 1-5.5 5.2-2.5 1.9-2 1.2-6.3 2.7-20.6 7.8 0 18.1 4.5 0.9 3.5 0.5 9.9 0.9 18 0.9 18.9 0.6zM586.5 314.4l-2-0.9-1.1-1-1-2-0.1-1.9 0.7-1.9 0.8-0.9 1.7-0.9 2-0.2 2 0.6 1 0.7 1.4 1.7 0.7 1.9-0.3 1.9-0.4 1-0.9 0.9-1.5 0.9-2 0.3z" fill="#5b0100" fill-rule="evenodd"/>
<path d="M514.7 345l16 0.6 19 0.2 46.8-0.6 23.9-0.7 5-0.4 4-0.9 2.2-1.1 2.5-1.9 1.5-1.9 0.8-1.9 0.2-2.9-0.3-1.9-0.9-1.9-1.2-1.9-5-5.8-1.4-1.9-1.5-2.9-0.5-1.9-0.1-1.9 0.1-1.9 1.2-10.5 0.2-6.7-0.4-4.8-0.5-3.9-0.9-4.2-1.1-3.4-1-1.9-0.9-1.2-1-0.5-1 0-1 0.3-3 2-2 0.9-1 0-1-0.2-1-0.4-1.2-0.9-1.8-1.9-5.9-8.1-2-1.7-1-0.3-1 0.1-1 0.7-1 1-2 3.2-3 5.6-2 3.4-3 3.7-2 1.5-1 0.4-1 0.2-1-0.2-1-0.5-1.2-1.4-2.7-4.3-1-1.2-1-0.6-1 0.3-1 1.4-1 3.1-0.7 4.2-0.8 8.6-0.9 3.8-0.9 2-0.7 1-1 1-2 1.3-7 2.4-2 0.2-1-0.1-2-1-1-0.9-3.9-5-1-0.8-1-0.2-1 0.2-1 0.6-4.2 4.1-2.3 1.9-2.9 2-2.6 1.3-3 0.9-2 0-2-0.4-3.9-1.2-2-0.2-1 0.2-2 1.1-6 4.9-3.2 2-4.4 1.9-14.3 5.4-9 3.6 0 15.7 7 1.6 7 1 7.9 0.7 13 0.7zM586.5 314.7l-2-0.9-1.5-1.3-1-2-0.3-1.9 0.5-1.9 1.3-1.6 1-0.6 1-0.3 2 0 2 0.7 1 0.6 1 1 0.8 1.2 0.6 1.9-0.2 1.9-0.5 1-0.8 0.9-0.9 0.7-1 0.5-2 0.2z" fill="#660100" fill-rule="evenodd"/>
<path d="M526.5 345l22.2 0.5 17.9-0.2 31.9-0.6 21.9-0.9 5-0.5 3-0.8 2.6-1.3 2.4-1.9 1.3-1.9 0.7-2 0.1-1.9-0.4-1.9-0.9-1.9-1.4-1.9-5.1-5.8-1.5-1.9-1.6-2.9-0.6-1.9-0.1-1.9 0.1-1.9 1.6-9.6 0.2-6.7-0.6-6.7-0.8-3.5-1-2.9-1-1.8-1-1-1-0.4-1-0.1-1 0.2-2.9 0.9-1.1 0.2-2-0.4-1-0.5-2.6-2.2-6.3-7.1-2-1.4-1-0.2-1 0.2-1 0.6-2 2.3-7 11.7-6 9.2-2 2.7-1 0.7-1 0.3-1.9 0.2-1 0.4-4 4.4-2.3 1.9-1.6 0.9-3.1 1.1-7 1.3-2 0.1-2-0.5-1-0.6-4.9-4.2-1-0.5-1-0.1-1 0.2-2 1.1-5.8 4.1-3.7 1.9-2.5 0.9-2 0.5-2 0.1-5.9-0.9-2 0.1-1 0.3-2 1-5.2 3.7-3.8 2.1-4 1.7-15.9 6-8 3.5 0 12.9 8 2.1 8.2 1.4 11.7 1.1 18.9 0.8zM585.5 314.7l-2.1-1.3-1.6-1.9-0.7-1.9-0.2-1.9 0.2-1 0.9-1.9 0.5-0.6 1-0.6 2-0.4 2 0.3 2 0.8 2 1.5 1.3 1.9 0.3 0.9 0.2 1.9-0.6 2-0.8 0.9-1.2 1-2.2 0.7-2-0.1z" fill="#740100" fill-rule="evenodd"/>
<path d="M542.6 345l24-0.1 29.9-0.6 23.9-1.2 4-0.5 3-0.9 3-1.5 2.2-1.9 1.2-1.9 0.5-1.9-0.2-1.9-0.7-1.9-1.9-2.9-7-7.7-1.9-2.9-0.6-1.9-0.1-2.8 1.8-8.7 0.5-3.8 0.1-2.9-0.2-3.8-0.4-2.9-0.4-1.9-0.9-2.6-1-1.6-1-1-1-0.4-1-0.2-4-0.1-2-0.5-1-0.5-2.1-1.7-4.8-4.9-2-1.8-2-1.1-1-0.1-1 0.2-1 0.6-1 0.9-2 2.7-1.5 2.5-4.9 9.6-1.8 4.8-1.1 3.8-0.3 2 0 0.9 0.4 1 1.2 0.9 3 1.6 2 1.6 1.3 1.6 0.8 1.9 0.1 1.9-0.6 2-0.6 0.9-1 0.9-1 0.6-2 0.5-2-0.1-2-0.6-1-0.7-1.7-1.5-0.6-1-1-1.9-1-2.9-0.7-1-0.9-0.6-2-0.4-2 0.1-8 1.9-8 0.7-2 0-2-0.4-1-0.5-4.9-3.2-2-0.3-2 0.5-7.7 4.2-5.3 2-2 0.4-2 0.2-5.9-0.3-3 0.6-2 0.9-4.6 2.9-3.5 1.9-19.7 7.7-4.4 1.9-4.7 2.4 0 9.7 3.4 1.3 3.3 0.9 9.2 2 6.5 0.9 5.5 0.5 14 0.8 20.9 0.6z" fill="#820200" fill-rule="evenodd"/>
<path d="M521.2 344.1l14.5 0.4 14 0.3 24.9-0.4 25.9-0.7 17.9-1.2 4-0.5 4-1 2-0.9 2-1.3 1.4-1.4 1-2 0.2-1.9-0.1-0.9-0.7-1.9-2-2.9-6.7-6.7-2.6-2.9-1.1-1.9-0.5-1.9-0.1-1 0.3-1.9 2.1-6.7 0.8-4.8 0.1-2.9-0.2-2.8-0.5-2.9-0.7-1.9-0.7-1.2-1-1.1-2-1-4-1.2-2-1.1-2-1.5-5.9-5.5-2-1.3-1-0.3-1 0-1 0.3-1 0.6-1 0.9-2 2.7-1.7 3-1.8 3.8-1.1 2.9-1.2 3.8-0.8 3.8-0.1 2 0.1 0.9 0.4 1 0.8 0.9 2.4 2.3 1.3 1.6 1 1.9 0.4 1.9-0.2 1.9-1 1.9-1 1-1.5 0.9-1 0.3-2 0.2-1-0.1-2-0.6-2.5-1.7-3.5-4.2-0.9-0.8-2-0.7-3-0.1-8 0.8-9 0.1-3-0.8-3.9-2.2-2-0.5-1 0-2 0.4-6.9 3.2-6.1 2.1-4 0.7-5.9 0.1-3 0.6-2 0.9-8 4.3-14.7 5.7-6.7 2.9-3.8 1.9-2.9 1.9-0.8 0.7 0 5.4 2.4 1.6 2.6 1 7 2 9.1 1.7 7.6 1 13.2 0.9z" fill="#900200" fill-rule="evenodd"/>
<path d="M531.1 344.1l17.6 0.3 10.9-0.1 15-0.2 27-1 16.8-1.5 4-0.5 3-0.8 2-0.9 1.8-1.1 1-0.9 1.2-2 0.3-1.9-0.4-1.9-0.9-1.8-3-3.5-9.1-8.1-1.4-1.9-0.7-1.9-0.1-1 0.3-1.9 2.7-6.7 0.9-3.8 0.2-2.9-0.1-1.9-0.4-1.9-0.7-1.9-1.6-2-6-3.9-7.9-6.9-2-1.1-1-0.2-1 0.1-1.4 0.5-1.6 1.5-1 1.3-1.2 2-1.4 2.9-2 5.8-0.9 4.7 0 2.9 0.8 1.9 2.1 2.9 1.1 1.9 0.7 2.9-0.2 1.9-0.9 1.9-1.1 1.1-2 1.2-1 0.3-2 0.1-2-0.3-1-0.3-2-1.1-4-3.4-0.9-0.6-2-0.6-3-0.3-8 0.3-9-0.3-3-0.7-3.9-1.8-2-0.3-1 0-2 0.4-8 3.1-5 1.5-4 0.7-5.9 0.4-3 0.7-10 4.8-13 5-5.8 2.6-3.7 1.9-2.8 1.9-1.7 1.9-0.4 1 0 0.9 0.4 1 0.9 0.9 1.3 1 1.9 1 4 1.4 7.9 1.9 10 1.6 9 0.9 14.9 0.8z" fill="#9e0200" fill-rule="evenodd"/>
<path d="M545.6 344.1l29-0.5 20.9-0.8 8-0.5 14.9-1.5 4-0.7 2-0.5 2-0.9 2-1.3 0.9-1 0.6-1 0.5-1.9-0.4-1.9-1-1.9-1.6-1.9-3-2.8-6.7-4.9-2.3-1.9-0.9-1-1.1-1.9-0.4-1.9 0.2-1.9 3.1-7.7 0.7-2.8 0.1-1.9-0.2-2-0.5-1.7-0.5-1.1-2.4-2.9-8-7.5-3-2.1-2-0.6-1 0.2-1 0.4-1 0.8-1 1.2-2.2 3.8-1.6 4.8-0.9 4.7 0 2.9 0.5 1.9 2 3.9 0.8 1.9 0.2 2.8-0.5 2-0.5 0.9-0.9 1-1.9 1.3-1 0.4-2 0.4-3-0.3-2.3-0.9-5.6-3.4-3-0.7-3-0.3-7 0-8-0.3-3-0.5-4.9-1.8-2-0.2-2 0.2-2 0.5-7.7 2.7-3.4 1-3.9 0.7-6.9 0.8-4 1.1-8.8 4.1-11.2 4.3-5.3 2.4-5.1 2.8-2.2 2-0.7 0.9-0.3 1 0.1 0.9 0.6 1 0.9 0.9 1.5 1 2.6 1.1 3 1.1 4.9 1.2 10 1.8 11 1.2 11.9 0.8 15 0.4z" fill="#ac0300" fill-rule="evenodd"/>
<path d="M529.4 343.1l12.3 0.5 9.9 0.1 23-0.5 22.5-1.1 7.4-0.6 14.9-1.8 4-0.9 3-1.4 1.2-1 0.7-1 0.6-1.9-0.3-1.9-1.1-1.9-1.6-1.9-2.5-2.2-7.1-4.5-2.6-1.9-1.9-2-0.7-0.9-0.9-1.9-0.1-1 0.1-1.9 0.6-1.9 2.3-5.8 0.6-2.8-0.1-2.9-1-2.9-1.1-1.9-1.5-1.9-2.5-2.9-2-1.9-2-1.5-1-0.5-1-0.3-1-0.1-1.4 0.5-1.6 1.3-1 1.5-1 1.9-1 3-0.8 3.8-0.2 3.8 0.3 1.9 2.1 5.8 0.3 2.8-0.2 1-0.9 1.9-1.6 1.7-2 1.1-2 0.6-3 0-3-0.8-5-2.5-2.9-0.9-4-0.4-7-0.2-8-0.4-3-0.5-4.9-1.6-3-0.1-3 0.6-7 2.3-4.3 1.1-3.7 0.7-6.9 1-3 0.8-23 9.6-4.4 2.3-2.7 1.9-0.9 1-0.6 0.9-0.2 1 0.2 0.9 0.6 1 1.1 0.9 1.6 1 3.4 1.3 5.9 1.7 9 1.6 9.2 1.1 11.7 1z" fill="#bb0400" fill-rule="evenodd"/>
<path d="M540 343.1l9.7 0.2 16.9-0.4 31.9-1.5 7.9-0.8 13-1.8 4-1.2 2.2-1.2 0.9-1 0.6-0.9 0.2-1 0-0.9-0.6-1.9-1.3-1.8-2-1.8-2-1.5-6.2-3.6-2.9-1.9-3.2-2.9-1.4-1.9-0.7-1.9 0-1.9 0.6-1.9 1.8-4.3 0.8-2.4 0.4-2.9-0.2-1.9-1-2.9-1-1.9-1.4-1.9-2.5-2.5-2-1.2-1-0.2-1 0-1 0.4-1 0.8-0.6 0.8-1.4 2.8-0.8 2.9-0.3 2.9 0 2.9 0.4 1.9 1.4 4.8 0.2 1.9-0.2 1.9-1 1.9-0.8 1-1.9 1.4-2 1-3 0.5-2 0-3-0.7-5.9-2.4-3-0.6-3-0.3-15-0.9-3-0.4-4.9-1.4-2-0.1-2 0.2-13 3.5-10.9 1.9-4 1.1-20.4 8.7-3.6 1.9-2.6 1.9-0.9 1-0.5 0.9-0.2 1 0.3 0.9 0.7 1 1.3 0.9 1.8 1 2.4 1 3.2 0.9 7.5 1.6 10 1.5 10.9 1 13 0.7z" fill="#c90500" fill-rule="evenodd"/>
<path d="M531 342.1l11.7 0.6 8.9 0.1 21-0.6 21.9-1.2 8-0.6 7.9-1.1 8-1.4 2.4-0.5 1.6-0.6 2.1-1.4 0.7-0.9 0.4-1 0.1-0.9-0.2-1-1.2-1.9-1.9-1.9-1.4-1-8.3-4.8-2.8-1.9-2.4-1.9-2.1-1.9-2.6-2.9-1.3-1.9 0-0.8-0.2 0.8-0.8 0.1-3.3 2.8-3 1.9-2.7 1-3 0.5-2 0-2-0.4-6-1.9-3.9-0.9-18-1.3-3-0.5-4.9-1.2-4 0.1-13 3.3-10 1.8-3.9 1-3 1.1-14 6-5.6 2.9-2.6 1.9-0.8 1-0.5 0.9 0 1 0.3 0.9 0.9 1 1.3 0.9 2 1 2.6 1 3.5 0.9 4.9 1 11 1.7 12.9 1.1zM600.6 309.6l0.9 0.9 3-3.1 1.9-3.3 0.9-3.1 0-1.9-0.7-2.9-1.1-2.1-1-1.2-1-0.9-1-0.5-1-0.2-1 0.2-1 0.8-1.1 2-0.7 2.8-0.1 2.9 0.4 2.9 0.5 1.8 2 4.7z" fill="#d70600" fill-rule="evenodd"/>
<path d="M541.2 342.1l8.5 0.2 18.9-0.5 23.9-1.3 8-0.6 8.9-1.3 9-1.8 1.5-0.4 2-1 1.1-0.9 0.6-1 0.2-0.9-0.2-1-0.4-0.9-0.8-1-2-1.7-9-5.3-7.9-5.2-3-1.3-2-0.2-7 2-2 0.3-2 0-3-0.4-6-1.6-3.9-0.7-18-1.5-3-0.5-3.9-0.9-2-0.2-2 0.1-3 0.5-9 2.3-12.9 2.5-4 1.2-11.6 4.9-6.1 2.8-3 1.9-1.1 1-0.7 1-0.5 0.9 0 1 0.5 0.9 0.9 1 1.5 0.9 4.1 1.7 4.7 1.2 7.3 1.3 8 1.1 8.9 0.8 11 0.6z" fill="#e40700" fill-rule="evenodd"/>
<path d="M533.3 341.2l13.4 0.6 9.9-0.1 18-0.7 22.9-1.5 9.3-1.2 8.8-1.9 3.8-1.4 0.8-0.5 1-1 0.3-0.9-0.1-1-1-1.6-1.4-1.3-14.5-8.8-2-1-2-0.7-3-0.4-7 1-4 0-11.9-2.3-18-1.6-7.9-1.4-3 0-3 0.5-9.5 2.3-11.5 2.3-3.9 1-8.2 3.4-8.2 3.8-3 1.9-1 1-0.7 1-0.4 0.9 0.1 1 0.5 0.9 1.1 1 2.8 1.4 4 1.4 5 1.1 7 1.2 7.9 0.9 8 0.6z" fill="#f10a00" fill-rule="evenodd"/>
<path d="M543.9 341.2l7.7 0.1 19-0.6 21.9-1.4 7-0.6 8-1.3 6.9-1.9 2.3-1 1.4-1 0.6-0.9 0-1-0.4-0.9-0.8-1-2.5-1.9-9.5-5.8-3-1.5-2-0.8-2-0.4-2-0.1-7 0.4-3-0.1-12.9-2.3-17-1.6-7.9-1.3-3 0.1-3 0.4-10.4 2.4-10.6 2.2-3.9 1.1-6.2 2.5-7.9 3.8-3 1.9-1 1-0.6 1-0.3 0.9 0.1 1 0.7 0.9 1.1 1 1.1 0.6 3.3 1.3 5.7 1.5 7 1.2 6.9 0.8 9 0.8 10 0.5z" fill="#f71500" fill-rule="evenodd"/>
<path d="M535.4 340.2l13.3 0.6 11.9-0.3 15-0.7 20.8-1.5 7-0.9 5-1.2 4.7-1.7 1.5-1 0.9-0.9 0.2-1-0.3-0.9-0.7-1-2.2-1.9-4.4-2.9-3.6-2.1-3-1.3-2-0.6-4-0.6-6 0-4-0.3-11.9-2-17-1.6-7.9-1.3-3 0.1-3 0.4-20 4.4-4 1.1-5 1.9-7.8 3.8-2.9 1.9-0.9 1-0.7 1-0.2 0.9 0.2 1 0.8 0.9 1.3 1 1.3 0.6 3.5 1.3 4.5 1.1 6 1.1 6.9 0.8 9 0.8z" fill="#fe2000" fill-rule="evenodd"/>
<path d="M548.3 340.2l12.3-0.2 13-0.6 25-2 5.4-1 4.4-1.4 3-1.5 1-0.9 0.3-1-0.1-0.9-0.6-1-0.8-1-2.4-1.9-5.3-3.1-3-1.3-2-0.5-3-0.5-10-0.6-12.9-2.2-16-1.5-7.9-1.2-3 0.1-4 0.6-19 4.2-4.9 1.5-6.2 2.6-5 2.9-2.2 1.9-0.6 1-0.1 0.9 0.3 1 0.8 0.9 1.5 1 2.1 0.9 2.4 0.8 4.9 1.2 6 0.9 8.4 1 8.6 0.6 9 0.3z" fill="#ff3200" fill-rule="evenodd"/>
<path d="M537.4 339.3l11.3 0.4 15.9-0.4 12-0.7 17.9-1.5 6-0.9 5-1.3 2.9-1.4 1.1-0.9 0.5-1-0.1-0.9-0.4-1-0.8-1-2.3-1.9-3.9-2.3-4-1.4-4-0.7-9-0.8-13.9-2.4-15-1.4-7.9-1.1-3 0.1-4 0.6-16.6 3.7-5.3 1.4-3.9 1.5-4 1.9-3.1 1.9-2.1 1.9-0.5 1-0.1 0.9 0.4 1 1 0.9 1.3 0.8 2.7 1.1 4.3 1.2 5.9 1.1 7 0.9 8 0.6z" fill="#ff4400" fill-rule="evenodd"/>
<path d="M532.2 338.3l8.5 0.6 8 0.3 14.9-0.4 12-0.7 16.9-1.6 6-0.8 4.8-1.2 2.1-1 1.3-0.9 0.6-1 0.1-0.9-0.4-1-0.7-1-1.8-1.5-2-1.3-4-1.6-4-0.8-10-1.2-11.9-2.1-16-1.7-6.9-1-4 0.1-4 0.5-13.2 3-6.8 1.7-3.4 1.2-3.5 1.5-2.4 1.3-2.6 1.9-0.8 1-0.4 1 0 0.9 0.4 1 0.8 0.6 2.1 1.3 2.7 0.9 4.2 1.1 5.1 0.9 7.8 0.9z" fill="#ff5700" fill-rule="evenodd"/>
<path d="M539.8 338.3l8.9 0.3 10.9-0.2 13-0.7 9.9-0.8 12.2-1.5 4.8-0.9 3-1.1 1.2-0.8 0.8-1 0.2-0.9-0.3-1-0.6-1-1.1-0.9-3.2-1.8-3-0.9-12-1.9-11.9-2.3-23.9-2.7-4 0.2-4 0.7-12.8 2.9-6.2 1.7-3.3 1.2-3.8 1.9-2.5 1.9-0.8 1-0.4 1 0.1 0.9 0.6 1 1.3 0.9 0.9 0.5 3 1.1 4.9 1.2 5 0.8 13 1.2z" fill="#ff6a00" fill-rule="evenodd"/>
<path d="M534.7 337.4l8 0.5 7 0.2 13.9-0.5 11-0.6 13.6-1.6 6.3-0.9 4-1 1.9-0.9 1.1-1 0.3-0.9-0.2-1-0.8-1-1.2-0.9-2.1-1-3-0.9-21.9-4.2-22.9-2.7-3 0-4 0.5-15.3 3.5-4.7 1.4-3.9 1.5-2 1-2.4 1.8-0.7 1-0.3 1 0.2 0.9 0.7 1 1.4 0.9 1.1 0.5 3 1 3.9 0.9 5 0.8 6 0.7z" fill="#ff7d00" fill-rule="evenodd"/>
<path d="M543.4 337.4l6.3 0.1 10.9-0.3 11-0.6 6.9-0.7 9.8-1.4 4.8-1 3-0.9 1.6-1 0.6-0.9-0.2-1-0.6-0.6-2.2-1.3-3.2-1-15.5-3.5-7-1.2-20.9-2.4-3 0.2-4 0.6-7.1 1.5-7.9 2.1-4 1.3-3.2 1.4-1.7 1.2-0.9 0.7-0.7 1-0.3 1 0.3 0.9 0.9 1 1.7 0.9 2.7 1 4 0.9 5.2 0.9 12 1z" fill="#ff9000" fill-rule="evenodd"/>
<path d="M538.1 336.4l7.6 0.4 6.9 0 12-0.4 10-0.8 7.8-1.1 4.8-1 3.4-0.9 2-1 0.9-0.9-0.3-1-0.7-0.5-0.6-0.5-2.4-0.9-6.7-1.9-7.2-1.9-6-1-19.9-2.4-3 0-4 0.5-4.6 0.9-7.6 2-3.8 1.1-4 1.6-2 1.1-1.2 0.9-0.7 1-0.2 1 0.4 0.9 1.1 1 2 0.9 3.1 1 3.5 0.7 9 1.2z" fill="#ffa500" fill-rule="evenodd"/>
<path d="M535.5 335.4l7.2 0.7 6 0.2 15.9-0.6 6-0.5 6.2-0.7 4.9-1 3.3-0.9 2-1 0.9-0.9-0.2-1-1.3-1-2.1-0.9-5.7-1.9-5-1.3-5-0.9-18.9-2.2-3 0-4 0.4-5 1.1-6 1.6-3.9 1.3-3.1 1.3-2.3 1.5-0.7 1-0.1 1 0.5 0.9 1.3 1 2.3 0.9 3.7 1 5.3 0.8z" fill="#ffb900" fill-rule="evenodd"/>
<path d="M543.6 335.4l5.1 0.2 6.4-0.2 15.5-1 5.7-0.9 3.6-0.9 2-1 0.9-0.9-0.1-1-1.1-1-1.8-0.9-2.4-1-3.1-0.9-6.7-1.3-17.9-2.3-3 0-4 0.5-8.5 2.1-4.5 1.5-2.8 1.4-1.3 0.9-0.7 1-0.1 1 0.7 0.9 1.5 1 2.7 0.9 5 1 8 0.9z" fill="#ffca01" fill-rule="evenodd"/>
<path d="M541.2 334.5l5.5 0.3 4.9 0 7.3-0.3 8.7-0.7 3-0.4 4-0.8 2.4-1 1.1-0.9 0-1-0.9-1-1.7-0.9-2.9-1-3.9-0.9-5.1-0.8-13-1.7-1.9-0.2-3 0.2-3 0.4-3 0.7-4.8 1.4-2.6 0.9-1.9 1-1.4 0.9-0.6 1 0 1 0.8 0.9 1.5 0.8 3.9 1.1 6.1 0.9z" fill="#ffda03" fill-rule="evenodd"/>
<path d="M541.1 333.5l7.6 0.5 8.9-0.4 9.9-1 3.9-1 1.6-0.9 0.2-1-1-1-2.1-0.9-1.5-0.4-7.5-1.5-9.5-1.3-3.9-0.3-5 0.6-3.7 1-2.7 0.9-2.1 1-1.4 0.9-0.6 1 0.2 1 1.1 0.9 2.5 1 4.7 0.9z" fill="#ffe60a" fill-rule="evenodd"/>
<path d="M542.9 332.6l5.8 0.3 7.1-0.3 7-1 2.8-0.9 0.6-1-1.1-1-2.8-0.9-4.5-1-6.3-0.9-2.8-0.3-3.7 0.3-4 0.9-2.3 1-1.5 0.9-0.5 1 0.4 1 1.7 0.9 3.9 0.9z" fill="#fff019" fill-rule="evenodd"/>
<path d="M478.9 349.2l1.4 0.6 5.2 1 10.3 1.1 17 1.1 22.9 0.8 13 0.2 20.9-0.2 28.9-0.5 12.9-0.6 9 0.2 3-0.2 4-0.7 3.6-1.2 1.7-1 0.8-1 0.2-1.9 1.7-0.9 2.9-1.2 1.2-0.7 0.9-1 0.5-1 1.1-2.8 0.6-2.9 0.1-1.9-0.4-2.9-1-2.9-1.6-2.8-4.5-6.7-0.9-2-0.5-1.9-0.3-3.8 0.5-10.5 0-7.7-0.3-6.7-0.9-8.6-3.6-29.7-1.5-9.6-1.3-5.8-1-2.9-1-1.9-1-0.9-1 0-1 0.9-1.2 3-0.9 4.8-1.4 15.3-1 6.7-0.6 2.9-0.9 2.6-1 1.9-1 1-1 0.1-1-0.6-1-1.4-1.4-3.6-1.4-5.8-2.1-13.8-1-4.3-1-3-1-2.1-1-1.5-1-1-1-0.4-1 0.2-1 0.6-1.2 1.4-1.4 2.8-1 2.9-1.2 5.8-1.3 11.4-0.7 4.8-1.4 4.8-0.8 1.7-1 1.4-1 0.6-1 0-1-0.7-1-1.4-1.7-4.4-2.8-10.6-1.4-3.1-1-1.3-1-0.8-1-0.4-1-0.1-1 0.3-1 0.6-1 0.9-1.4 2-1.6 3-1.6 3.7-3.8 10.5-1.2 3.9-0.8 4.8-0.4 10.5-0.6 5.7-0.9 3.9-0.7 1.5-1 1.5-1 0.6-1 0-1-0.7-1-1.6-0.8-2.3-0.6-2.9-1.4-11.5-0.6-2.8-0.5-1.3-1-1-1-0.3-1 0.2-1 0.4-1 0.8-1 1-2.1 3-3 6.7-4 11.5-1.6 2.9-1.3 1.4-1 0.6-1 0.3-1-0.1-1-0.4-1-0.7-0.9-1.1-3.1-4.4-0.9-1-1-0.6-1-0.2-2 0.1-2 0.8-2 1.5-1.9 1.9-5.1 6.4-2 1.7-2 1.4-3.6 2-6.1 2.9-13.2 5.4M585.5 312.6l-1-1.1-0.4-1 0-0.9 0.2-1 0.6-0.9 0.6-0.6 0.9-0.4 1.1-0.2 1 0.2 1 0.4 1 1 0.7 1.5 0 0.9-0.7 1.6-1 0.8-1 0.4-1 0.1-1-0.3zM478.9 342.9l8.3 1.2 15.6 1 29.9 1.3 14 0.3 24.9-0.2 50.8-1.3 4-0.4 4.1-0.7 2.6-1 1.3-0.8 1.9-2.1 1-1.7 0.7-2.1 0.3-1.9-0.5-2.9-1.3-2.9-1.3-1.9-4.8-5.9-1.6-2.7-0.6-1.9-0.3-1.9-0.1-1.9 0.9-9.6 0.3-4.8-0.3-8.6-0.7-5.8-1-5.7-1.6-6.5-1-2.6-1-1.7-1-0.8-1 0.2-1 0.8-3.6 4.8-1.4 1.4-1 0.6-1 0.3-1-0.1-1-0.4-1.8-1.8-1.3-1.9-4.8-8.9-2-3.2-1-1-1-0.4-1 0.1-1 0.8-1 1.3-1 1.9-3.6 8.5-2.4 4.5-2 2.4-1 0.8-1 0.4-1 0.1-1-0.2-1-0.6-1-1-1.7-2.6-2.2-4.3-1-1.6-1-1.2-1-0.7-1-0.1-1 0.5-1 1.2-0.8 1.4-1.3 3.8-1.4 6.7-1.5 11.5-0.7 2.9-0.6 1.9-1.1 1.9-1.7 2-2.3 1.9-2.6 1.7-2 0.5-1-0.1-1-0.4-1-0.8-1-1.2-1-1.6-2.9-6.5-1-1.4-1-0.5-1 0.3-1 0.9-4.2 6.2-2.4 2.9-3.1 2.8-2.9 2-2.4 0.7-2-0.1-2-0.7-3.9-2.4-1-0.4-1-0.1-1 0.1-1 0.3-2 1.5-3.6 3.9-2 1.9-2.4 1.7-2 1.1-4.6 2-21.3 8.1M587.5 314.4l-2-0.5-1-0.6-0.8-0.8-0.7-1-0.5-1.9 0.3-1.9 0.7-1.2 1-0.8 1-0.5 1-0.2 2 0.2 2 1.1 1.2 1.4 0.7 1.9-0.2 1.9-0.5 1-1 0.9-1.2 0.7zM478.9 338l3.4 1.3 3.3 0.9 8.2 1.8 7.5 1.1 12.5 1 15.9 0.6 19 0.4 48.8-0.8 22.9-1.2 3-0.3 2.8-0.7 3.2-1.3 2-1.3 1-0.9 1.4-2.2 0.3-1 0.2-1.9-0.4-1.9-1.5-2.7-1.7-2.1-6.2-6.7-1.9-2.9-0.6-1.9-0.1-2.8 1.8-8.7 0.5-3.8 0.1-2.9-0.2-3.8-0.4-2.9-0.4-1.9-1.1-2.9-0.8-1.3-0.6-0.6-1.4-0.8-1-0.2-4-0.1-2-0.5-1-0.5-2.1-1.7-4.8-4.9-2-1.8-2-1.1-1-0.1-1 0.2-1 0.6-1 0.9-2 2.7-1.5 2.5-4.9 9.6-1.8 4.8-1.1 3.8-0.3 2 0 0.9 0.4 1 1.2 0.9 3 1.6 2 1.6 1.3 1.6 0.8 1.9 0.1 1.9-0.6 2-0.6 0.9-1 0.9-1 0.6-2 0.5-2-0.1-2-0.6-1-0.7-1.7-1.5-0.6-1-1-1.9-1-2.9-0.7-1-0.9-0.6-2-0.4-2 0.1-8 1.9-8 0.7-2 0-2-0.4-1-0.5-4.9-3.2-2-0.3-2 0.5-7.7 4.2-5.3 2-2 0.4-2 0.2-5.9-0.3-3 0.6-2 0.9-4.6 2.9-3.5 1.9-19.7 7.7-4.4 1.9-4.7 2.4M523.8 343.1l13.9 0.6 12.9 0.3 27-0.6 17.9-0.8 8-0.5 15.9-1.8 3-0.5 2-0.6 2-0.9 1.4-0.9 0.9-1 0.7-1 0.3-0.9 0.1-1.9-0.3-1-1-1.9-2.1-2.4-3-2.6-7.9-5.5-1.9-2-0.7-0.9-0.8-1.9-0.1-1.9 0.5-2 2.4-5.7 0.8-2.9 0.3-2.8-0.6-2.9-0.9-1.9-1.4-1.9-6.6-6.8-3-2.3-2-1-1-0.1-1 0.2-1 0.5-1 0.8-1 1.2-1.9 3.6-1.3 3.9-0.8 3.8-0.1 3.8 0.4 1.9 2.2 4.8 0.5 1.9 0.1 1.9-0.5 2-0.6 0.9-1 1.1-2 1.4-3 0.7-3-0.2-2.7-1.1-5.2-3-3-0.7-3-0.2-7-0.1-8-0.4-3-0.5-4.9-1.7-2-0.2-2 0.2-2 0.5-7 2.4-5 1.4-3 0.5-6.9 0.9-3 0.7-10 4.4-14.9 6.1-4.2 2.2-2.7 1.9-1 1-0.6 0.9-0.2 1 0.1 0.9 0.5 1 1 0.9 1.6 1 2.5 1.1 5.9 1.8 8 1.6 9.2 1.2zM537.3 342.1l11.4 0.4 16.9-0.4 13.9-0.6 16-1 6-0.5 11.4-1.7 5-0.9 2.5-0.8 2-0.9 1-0.8 0.9-1.4 0.2-0.9-0.2-1-0.9-1.5-1.3-1.4-1.2-0.9-9.8-5.8-8.6-6-2-0.7-1-0.1-2 0.4-4 1.6-2 0.6-2 0.3-2 0-3-0.3-6-1.7-4.9-1-17-1.3-3-0.4-4.9-1.2-3 0.1-3 0.5-12 3-9.9 1.8-4 1.2-14.5 6.1-3.9 1.9-3.1 1.9-1.1 1-0.8 1-0.4 0.9 0 1 0.4 0.9 0.9 1 1.5 0.9 4 1.7 4.5 1.2 6.5 1.3 8 1.1 8.9 0.8zM601.1 302.9l0.4 0.4 1 0.1 0.7-0.5 0.7-1 0.6-1.7 0-1.3-0.6-1.8-0.4-0.8-1-0.8-1-0.1-0.9 0.8-0.7 1.9 0 1 0.2 1.9 0.4 1.1zM535.4 340.2l13.3 0.6 12.9-0.3 14-0.7 21.9-1.6 7-1.1 6.3-1.7 2.3-0.9 1.5-1 0.9-0.9 0.2-1-0.3-0.9-0.7-1-3.6-2.9-6.6-4-3-1.3-2-0.6-4-0.6-6 0-3-0.1-13.9-2.4-16-1.4-7.9-1.3-3 0.1-4 0.6-19 4.2-4.9 1.4-6.2 2.6-5.7 2.8-2.9 1.9-0.9 1-0.7 1-0.2 0.9 0.2 1 0.8 0.9 1.3 1 1.3 0.6 3.5 1.3 4.5 1.1 7 1.2 6.9 0.8zM534.4 338.3l13.3 0.7 11.9-0.3 15-0.7 17-1.6 6.8-1 3.7-0.9 2.3-1 1.3-0.9 0.7-1 0.1-0.9-0.3-1-0.7-1-2.4-1.9-3.6-1.7-3-0.8-12-1.7-13.9-2.5-14-1.4-6.9-0.9-2-0.1-3 0.2-4 0.7-11 2.5-6 1.4-3.9 1.2-3 1.2-3.7 1.9-2.5 1.9-0.8 1-0.4 1 0 0.9 0.5 1 1.1 0.9 2.8 1.3 3 0.9 4.9 1.1 6 0.8zM535.7 336.4l7 0.5 7 0.2 13.9-0.5 10-0.7 7.9-1 7.6-1.4 3.4-0.9 2-1 0.8-0.9-0.3-1-1.2-1-2.3-0.9-7.1-1.9-9.8-2.4-6-0.9-18.9-2.3-4 0.1-4 0.6-4.8 1-10.7 2.9-2.7 1-2.7 1.3-2.2 1.5-0.7 1-0.2 1 0.4 0.9 1 1 1.8 0.9 3 1 3.8 0.8zM541.2 334.5l6.5 0.3 5.9-0.1 7-0.3 9.1-0.9 4.9-0.9 2.4-1 1.1-0.9 0-1-0.9-1-1.7-0.9-2.7-1-4.1-0.9-6-1-13-1.6-5 0.2-2.8 0.5-3.9 0.9-5.7 1.9-1.9 1-1.4 0.9-0.6 1 0 1 0.8 0.9 1.9 1 3.5 0.9z" fill="none" stroke="#707070" stroke-width="0.4" stroke-opacity="0.9"/>
<rect x="478.9" y="203.3" width="198.3" height="171.4" fill="none" stroke="#000" stroke-width="0.9"/>
<line x1="478.9" y1="374.7" x2="478.9" y2="376.1" stroke="#000" stroke-width="0.9"/>
<line x1="493.1" y1="374.7" x2="493.1" y2="377.0" stroke="#000" stroke-width="0.9"/>
<text x="493.1" y="386.8" font-size="9.4" text-anchor="middle" fill="#000">2</text>
<line x1="507.2" y1="374.7" x2="507.2" y2="376.1" stroke="#000" stroke-width="0.9"/>
<line x1="521.4" y1="374.7" x2="521.4" y2="377.0" stroke="#000" stroke-width="0.9"/>
<text x="521.4" y="386.8" font-size="9.4" text-anchor="middle" fill="#000">4</text>
<line x1="535.6" y1="374.7" x2="535.6" y2="376.1" stroke="#000" stroke-width="0.9"/>
<line x1="549.7" y1="374.7" x2="549.7" y2="377.0" stroke="#000" stroke-width="0.9"/>
<text x="549.7" y="386.8" font-size="9.4" text-anchor="middle" fill="#000">6</text>
<line x1="563.9" y1="374.7" x2="563.9" y2="376.1" stroke="#000" stroke-width="0.9"/>
<line x1="578.0" y1="374.7" x2="578.0" y2="377.0" stroke="#000" stroke-width="0.9"/>
<text x="578.0" y="386.8" font-size="9.4" text-anchor="middle" fill="#000">8</text>
<line x1="592.2" y1="374.7" x2="592.2" y2="376.1" stroke="#000" stroke-width="0.9"/>
<line x1="606.4" y1="374.7" x2="606.4" y2="377.0" stroke="#000" stroke-width="0.9"/>
<text x="606.4" y="386.8" font-size="9.4" text-anchor="middle" fill="#000">10</text>
<line x1="620.5" y1="374.7" x2="620.5" y2="376.1" stroke="#000" stroke-width="0.9"/>
<line x1="634.7" y1="374.7" x2="634.7" y2="377.0" stroke="#000" stroke-width="0.9"/>
<text x="634.7" y="386.8" font-size="9.4" text-anchor="middle" fill="#000">12</text>
<line x1="648.9" y1="374.7" x2="648.9" y2="376.1" stroke="#000" stroke-width="0.9"/>
<line x1="663.0" y1="374.7" x2="663.0" y2="377.0" stroke="#000" stroke-width="0.9"/>
<text x="663.0" y="386.8" font-size="9.4" text-anchor="middle" fill="#000">14</text>
<line x1="677.2" y1="374.7" x2="677.2" y2="376.1" stroke="#000" stroke-width="0.9"/>
<line x1="476.6" y1="374.7" x2="478.9" y2="374.7" stroke="#000" stroke-width="0.9"/>
<text x="475.0" y="378.1" font-size="9.4" text-anchor="end" fill="#000">0</text>
<line x1="477.5" y1="360.4" x2="478.9" y2="360.4" stroke="#000" stroke-width="0.9"/>
<line x1="476.6" y1="346.1" x2="478.9" y2="346.1" stroke="#000" stroke-width="0.9"/>
<text x="475.0" y="349.5" font-size="9.4" text-anchor="end" fill="#000">1</text>
<line x1="477.5" y1="331.9" x2="478.9" y2="331.9" stroke="#000" stroke-width="0.9"/>
<line x1="476.6" y1="317.6" x2="478.9" y2="317.6" stroke="#000" stroke-width="0.9"/>
<text x="475.0" y="321.0" font-size="9.4" text-anchor="end" fill="#000">2</text>
<line x1="477.5" y1="303.3" x2="478.9" y2="303.3" stroke="#000" stroke-width="0.9"/>
<line x1="476.6" y1="289.0" x2="478.9" y2="289.0" stroke="#000" stroke-width="0.9"/>
<text x="475.0" y="292.4" font-size="9.4" text-anchor="end" fill="#000">3</text>
<line x1="477.5" y1="274.7" x2="478.9" y2="274.7" stroke="#000" stroke-width="0.9"/>
<line x1="476.6" y1="260.4" x2="478.9" y2="260.4" stroke="#000" stroke-width="0.9"/>
<text x="475.0" y="263.8" font-size="9.4" text-anchor="end" fill="#000">4</text>
<line x1="477.5" y1="246.2" x2="478.9" y2="246.2" stroke="#000" stroke-width="0.9"/>
<line x1="476.6" y1="231.9" x2="478.9" y2="231.9" stroke="#000" stroke-width="0.9"/>
<text x="475.0" y="235.3" font-size="9.4" text-anchor="end" fill="#000">5</text>
<line x1="477.5" y1="217.6" x2="478.9" y2="217.6" stroke="#000" stroke-width="0.9"/>
<line x1="476.6" y1="203.3" x2="478.9" y2="203.3" stroke="#000" stroke-width="0.9"/>
<text x="475.0" y="206.7" font-size="9.4" text-anchor="end" fill="#000">6</text>
<text x="454.6" y="202.8" font-size="19.5" fill="#000">f</text>
<text x="488.8" y="219.2" font-size="10.6" fill="#fff" textLength="110.5" lengthAdjust="spacingAndGlyphs">Bi<tspan baseline-shift="-22%" font-size="68%">1</tspan>-CeO<tspan baseline-shift="-22%" font-size="68%">2</tspan> Redispersion</text>
<text transform="translate(465.2 289.0) rotate(-90)" font-size="10.9" text-anchor="middle" fill="#000">R+α(Å)</text>
<text x="540.2" y="334.5" font-size="10.3" fill="#111" textLength="20.2" lengthAdjust="spacingAndGlyphs">Bi-O</text>
<text x="578.5" y="401.8" font-size="11.9" text-anchor="middle" fill="#000">K(Å<tspan dy="-3.6" font-size="62%">-1</tspan><tspan dy="3.6">)</tspan></text>
<defs>
<radialGradient id="gGreen" cx="0.36" cy="0.32" r="0.75"><stop offset="0" stop-color="#f6fdf9"/><stop offset="0.45" stop-color="#c2e7d6"/><stop offset="1" stop-color="#78aa95"/></radialGradient>
<radialGradient id="gYel" cx="0.38" cy="0.32" r="0.75"><stop offset="0" stop-color="#fbf7b0"/><stop offset="0.5" stop-color="#e6dc5c"/><stop offset="1" stop-color="#b3a93a"/></radialGradient>
<radialGradient id="gRed" cx="0.36" cy="0.30" r="0.8"><stop offset="0" stop-color="#ee7f88"/><stop offset="0.4" stop-color="#d24552"/><stop offset="1" stop-color="#9c2735"/></radialGradient>
<radialGradient id="gRedBig" cx="0.40" cy="0.34" r="0.75"><stop offset="0" stop-color="#de626c"/><stop offset="0.55" stop-color="#c63f4c"/><stop offset="1" stop-color="#9a2b38"/></radialGradient>
<radialGradient id="gBlue" cx="0.38" cy="0.32" r="0.78"><stop offset="0" stop-color="#7fc0ea"/><stop offset="0.5" stop-color="#3f8fca"/><stop offset="1" stop-color="#25609a"/></radialGradient>
<radialGradient id="gRedS" cx="0.38" cy="0.32" r="0.78"><stop offset="0" stop-color="#f58b84"/><stop offset="0.5" stop-color="#dd4343"/><stop offset="1" stop-color="#a32a2a"/></radialGradient>
<radialGradient id="gRing" cx="0.5" cy="0.5" r="0.5">
<stop offset="0" stop-color="#ffffff" stop-opacity="1"/><stop offset="0.54" stop-color="#f6fbfe" stop-opacity="1"/><stop offset="0.65" stop-color="#d0ebf8" stop-opacity="1"/>
<stop offset="0.75" stop-color="#afdff4" stop-opacity="1"/><stop offset="0.84" stop-color="#afdff4" stop-opacity="0.92"/><stop offset="0.93" stop-color="#c8e8f8" stop-opacity="0.55"/><stop offset="1" stop-color="#e4f4fc" stop-opacity="0"/></radialGradient>
<radialGradient id="gRing2" cx="0.5" cy="0.5" r="0.5">
<stop offset="0" stop-color="#ffffff" stop-opacity="1"/><stop offset="0.62" stop-color="#f6fbfe" stop-opacity="1"/><stop offset="0.70" stop-color="#d3ecf8" stop-opacity="1"/>
<stop offset="0.79" stop-color="#afdff4" stop-opacity="1"/><stop offset="0.87" stop-color="#afdff4" stop-opacity="0.92"/><stop offset="0.95" stop-color="#c8e8f8" stop-opacity="0.55"/><stop offset="1" stop-color="#e4f4fc" stop-opacity="0"/></radialGradient>
<linearGradient id="gBeam" x1="0" y1="0" x2="1" y2="0"><stop offset="0" stop-color="#a6d9f2" stop-opacity="0.9"/><stop offset="0.35" stop-color="#cde9f8" stop-opacity="0.8"/><stop offset="1" stop-color="#def1fa" stop-opacity="0.7"/></linearGradient>
<filter id="fBlur" x="-10%" y="-10%" width="120%" height="120%"><feGaussianBlur stdDeviation="0.8"/></filter>
<filter id="fSoft" x="-5%" y="-5%" width="110%" height="110%"><feGaussianBlur stdDeviation="0.35"/></filter>
</defs>
<text x="12.2" y="436.6" font-size="19.5" fill="#000">g</text>
<g transform="translate(0.0 0.0)">
<path d="M66.0 469.0 C92.3 470.0 101.8 459.9 113.8 453.9 L111.1 508.7 C97.5 499.7 84.0 485.5 66.0 480.5 Z" fill="url(#gBeam)" stroke="#a6d9f2" stroke-width="1.2" stroke-opacity="0.7" filter="url(#fBlur)"/>
<circle cx="135.0" cy="481.7" r="38.8" fill="url(#gRing)"/>
<circle cx="6.8" cy="480.4" r="3.08" fill="url(#gGreen)"/>
<circle cx="74.9" cy="481.3" r="3.08" fill="url(#gGreen)"/>
<circle cx="8.6" cy="478.5" r="3.11" fill="url(#gGreen)"/>
<circle cx="72.5" cy="478.9" r="3.10" fill="url(#gGreen)"/>
<circle cx="9.6" cy="482.9" r="3.17" fill="url(#gGreen)"/>
<circle cx="71.0" cy="482.9" r="3.15" fill="url(#gGreen)"/>
<circle cx="68.5" cy="480.5" r="3.17" fill="url(#gGreen)"/>
<circle cx="11.5" cy="481.0" r="3.21" fill="url(#gGreen)"/>
<circle cx="66.9" cy="484.6" r="3.21" fill="url(#gGreen)"/>
<circle cx="64.2" cy="482.2" r="3.23" fill="url(#gGreen)"/>
<circle cx="12.7" cy="485.8" r="3.27" fill="url(#gGreen)"/>
<circle cx="62.5" cy="486.5" r="3.28" fill="url(#gGreen)"/>
<circle cx="14.8" cy="483.8" r="3.32" fill="url(#gGreen)"/>
<circle cx="59.7" cy="484.0" r="3.31" fill="url(#gGreen)"/>
<circle cx="57.8" cy="488.5" r="3.36" fill="url(#gGreen)"/>
<circle cx="16.1" cy="488.9" r="3.39" fill="url(#gGreen)"/>
<circle cx="54.8" cy="485.9" r="3.38" fill="url(#gGreen)"/>
<circle cx="18.4" cy="486.9" r="3.44" fill="url(#gGreen)"/>
<circle cx="52.8" cy="490.6" r="3.44" fill="url(#gGreen)"/>
<circle cx="49.7" cy="487.9" r="3.46" fill="url(#gGreen)"/>
<circle cx="19.8" cy="492.3" r="3.51" fill="url(#gGreen)"/>
<circle cx="47.5" cy="492.8" r="3.52" fill="url(#gGreen)"/>
<circle cx="44.3" cy="490.1" r="3.55" fill="url(#gGreen)"/>
<circle cx="22.3" cy="490.3" r="3.57" fill="url(#gGreen)"/>
<circle cx="41.9" cy="495.1" r="3.61" fill="url(#gGreen)"/>
<circle cx="23.9" cy="496.0" r="3.65" fill="url(#gGreen)"/>
<circle cx="38.6" cy="492.3" r="3.64" fill="url(#gGreen)"/>
<circle cx="36.1" cy="497.6" r="3.70" fill="url(#gGreen)"/>
<circle cx="26.5" cy="493.9" r="3.71" fill="url(#gGreen)"/>
<circle cx="32.7" cy="494.7" r="3.74" fill="url(#gGreen)"/>
<circle cx="28.7" cy="495.8" r="3.78" fill="url(#gGreen)"/>
<circle cx="29.6" cy="496.0" r="3.79" fill="url(#gGreen)"/>
<circle cx="28.2" cy="499.9" r="3.79" fill="url(#gGreen)"/>
<circle cx="29.9" cy="500.2" r="3.80" fill="url(#gGreen)"/>
<circle cx="42.3" cy="466.2" r="2.30" fill="url(#gGreen)"/>
<circle cx="39.3" cy="466.9" r="2.36" fill="url(#gGreen)"/>
<circle cx="46.4" cy="467.3" r="2.39" fill="url(#gGreen)"/>
<circle cx="36.1" cy="467.6" r="2.42" fill="url(#gGreen)"/>
<circle cx="43.3" cy="468.1" r="2.45" fill="url(#gGreen)"/>
<circle cx="32.7" cy="468.4" r="2.49" fill="url(#gGreen)"/>
<circle cx="51.0" cy="468.6" r="2.49" fill="url(#gGreen)"/>
<circle cx="40.0" cy="469.0" r="2.52" fill="url(#gGreen)"/>
<circle cx="29.1" cy="469.2" r="2.57" fill="url(#gGreen)"/>
<circle cx="47.8" cy="469.5" r="2.55" fill="url(#gGreen)"/>
<circle cx="36.5" cy="469.9" r="2.58" fill="url(#gGreen)"/>
<circle cx="56.0" cy="470.0" r="2.60" fill="url(#gGreen)"/>
<circle cx="25.2" cy="470.1" r="2.64" fill="url(#gGreen)"/>
<circle cx="44.3" cy="470.5" r="2.62" fill="url(#gGreen)"/>
<circle cx="32.7" cy="470.8" r="2.66" fill="url(#gGreen)"/>
<circle cx="52.7" cy="471.0" r="2.66" fill="url(#gGreen)"/>
<circle cx="21.2" cy="471.1" r="2.73" fill="url(#gGreen)"/>
<circle cx="40.7" cy="471.5" r="2.69" fill="url(#gGreen)"/>
<circle cx="61.5" cy="471.6" r="2.73" fill="url(#gGreen)"/>
<circle cx="28.7" cy="471.8" r="2.74" fill="url(#gGreen)"/>
<circle cx="16.9" cy="472.1" r="2.81" fill="url(#gGreen)"/>
<circle cx="49.1" cy="472.1" r="2.73" fill="url(#gGreen)"/>
<circle cx="36.7" cy="472.6" r="2.76" fill="url(#gGreen)"/>
<circle cx="58.0" cy="472.7" r="2.79" fill="url(#gGreen)"/>
<circle cx="24.5" cy="472.9" r="2.82" fill="url(#gGreen)"/>
<circle cx="12.3" cy="473.1" r="2.90" fill="url(#gGreen)"/>
<circle cx="67.4" cy="473.2" r="2.86" fill="url(#gGreen)"/>
<circle cx="45.3" cy="473.3" r="2.80" fill="url(#gGreen)"/>
<circle cx="32.6" cy="473.8" r="2.84" fill="url(#gGreen)"/>
<circle cx="54.3" cy="473.9" r="2.85" fill="url(#gGreen)"/>
<circle cx="20.0" cy="474.1" r="2.90" fill="url(#gGreen)"/>
<circle cx="7.6" cy="474.2" r="3.00" fill="url(#gGreen)"/>
<circle cx="63.8" cy="474.5" r="2.92" fill="url(#gGreen)"/>
<circle cx="41.2" cy="474.5" r="2.87" fill="url(#gGreen)"/>
<circle cx="28.2" cy="475.0" r="2.92" fill="url(#gGreen)"/>
<circle cx="73.8" cy="475.0" r="3.00" fill="url(#gGreen)"/>
<circle cx="50.3" cy="475.2" r="2.92" fill="url(#gGreen)"/>
<circle cx="15.3" cy="475.2" r="3.00" fill="url(#gGreen)"/>
<circle cx="36.8" cy="475.8" r="2.95" fill="url(#gGreen)"/>
<circle cx="59.9" cy="475.9" r="2.98" fill="url(#gGreen)"/>
<circle cx="23.6" cy="476.3" r="3.01" fill="url(#gGreen)"/>
<circle cx="70.0" cy="476.4" r="3.06" fill="url(#gGreen)"/>
<circle cx="10.4" cy="476.5" r="3.09" fill="url(#gGreen)"/>
<circle cx="46.0" cy="476.6" r="2.99" fill="url(#gGreen)"/>
<circle cx="32.3" cy="477.2" r="3.03" fill="url(#gGreen)"/>
<circle cx="55.7" cy="477.4" r="3.05" fill="url(#gGreen)"/>
<circle cx="18.7" cy="477.6" r="3.10" fill="url(#gGreen)"/>
<circle cx="65.9" cy="478.0" r="3.12" fill="url(#gGreen)"/>
<circle cx="41.5" cy="478.1" r="3.07" fill="url(#gGreen)"/>
<circle cx="27.4" cy="478.7" r="3.12" fill="url(#gGreen)"/>
<circle cx="51.2" cy="478.9" r="3.12" fill="url(#gGreen)"/>
<circle cx="13.6" cy="479.1" r="3.19" fill="url(#gGreen)"/>
<circle cx="61.5" cy="479.6" r="3.19" fill="url(#gGreen)"/>
<circle cx="36.7" cy="479.7" r="3.15" fill="url(#gGreen)"/>
<circle cx="22.3" cy="480.2" r="3.21" fill="url(#gGreen)"/>
<circle cx="46.5" cy="480.6" r="3.20" fill="url(#gGreen)"/>
<circle cx="31.6" cy="481.4" r="3.24" fill="url(#gGreen)"/>
<circle cx="56.8" cy="481.4" r="3.27" fill="url(#gGreen)"/>
<circle cx="17.0" cy="481.9" r="3.30" fill="url(#gGreen)"/>
<circle cx="41.5" cy="482.4" r="3.28" fill="url(#gGreen)"/>
<circle cx="26.3" cy="483.1" r="3.33" fill="url(#gGreen)"/>
<circle cx="51.9" cy="483.3" r="3.34" fill="url(#gGreen)"/>
<circle cx="36.2" cy="484.2" r="3.37" fill="url(#gGreen)"/>
<circle cx="20.8" cy="484.9" r="3.43" fill="url(#gGreen)"/>
<circle cx="46.6" cy="485.2" r="3.43" fill="url(#gGreen)"/>
<circle cx="30.6" cy="486.2" r="3.46" fill="url(#gGreen)"/>
<circle cx="41.1" cy="487.3" r="3.51" fill="url(#gGreen)"/>
<circle cx="24.8" cy="488.2" r="3.56" fill="url(#gGreen)"/>
<circle cx="35.3" cy="489.5" r="3.60" fill="url(#gGreen)"/>
<circle cx="29.2" cy="491.8" r="3.70" fill="url(#gGreen)"/>
<circle cx="41.8" cy="465.5" r="1.01" fill="url(#gYel)"/>
<circle cx="43.8" cy="466.1" r="1.03" fill="url(#gYel)"/>
<circle cx="46.0" cy="466.7" r="1.05" fill="url(#gYel)"/>
<circle cx="35.4" cy="467.0" r="1.07" fill="url(#gYel)"/>
<circle cx="48.2" cy="467.3" r="1.07" fill="url(#gYel)"/>
<circle cx="37.3" cy="467.6" r="1.09" fill="url(#gYel)"/>
<circle cx="50.6" cy="468.0" r="1.10" fill="url(#gYel)"/>
<circle cx="39.3" cy="468.4" r="1.11" fill="url(#gYel)"/>
<circle cx="28.1" cy="468.6" r="1.13" fill="url(#gYel)"/>
<circle cx="53.1" cy="468.7" r="1.12" fill="url(#gYel)"/>
<circle cx="41.4" cy="469.1" r="1.13" fill="url(#gYel)"/>
<circle cx="29.8" cy="469.4" r="1.15" fill="url(#gYel)"/>
<circle cx="55.7" cy="469.4" r="1.15" fill="url(#gYel)"/>
<circle cx="43.7" cy="469.9" r="1.15" fill="url(#gYel)"/>
<circle cx="58.4" cy="470.2" r="1.17" fill="url(#gYel)"/>
<circle cx="31.7" cy="470.3" r="1.17" fill="url(#gYel)"/>
<circle cx="19.8" cy="470.5" r="1.20" fill="url(#gYel)"/>
<circle cx="46.0" cy="470.7" r="1.18" fill="url(#gYel)"/>
<circle cx="61.2" cy="471.0" r="1.20" fill="url(#gYel)"/>
<circle cx="33.7" cy="471.1" r="1.19" fill="url(#gYel)"/>
<circle cx="21.4" cy="471.4" r="1.22" fill="url(#gYel)"/>
<circle cx="48.4" cy="471.6" r="1.20" fill="url(#gYel)"/>
<circle cx="64.1" cy="471.8" r="1.23" fill="url(#gYel)"/>
<circle cx="35.7" cy="472.1" r="1.21" fill="url(#gYel)"/>
<circle cx="23.2" cy="472.4" r="1.24" fill="url(#gYel)"/>
<circle cx="51.0" cy="472.5" r="1.23" fill="url(#gYel)"/>
<circle cx="10.7" cy="472.5" r="1.28" fill="url(#gYel)"/>
<circle cx="67.2" cy="472.7" r="1.26" fill="url(#gYel)"/>
<circle cx="37.9" cy="473.0" r="1.24" fill="url(#gYel)"/>
<circle cx="25.0" cy="473.4" r="1.26" fill="url(#gYel)"/>
<circle cx="53.6" cy="473.4" r="1.25" fill="url(#gYel)"/>
<circle cx="70.3" cy="473.6" r="1.29" fill="url(#gYel)"/>
<circle cx="12.2" cy="473.6" r="1.30" fill="url(#gYel)"/>
<circle cx="40.2" cy="474.1" r="1.26" fill="url(#gYel)"/>
<circle cx="56.4" cy="474.4" r="1.28" fill="url(#gYel)"/>
<circle cx="26.9" cy="474.5" r="1.29" fill="url(#gYel)"/>
<circle cx="13.7" cy="474.7" r="1.32" fill="url(#gYel)"/>
<circle cx="42.5" cy="475.1" r="1.29" fill="url(#gYel)"/>
<circle cx="59.2" cy="475.4" r="1.31" fill="url(#gYel)"/>
<circle cx="28.8" cy="475.7" r="1.31" fill="url(#gYel)"/>
<circle cx="15.3" cy="475.9" r="1.34" fill="url(#gYel)"/>
<circle cx="45.0" cy="476.2" r="1.32" fill="url(#gYel)"/>
<circle cx="62.2" cy="476.5" r="1.34" fill="url(#gYel)"/>
<circle cx="30.9" cy="476.8" r="1.33" fill="url(#gYel)"/>
<circle cx="17.0" cy="477.2" r="1.36" fill="url(#gYel)"/>
<circle cx="47.6" cy="477.4" r="1.35" fill="url(#gYel)"/>
<circle cx="33.1" cy="478.1" r="1.36" fill="url(#gYel)"/>
<circle cx="18.8" cy="478.5" r="1.39" fill="url(#gYel)"/>
<circle cx="50.2" cy="478.6" r="1.37" fill="url(#gYel)"/>
<circle cx="35.3" cy="479.4" r="1.39" fill="url(#gYel)"/>
<circle cx="53.0" cy="479.8" r="1.41" fill="url(#gYel)"/>
<circle cx="20.6" cy="479.9" r="1.41" fill="url(#gYel)"/>
<circle cx="37.7" cy="480.7" r="1.42" fill="url(#gYel)"/>
<circle cx="22.6" cy="481.4" r="1.44" fill="url(#gYel)"/>
<circle cx="40.1" cy="482.1" r="1.45" fill="url(#gYel)"/>
<circle cx="24.6" cy="482.9" r="1.47" fill="url(#gYel)"/>
<circle cx="42.6" cy="483.6" r="1.48" fill="url(#gYel)"/>
<circle cx="26.7" cy="484.4" r="1.49" fill="url(#gYel)"/>
<circle cx="28.9" cy="486.1" r="1.52" fill="url(#gYel)"/>
<circle cx="31.1" cy="487.7" r="1.55" fill="url(#gYel)"/>
<path d="M43.0 466.1 A3.70 3.70 0 1 1 49.8 466.1 A4.44 1.85 0 0 1 43.0 466.1 Z" fill="url(#gRed)"/>
<path d="M36.8 470.2 A4.10 4.10 0 1 1 44.4 470.2 A4.92 2.05 0 0 1 36.8 470.2 Z" fill="url(#gRed)"/>
<path d="M55.5 470.1 A3.90 3.90 0 1 1 62.7 470.1 A4.68 1.95 0 0 1 55.5 470.1 Z" fill="url(#gRed)"/>
<path d="M15.7 471.7 A4.30 4.30 0 1 1 23.7 471.7 A5.16 2.15 0 0 1 15.7 471.7 Z" fill="url(#gRed)"/>
<path d="M27.1 477.7 A4.70 4.70 0 1 1 35.7 477.7 A5.64 2.35 0 0 1 27.1 477.7 Z" fill="url(#gRed)"/>
<path d="M58 468 L78 470 L78 482 L66 481 Z" fill="#9ed6f1" opacity="0.35" filter="url(#fBlur)"/>
<circle cx="135.0" cy="481.7" r="13.40" fill="url(#gRedBig)"/>
<text x="135.8" y="485.8" font-size="12" font-weight="bold" text-anchor="middle" fill="#fff" font-family="&quot;Liberation Serif&quot;, &quot;Times New Roman&quot;, serif">Bi<tspan baseline-shift="-25%" font-size="65%">1</tspan></text>
</g>
<g transform="translate(506.3 2.2)">
<path d="M66.0 469.0 C92.3 470.0 101.8 459.9 113.8 453.9 L111.1 508.7 C97.5 499.7 84.0 485.5 66.0 480.5 Z" fill="url(#gBeam)" stroke="#a6d9f2" stroke-width="1.2" stroke-opacity="0.7" filter="url(#fBlur)"/>
<circle cx="135.0" cy="481.7" r="38.8" fill="url(#gRing)"/>
<circle cx="6.8" cy="480.4" r="3.08" fill="url(#gGreen)"/>
<circle cx="74.9" cy="481.3" r="3.08" fill="url(#gGreen)"/>
<circle cx="8.6" cy="478.5" r="3.11" fill="url(#gGreen)"/>
<circle cx="72.5" cy="478.9" r="3.10" fill="url(#gGreen)"/>
<circle cx="9.6" cy="482.9" r="3.17" fill="url(#gGreen)"/>
<circle cx="71.0" cy="482.9" r="3.15" fill="url(#gGreen)"/>
<circle cx="68.5" cy="480.5" r="3.17" fill="url(#gGreen)"/>
<circle cx="11.5" cy="481.0" r="3.21" fill="url(#gGreen)"/>
<circle cx="66.9" cy="484.6" r="3.21" fill="url(#gGreen)"/>
<circle cx="64.2" cy="482.2" r="3.23" fill="url(#gGreen)"/>
<circle cx="12.7" cy="485.8" r="3.27" fill="url(#gGreen)"/>
<circle cx="62.5" cy="486.5" r="3.28" fill="url(#gGreen)"/>
<circle cx="14.8" cy="483.8" r="3.32" fill="url(#gGreen)"/>
<circle cx="59.7" cy="484.0" r="3.31" fill="url(#gGreen)"/>
<circle cx="57.8" cy="488.5" r="3.36" fill="url(#gGreen)"/>
<circle cx="16.1" cy="488.9" r="3.39" fill="url(#gGreen)"/>
<circle cx="54.8" cy="485.9" r="3.38" fill="url(#gGreen)"/>
<circle cx="18.4" cy="486.9" r="3.44" fill="url(#gGreen)"/>
<circle cx="52.8" cy="490.6" r="3.44" fill="url(#gGreen)"/>
<circle cx="49.7" cy="487.9" r="3.46" fill="url(#gGreen)"/>
<circle cx="19.8" cy="492.3" r="3.51" fill="url(#gGreen)"/>
<circle cx="47.5" cy="492.8" r="3.52" fill="url(#gGreen)"/>
<circle cx="44.3" cy="490.1" r="3.55" fill="url(#gGreen)"/>
<circle cx="22.3" cy="490.3" r="3.57" fill="url(#gGreen)"/>
<circle cx="41.9" cy="495.1" r="3.61" fill="url(#gGreen)"/>
<circle cx="23.9" cy="496.0" r="3.65" fill="url(#gGreen)"/>
<circle cx="38.6" cy="492.3" r="3.64" fill="url(#gGreen)"/>
<circle cx="36.1" cy="497.6" r="3.70" fill="url(#gGreen)"/>
<circle cx="26.5" cy="493.9" r="3.71" fill="url(#gGreen)"/>
<circle cx="32.7" cy="494.7" r="3.74" fill="url(#gGreen)"/>
<circle cx="28.7" cy="495.8" r="3.78" fill="url(#gGreen)"/>
<circle cx="29.6" cy="496.0" r="3.79" fill="url(#gGreen)"/>
<circle cx="28.2" cy="499.9" r="3.79" fill="url(#gGreen)"/>
<circle cx="29.9" cy="500.2" r="3.80" fill="url(#gGreen)"/>
<circle cx="42.3" cy="466.2" r="2.30" fill="url(#gGreen)"/>
<circle cx="39.3" cy="466.9" r="2.36" fill="url(#gGreen)"/>
<circle cx="46.4" cy="467.3" r="2.39" fill="url(#gGreen)"/>
<circle cx="36.1" cy="467.6" r="2.42" fill="url(#gGreen)"/>
<circle cx="43.3" cy="468.1" r="2.45" fill="url(#gGreen)"/>
<circle cx="32.7" cy="468.4" r="2.49" fill="url(#gGreen)"/>
<circle cx="51.0" cy="468.6" r="2.49" fill="url(#gGreen)"/>
<circle cx="40.0" cy="469.0" r="2.52" fill="url(#gGreen)"/>
<circle cx="29.1" cy="469.2" r="2.57" fill="url(#gGreen)"/>
<circle cx="47.8" cy="469.5" r="2.55" fill="url(#gGreen)"/>
<circle cx="36.5" cy="469.9" r="2.58" fill="url(#gGreen)"/>
<circle cx="56.0" cy="470.0" r="2.60" fill="url(#gGreen)"/>
<circle cx="25.2" cy="470.1" r="2.64" fill="url(#gGreen)"/>
<circle cx="44.3" cy="470.5" r="2.62" fill="url(#gGreen)"/>
<circle cx="32.7" cy="470.8" r="2.66" fill="url(#gGreen)"/>
<circle cx="52.7" cy="471.0" r="2.66" fill="url(#gGreen)"/>
<circle cx="21.2" cy="471.1" r="2.73" fill="url(#gGreen)"/>
<circle cx="40.7" cy="471.5" r="2.69" fill="url(#gGreen)"/>
<circle cx="61.5" cy="471.6" r="2.73" fill="url(#gGreen)"/>
<circle cx="28.7" cy="471.8" r="2.74" fill="url(#gGreen)"/>
<circle cx="16.9" cy="472.1" r="2.81" fill="url(#gGreen)"/>
<circle cx="49.1" cy="472.1" r="2.73" fill="url(#gGreen)"/>
<circle cx="36.7" cy="472.6" r="2.76" fill="url(#gGreen)"/>
<circle cx="58.0" cy="472.7" r="2.79" fill="url(#gGreen)"/>
<circle cx="24.5" cy="472.9" r="2.82" fill="url(#gGreen)"/>
<circle cx="12.3" cy="473.1" r="2.90" fill="url(#gGreen)"/>
<circle cx="67.4" cy="473.2" r="2.86" fill="url(#gGreen)"/>
<circle cx="45.3" cy="473.3" r="2.80" fill="url(#gGreen)"/>
<circle cx="32.6" cy="473.8" r="2.84" fill="url(#gGreen)"/>
<circle cx="54.3" cy="473.9" r="2.85" fill="url(#gGreen)"/>
<circle cx="20.0" cy="474.1" r="2.90" fill="url(#gGreen)"/>
<circle cx="7.6" cy="474.2" r="3.00" fill="url(#gGreen)"/>
<circle cx="63.8" cy="474.5" r="2.92" fill="url(#gGreen)"/>
<circle cx="41.2" cy="474.5" r="2.87" fill="url(#gGreen)"/>
<circle cx="28.2" cy="475.0" r="2.92" fill="url(#gGreen)"/>
<circle cx="73.8" cy="475.0" r="3.00" fill="url(#gGreen)"/>
<circle cx="50.3" cy="475.2" r="2.92" fill="url(#gGreen)"/>
<circle cx="15.3" cy="475.2" r="3.00" fill="url(#gGreen)"/>
<circle cx="36.8" cy="475.8" r="2.95" fill="url(#gGreen)"/>
<circle cx="59.9" cy="475.9" r="2.98" fill="url(#gGreen)"/>
<circle cx="23.6" cy="476.3" r="3.01" fill="url(#gGreen)"/>
<circle cx="70.0" cy="476.4" r="3.06" fill="url(#gGreen)"/>
<circle cx="10.4" cy="476.5" r="3.09" fill="url(#gGreen)"/>
<circle cx="46.0" cy="476.6" r="2.99" fill="url(#gGreen)"/>
<circle cx="32.3" cy="477.2" r="3.03" fill="url(#gGreen)"/>
<circle cx="55.7" cy="477.4" r="3.05" fill="url(#gGreen)"/>
<circle cx="18.7" cy="477.6" r="3.10" fill="url(#gGreen)"/>
<circle cx="65.9" cy="478.0" r="3.12" fill="url(#gGreen)"/>
<circle cx="41.5" cy="478.1" r="3.07" fill="url(#gGreen)"/>
<circle cx="27.4" cy="478.7" r="3.12" fill="url(#gGreen)"/>
<circle cx="51.2" cy="478.9" r="3.12" fill="url(#gGreen)"/>
<circle cx="13.6" cy="479.1" r="3.19" fill="url(#gGreen)"/>
<circle cx="61.5" cy="479.6" r="3.19" fill="url(#gGreen)"/>
<circle cx="36.7" cy="479.7" r="3.15" fill="url(#gGreen)"/>
<circle cx="22.3" cy="480.2" r="3.21" fill="url(#gGreen)"/>
<circle cx="46.5" cy="480.6" r="3.20" fill="url(#gGreen)"/>
<circle cx="31.6" cy="481.4" r="3.24" fill="url(#gGreen)"/>
<circle cx="56.8" cy="481.4" r="3.27" fill="url(#gGreen)"/>
<circle cx="17.0" cy="481.9" r="3.30" fill="url(#gGreen)"/>
<circle cx="41.5" cy="482.4" r="3.28" fill="url(#gGreen)"/>
<circle cx="26.3" cy="483.1" r="3.33" fill="url(#gGreen)"/>
<circle cx="51.9" cy="483.3" r="3.34" fill="url(#gGreen)"/>
<circle cx="36.2" cy="484.2" r="3.37" fill="url(#gGreen)"/>
<circle cx="20.8" cy="484.9" r="3.43" fill="url(#gGreen)"/>
<circle cx="46.6" cy="485.2" r="3.43" fill="url(#gGreen)"/>
<circle cx="30.6" cy="486.2" r="3.46" fill="url(#gGreen)"/>
<circle cx="41.1" cy="487.3" r="3.51" fill="url(#gGreen)"/>
<circle cx="24.8" cy="488.2" r="3.56" fill="url(#gGreen)"/>
<circle cx="35.3" cy="489.5" r="3.60" fill="url(#gGreen)"/>
<circle cx="29.2" cy="491.8" r="3.70" fill="url(#gGreen)"/>
<circle cx="41.8" cy="465.5" r="1.01" fill="url(#gYel)"/>
<circle cx="43.8" cy="466.1" r="1.03" fill="url(#gYel)"/>
<circle cx="46.0" cy="466.7" r="1.05" fill="url(#gYel)"/>
<circle cx="35.4" cy="467.0" r="1.07" fill="url(#gYel)"/>
<circle cx="48.2" cy="467.3" r="1.07" fill="url(#gYel)"/>
<circle cx="37.3" cy="467.6" r="1.09" fill="url(#gYel)"/>
<circle cx="50.6" cy="468.0" r="1.10" fill="url(#gYel)"/>
<circle cx="39.3" cy="468.4" r="1.11" fill="url(#gYel)"/>
<circle cx="28.1" cy="468.6" r="1.13" fill="url(#gYel)"/>
<circle cx="53.1" cy="468.7" r="1.12" fill="url(#gYel)"/>
<circle cx="41.4" cy="469.1" r="1.13" fill="url(#gYel)"/>
<circle cx="29.8" cy="469.4" r="1.15" fill="url(#gYel)"/>
<circle cx="55.7" cy="469.4" r="1.15" fill="url(#gYel)"/>
<circle cx="43.7" cy="469.9" r="1.15" fill="url(#gYel)"/>
<circle cx="58.4" cy="470.2" r="1.17" fill="url(#gYel)"/>
<circle cx="31.7" cy="470.3" r="1.17" fill="url(#gYel)"/>
<circle cx="19.8" cy="470.5" r="1.20" fill="url(#gYel)"/>
<circle cx="46.0" cy="470.7" r="1.18" fill="url(#gYel)"/>
<circle cx="61.2" cy="471.0" r="1.20" fill="url(#gYel)"/>
<circle cx="33.7" cy="471.1" r="1.19" fill="url(#gYel)"/>
<circle cx="21.4" cy="471.4" r="1.22" fill="url(#gYel)"/>
<circle cx="48.4" cy="471.6" r="1.20" fill="url(#gYel)"/>
<circle cx="64.1" cy="471.8" r="1.23" fill="url(#gYel)"/>
<circle cx="35.7" cy="472.1" r="1.21" fill="url(#gYel)"/>
<circle cx="23.2" cy="472.4" r="1.24" fill="url(#gYel)"/>
<circle cx="51.0" cy="472.5" r="1.23" fill="url(#gYel)"/>
<circle cx="10.7" cy="472.5" r="1.28" fill="url(#gYel)"/>
<circle cx="67.2" cy="472.7" r="1.26" fill="url(#gYel)"/>
<circle cx="37.9" cy="473.0" r="1.24" fill="url(#gYel)"/>
<circle cx="25.0" cy="473.4" r="1.26" fill="url(#gYel)"/>
<circle cx="53.6" cy="473.4" r="1.25" fill="url(#gYel)"/>
<circle cx="70.3" cy="473.6" r="1.29" fill="url(#gYel)"/>
<circle cx="12.2" cy="473.6" r="1.30" fill="url(#gYel)"/>
<circle cx="40.2" cy="474.1" r="1.26" fill="url(#gYel)"/>
<circle cx="56.4" cy="474.4" r="1.28" fill="url(#gYel)"/>
<circle cx="26.9" cy="474.5" r="1.29" fill="url(#gYel)"/>
<circle cx="13.7" cy="474.7" r="1.32" fill="url(#gYel)"/>
<circle cx="42.5" cy="475.1" r="1.29" fill="url(#gYel)"/>
<circle cx="59.2" cy="475.4" r="1.31" fill="url(#gYel)"/>
<circle cx="28.8" cy="475.7" r="1.31" fill="url(#gYel)"/>
<circle cx="15.3" cy="475.9" r="1.34" fill="url(#gYel)"/>
<circle cx="45.0" cy="476.2" r="1.32" fill="url(#gYel)"/>
<circle cx="62.2" cy="476.5" r="1.34" fill="url(#gYel)"/>
<circle cx="30.9" cy="476.8" r="1.33" fill="url(#gYel)"/>
<circle cx="17.0" cy="477.2" r="1.36" fill="url(#gYel)"/>
<circle cx="47.6" cy="477.4" r="1.35" fill="url(#gYel)"/>
<circle cx="33.1" cy="478.1" r="1.36" fill="url(#gYel)"/>
<circle cx="18.8" cy="478.5" r="1.39" fill="url(#gYel)"/>
<circle cx="50.2" cy="478.6" r="1.37" fill="url(#gYel)"/>
<circle cx="35.3" cy="479.4" r="1.39" fill="url(#gYel)"/>
<circle cx="53.0" cy="479.8" r="1.41" fill="url(#gYel)"/>
<circle cx="20.6" cy="479.9" r="1.41" fill="url(#gYel)"/>
<circle cx="37.7" cy="480.7" r="1.42" fill="url(#gYel)"/>
<circle cx="22.6" cy="481.4" r="1.44" fill="url(#gYel)"/>
<circle cx="40.1" cy="482.1" r="1.45" fill="url(#gYel)"/>
<circle cx="24.6" cy="482.9" r="1.47" fill="url(#gYel)"/>
<circle cx="42.6" cy="483.6" r="1.48" fill="url(#gYel)"/>
<circle cx="26.7" cy="484.4" r="1.49" fill="url(#gYel)"/>
<circle cx="28.9" cy="486.1" r="1.52" fill="url(#gYel)"/>
<circle cx="31.1" cy="487.7" r="1.55" fill="url(#gYel)"/>
<path d="M43.0 466.1 A3.70 3.70 0 1 1 49.8 466.1 A4.44 1.85 0 0 1 43.0 466.1 Z" fill="url(#gRed)"/>
<path d="M36.8 470.2 A4.10 4.10 0 1 1 44.4 470.2 A4.92 2.05 0 0 1 36.8 470.2 Z" fill="url(#gRed)"/>
<path d="M55.5 470.1 A3.90 3.90 0 1 1 62.7 470.1 A4.68 1.95 0 0 1 55.5 470.1 Z" fill="url(#gRed)"/>
<path d="M15.7 471.7 A4.30 4.30 0 1 1 23.7 471.7 A5.16 2.15 0 0 1 15.7 471.7 Z" fill="url(#gRed)"/>
<path d="M27.1 477.7 A4.70 4.70 0 1 1 35.7 477.7 A5.64 2.35 0 0 1 27.1 477.7 Z" fill="url(#gRed)"/>
<path d="M58 468 L78 470 L78 482 L66 481 Z" fill="#9ed6f1" opacity="0.35" filter="url(#fBlur)"/>
<circle cx="135.0" cy="481.7" r="13.40" fill="url(#gRedBig)"/>
<text x="135.8" y="485.8" font-size="12" font-weight="bold" text-anchor="middle" fill="#fff" font-family="&quot;Liberation Serif&quot;, &quot;Times New Roman&quot;, serif">Bi<tspan baseline-shift="-25%" font-size="65%">1</tspan></text>
</g>
<path d="M200.1 477.3 L234.2 474.8 L234.2 470.4 L242.9 478.8 L234.2 486.8 L234.2 481.8 Z" fill="#3a8f85"/>
<path d="M455.5 478.0 L489.1 476.0 L489.1 471.2 L498.2 479.6 L489.1 488.2 L489.1 482.8 Z" fill="#3a8f85"/>
<text x="169.1" y="463.9" font-size="10.3" fill="#111" textLength="111.3" lengthAdjust="spacingAndGlyphs">Lattice oxygen activation</text>
<text x="439.5" y="464.9" font-size="10.3" fill="#111" textLength="78.6" lengthAdjust="spacingAndGlyphs">Thermal treatment</text>
<path d="M322.0 476.5 C356.0 477.5 368.3 460.7 383.7 454.7 L381.0 510.7 C363.3 501.7 345.6 494.5 322.0 489.5 Z" fill="url(#gBeam)" stroke="#a6d9f2" stroke-width="1.2" stroke-opacity="0.7" filter="url(#fBlur)"/>
<circle cx="405.4" cy="483.1" r="39.8" fill="url(#gRing2)"/>
<circle cx="255.3" cy="487.0" r="2.82" fill="url(#gGreen)"/>
<circle cx="256.9" cy="485.1" r="2.85" fill="url(#gGreen)"/>
<circle cx="257.9" cy="489.5" r="2.89" fill="url(#gGreen)"/>
<circle cx="332.6" cy="490.2" r="2.82" fill="url(#gGreen)"/>
<circle cx="259.7" cy="487.6" r="2.92" fill="url(#gGreen)"/>
<circle cx="330.3" cy="487.7" r="2.84" fill="url(#gGreen)"/>
<circle cx="329.0" cy="491.5" r="2.87" fill="url(#gGreen)"/>
<circle cx="260.7" cy="492.2" r="2.97" fill="url(#gGreen)"/>
<circle cx="326.5" cy="489.0" r="2.88" fill="url(#gGreen)"/>
<circle cx="325.1" cy="492.9" r="2.92" fill="url(#gGreen)"/>
<circle cx="262.6" cy="490.4" r="3.01" fill="url(#gGreen)"/>
<circle cx="322.6" cy="490.4" r="2.94" fill="url(#gGreen)"/>
<circle cx="321.0" cy="494.5" r="2.97" fill="url(#gGreen)"/>
<circle cx="263.8" cy="495.1" r="3.06" fill="url(#gGreen)"/>
<circle cx="318.4" cy="491.9" r="2.99" fill="url(#gGreen)"/>
<circle cx="316.7" cy="496.1" r="3.03" fill="url(#gGreen)"/>
<circle cx="265.8" cy="493.3" r="3.10" fill="url(#gGreen)"/>
<circle cx="314.0" cy="493.5" r="3.04" fill="url(#gGreen)"/>
<circle cx="312.2" cy="497.8" r="3.08" fill="url(#gGreen)"/>
<circle cx="267.1" cy="498.3" r="3.15" fill="url(#gGreen)"/>
<circle cx="309.3" cy="495.1" r="3.10" fill="url(#gGreen)"/>
<circle cx="307.4" cy="499.5" r="3.14" fill="url(#gGreen)"/>
<circle cx="269.3" cy="496.5" r="3.20" fill="url(#gGreen)"/>
<circle cx="304.5" cy="496.8" r="3.16" fill="url(#gGreen)"/>
<circle cx="302.4" cy="501.4" r="3.21" fill="url(#gGreen)"/>
<circle cx="270.7" cy="501.8" r="3.26" fill="url(#gGreen)"/>
<circle cx="299.4" cy="498.6" r="3.23" fill="url(#gGreen)"/>
<circle cx="297.2" cy="503.3" r="3.27" fill="url(#gGreen)"/>
<circle cx="273.0" cy="499.9" r="3.30" fill="url(#gGreen)"/>
<circle cx="294.1" cy="500.5" r="3.30" fill="url(#gGreen)"/>
<circle cx="291.7" cy="505.3" r="3.34" fill="url(#gGreen)"/>
<circle cx="274.5" cy="505.4" r="3.36" fill="url(#gGreen)"/>
<circle cx="288.6" cy="502.5" r="3.37" fill="url(#gGreen)"/>
<circle cx="277.0" cy="503.5" r="3.42" fill="url(#gGreen)"/>
<circle cx="286.1" cy="507.4" r="3.41" fill="url(#gGreen)"/>
<circle cx="282.8" cy="504.5" r="3.44" fill="url(#gGreen)"/>
<circle cx="279.0" cy="505.4" r="3.47" fill="url(#gGreen)"/>
<circle cx="279.8" cy="505.5" r="3.48" fill="url(#gGreen)"/>
<circle cx="278.5" cy="509.3" r="3.48" fill="url(#gGreen)"/>
<circle cx="280.2" cy="509.6" r="3.49" fill="url(#gGreen)"/>
<circle cx="292.0" cy="472.5" r="2.10" fill="url(#gGreen)"/>
<circle cx="289.5" cy="473.1" r="2.15" fill="url(#gGreen)"/>
<circle cx="286.8" cy="473.7" r="2.19" fill="url(#gGreen)"/>
<circle cx="296.4" cy="473.8" r="2.17" fill="url(#gGreen)"/>
<circle cx="284.0" cy="474.4" r="2.24" fill="url(#gGreen)"/>
<circle cx="293.8" cy="474.4" r="2.22" fill="url(#gGreen)"/>
<circle cx="281.1" cy="475.1" r="2.30" fill="url(#gGreen)"/>
<circle cx="291.0" cy="475.1" r="2.27" fill="url(#gGreen)"/>
<circle cx="301.2" cy="475.2" r="2.25" fill="url(#gGreen)"/>
<circle cx="278.0" cy="475.8" r="2.35" fill="url(#gGreen)"/>
<circle cx="288.0" cy="475.9" r="2.32" fill="url(#gGreen)"/>
<circle cx="298.4" cy="475.9" r="2.30" fill="url(#gGreen)"/>
<circle cx="274.7" cy="476.6" r="2.41" fill="url(#gGreen)"/>
<circle cx="284.9" cy="476.7" r="2.37" fill="url(#gGreen)"/>
<circle cx="295.5" cy="476.7" r="2.34" fill="url(#gGreen)"/>
<circle cx="306.4" cy="476.7" r="2.34" fill="url(#gGreen)"/>
<circle cx="271.3" cy="477.4" r="2.47" fill="url(#gGreen)"/>
<circle cx="281.6" cy="477.5" r="2.43" fill="url(#gGreen)"/>
<circle cx="303.5" cy="477.5" r="2.38" fill="url(#gGreen)"/>
<circle cx="292.4" cy="477.5" r="2.40" fill="url(#gGreen)"/>
<circle cx="267.7" cy="478.2" r="2.54" fill="url(#gGreen)"/>
<circle cx="312.1" cy="478.3" r="2.43" fill="url(#gGreen)"/>
<circle cx="278.2" cy="478.3" r="2.48" fill="url(#gGreen)"/>
<circle cx="300.4" cy="478.4" r="2.43" fill="url(#gGreen)"/>
<circle cx="289.1" cy="478.4" r="2.45" fill="url(#gGreen)"/>
<circle cx="263.9" cy="479.1" r="2.61" fill="url(#gGreen)"/>
<circle cx="309.0" cy="479.2" r="2.48" fill="url(#gGreen)"/>
<circle cx="274.6" cy="479.3" r="2.55" fill="url(#gGreen)"/>
<circle cx="297.2" cy="479.3" r="2.48" fill="url(#gGreen)"/>
<circle cx="285.7" cy="479.3" r="2.50" fill="url(#gGreen)"/>
<circle cx="260.0" cy="480.0" r="2.68" fill="url(#gGreen)"/>
<circle cx="318.1" cy="480.1" r="2.53" fill="url(#gGreen)"/>
<circle cx="270.9" cy="480.2" r="2.61" fill="url(#gGreen)"/>
<circle cx="305.7" cy="480.2" r="2.52" fill="url(#gGreen)"/>
<circle cx="282.1" cy="480.3" r="2.56" fill="url(#gGreen)"/>
<circle cx="293.7" cy="480.3" r="2.53" fill="url(#gGreen)"/>
<circle cx="256.0" cy="481.0" r="2.75" fill="url(#gGreen)"/>
<circle cx="314.9" cy="481.1" r="2.58" fill="url(#gGreen)"/>
<circle cx="266.9" cy="481.2" r="2.68" fill="url(#gGreen)"/>
<circle cx="302.3" cy="481.2" r="2.57" fill="url(#gGreen)"/>
<circle cx="278.3" cy="481.3" r="2.63" fill="url(#gGreen)"/>
<circle cx="290.1" cy="481.3" r="2.59" fill="url(#gGreen)"/>
<circle cx="324.6" cy="482.0" r="2.64" fill="url(#gGreen)"/>
<circle cx="311.5" cy="482.2" r="2.62" fill="url(#gGreen)"/>
<circle cx="262.9" cy="482.2" r="2.75" fill="url(#gGreen)"/>
<circle cx="298.7" cy="482.3" r="2.63" fill="url(#gGreen)"/>
<circle cx="274.3" cy="482.3" r="2.69" fill="url(#gGreen)"/>
<circle cx="286.3" cy="482.4" r="2.65" fill="url(#gGreen)"/>
<circle cx="321.2" cy="483.1" r="2.68" fill="url(#gGreen)"/>
<circle cx="258.6" cy="483.3" r="2.82" fill="url(#gGreen)"/>
<circle cx="307.8" cy="483.3" r="2.67" fill="url(#gGreen)"/>
<circle cx="270.2" cy="483.4" r="2.76" fill="url(#gGreen)"/>
<circle cx="294.8" cy="483.4" r="2.68" fill="url(#gGreen)"/>
<circle cx="282.3" cy="483.5" r="2.71" fill="url(#gGreen)"/>
<circle cx="331.5" cy="484.0" r="2.75" fill="url(#gGreen)"/>
<circle cx="317.6" cy="484.3" r="2.73" fill="url(#gGreen)"/>
<circle cx="304.0" cy="484.5" r="2.73" fill="url(#gGreen)"/>
<circle cx="265.9" cy="484.6" r="2.83" fill="url(#gGreen)"/>
<circle cx="290.8" cy="484.6" r="2.74" fill="url(#gGreen)"/>
<circle cx="278.1" cy="484.7" r="2.78" fill="url(#gGreen)"/>
<circle cx="327.9" cy="485.2" r="2.80" fill="url(#gGreen)"/>
<circle cx="313.7" cy="485.5" r="2.78" fill="url(#gGreen)"/>
<circle cx="299.9" cy="485.7" r="2.78" fill="url(#gGreen)"/>
<circle cx="261.5" cy="485.8" r="2.90" fill="url(#gGreen)"/>
<circle cx="286.6" cy="485.9" r="2.80" fill="url(#gGreen)"/>
<circle cx="273.8" cy="485.9" r="2.84" fill="url(#gGreen)"/>
<circle cx="324.1" cy="486.5" r="2.84" fill="url(#gGreen)"/>
<circle cx="309.7" cy="486.8" r="2.83" fill="url(#gGreen)"/>
<circle cx="295.7" cy="487.1" r="2.84" fill="url(#gGreen)"/>
<circle cx="269.3" cy="487.2" r="2.91" fill="url(#gGreen)"/>
<circle cx="282.2" cy="487.2" r="2.87" fill="url(#gGreen)"/>
<circle cx="320.0" cy="487.9" r="2.89" fill="url(#gGreen)"/>
<circle cx="305.4" cy="488.2" r="2.89" fill="url(#gGreen)"/>
<circle cx="291.3" cy="488.4" r="2.90" fill="url(#gGreen)"/>
<circle cx="264.6" cy="488.5" r="2.99" fill="url(#gGreen)"/>
<circle cx="277.7" cy="488.5" r="2.94" fill="url(#gGreen)"/>
<circle cx="315.7" cy="489.3" r="2.95" fill="url(#gGreen)"/>
<circle cx="300.9" cy="489.7" r="2.95" fill="url(#gGreen)"/>
<circle cx="286.6" cy="489.9" r="2.97" fill="url(#gGreen)"/>
<circle cx="272.9" cy="489.9" r="3.01" fill="url(#gGreen)"/>
<circle cx="311.2" cy="490.8" r="3.00" fill="url(#gGreen)"/>
<circle cx="296.2" cy="491.2" r="3.01" fill="url(#gGreen)"/>
<circle cx="281.8" cy="491.4" r="3.04" fill="url(#gGreen)"/>
<circle cx="267.9" cy="491.4" r="3.08" fill="url(#gGreen)"/>
<circle cx="306.5" cy="492.4" r="3.06" fill="url(#gGreen)"/>
<circle cx="291.3" cy="492.8" r="3.08" fill="url(#gGreen)"/>
<circle cx="276.8" cy="492.9" r="3.11" fill="url(#gGreen)"/>
<circle cx="301.5" cy="494.1" r="3.12" fill="url(#gGreen)"/>
<circle cx="286.2" cy="494.4" r="3.14" fill="url(#gGreen)"/>
<circle cx="271.5" cy="494.6" r="3.18" fill="url(#gGreen)"/>
<circle cx="296.4" cy="495.8" r="3.19" fill="url(#gGreen)"/>
<circle cx="280.9" cy="496.1" r="3.21" fill="url(#gGreen)"/>
<circle cx="291.0" cy="497.6" r="3.26" fill="url(#gGreen)"/>
<circle cx="275.4" cy="497.9" r="3.29" fill="url(#gGreen)"/>
<circle cx="285.3" cy="499.5" r="3.33" fill="url(#gGreen)"/>
<circle cx="279.5" cy="501.5" r="3.40" fill="url(#gGreen)"/>
<circle cx="283.5" cy="473.8" r="0.98" fill="url(#gYel)"/>
<circle cx="285.5" cy="474.6" r="1.00" fill="url(#gYel)"/>
<circle cx="277.2" cy="475.3" r="1.03" fill="url(#gYel)"/>
<circle cx="287.5" cy="475.4" r="1.02" fill="url(#gYel)"/>
<circle cx="279.0" cy="476.1" r="1.05" fill="url(#gYel)"/>
<circle cx="289.7" cy="476.2" r="1.03" fill="url(#gYel)"/>
<circle cx="270.3" cy="476.9" r="1.09" fill="url(#gYel)"/>
<circle cx="280.9" cy="477.0" r="1.06" fill="url(#gYel)"/>
<circle cx="303.3" cy="477.0" r="1.04" fill="url(#gYel)"/>
<circle cx="291.9" cy="477.0" r="1.05" fill="url(#gYel)"/>
<circle cx="271.9" cy="477.8" r="1.10" fill="url(#gYel)"/>
<circle cx="306.0" cy="477.9" r="1.06" fill="url(#gYel)"/>
<circle cx="282.9" cy="477.9" r="1.08" fill="url(#gYel)"/>
<circle cx="294.3" cy="477.9" r="1.07" fill="url(#gYel)"/>
<circle cx="262.7" cy="478.6" r="1.14" fill="url(#gYel)"/>
<circle cx="308.8" cy="478.8" r="1.08" fill="url(#gYel)"/>
<circle cx="273.6" cy="478.8" r="1.12" fill="url(#gYel)"/>
<circle cx="296.7" cy="478.9" r="1.09" fill="url(#gYel)"/>
<circle cx="285.0" cy="478.9" r="1.10" fill="url(#gYel)"/>
<circle cx="311.7" cy="479.7" r="1.11" fill="url(#gYel)"/>
<circle cx="264.2" cy="479.6" r="1.16" fill="url(#gYel)"/>
<circle cx="299.2" cy="479.8" r="1.11" fill="url(#gYel)"/>
<circle cx="275.4" cy="479.8" r="1.13" fill="url(#gYel)"/>
<circle cx="287.1" cy="479.8" r="1.12" fill="url(#gYel)"/>
<circle cx="314.7" cy="480.7" r="1.13" fill="url(#gYel)"/>
<circle cx="265.7" cy="480.7" r="1.18" fill="url(#gYel)"/>
<circle cx="301.8" cy="480.8" r="1.13" fill="url(#gYel)"/>
<circle cx="277.3" cy="480.9" r="1.15" fill="url(#gYel)"/>
<circle cx="289.3" cy="480.9" r="1.14" fill="url(#gYel)"/>
<circle cx="317.8" cy="481.7" r="1.15" fill="url(#gYel)"/>
<circle cx="304.5" cy="481.9" r="1.15" fill="url(#gYel)"/>
<circle cx="267.3" cy="481.9" r="1.19" fill="url(#gYel)"/>
<circle cx="291.7" cy="482.0" r="1.16" fill="url(#gYel)"/>
<circle cx="279.2" cy="482.0" r="1.17" fill="url(#gYel)"/>
<circle cx="321.0" cy="482.7" r="1.18" fill="url(#gYel)"/>
<circle cx="307.3" cy="482.9" r="1.17" fill="url(#gYel)"/>
<circle cx="294.1" cy="483.1" r="1.18" fill="url(#gYel)"/>
<circle cx="268.9" cy="483.0" r="1.21" fill="url(#gYel)"/>
<circle cx="281.3" cy="483.1" r="1.19" fill="url(#gYel)"/>
<circle cx="324.3" cy="483.7" r="1.20" fill="url(#gYel)"/>
<circle cx="310.2" cy="484.0" r="1.20" fill="url(#gYel)"/>
<circle cx="296.6" cy="484.2" r="1.20" fill="url(#gYel)"/>
<circle cx="270.7" cy="484.3" r="1.23" fill="url(#gYel)"/>
<circle cx="283.4" cy="484.3" r="1.21" fill="url(#gYel)"/>
<circle cx="313.2" cy="485.2" r="1.22" fill="url(#gYel)"/>
<circle cx="299.2" cy="485.4" r="1.22" fill="url(#gYel)"/>
<circle cx="285.6" cy="485.6" r="1.23" fill="url(#gYel)"/>
<circle cx="272.5" cy="485.6" r="1.25" fill="url(#gYel)"/>
<circle cx="316.3" cy="486.3" r="1.24" fill="url(#gYel)"/>
<circle cx="301.8" cy="486.7" r="1.24" fill="url(#gYel)"/>
<circle cx="287.8" cy="486.8" r="1.25" fill="url(#gYel)"/>
<circle cx="274.3" cy="486.9" r="1.27" fill="url(#gYel)"/>
<circle cx="304.6" cy="487.9" r="1.27" fill="url(#gYel)"/>
<circle cx="290.2" cy="488.2" r="1.27" fill="url(#gYel)"/>
<circle cx="276.3" cy="488.3" r="1.29" fill="url(#gYel)"/>
<circle cx="307.4" cy="489.2" r="1.29" fill="url(#gYel)"/>
<circle cx="292.6" cy="489.6" r="1.30" fill="url(#gYel)"/>
<circle cx="278.3" cy="489.7" r="1.31" fill="url(#gYel)"/>
<circle cx="295.1" cy="491.0" r="1.32" fill="url(#gYel)"/>
<circle cx="280.4" cy="491.2" r="1.33" fill="url(#gYel)"/>
<circle cx="297.7" cy="492.4" r="1.34" fill="url(#gYel)"/>
<circle cx="282.5" cy="492.7" r="1.35" fill="url(#gYel)"/>
<circle cx="284.7" cy="494.3" r="1.38" fill="url(#gYel)"/>
<circle cx="287.0" cy="495.9" r="1.40" fill="url(#gYel)"/>
<circle cx="287.8" cy="470.6" r="8.4" fill="#2b6ea8"/>
<circle cx="286.3" cy="463.0" r="1.20" fill="url(#gBlue)"/>
<circle cx="294.9" cy="473.8" r="1.20" fill="url(#gBlue)"/>
<circle cx="285.5" cy="478.0" r="1.20" fill="url(#gBlue)"/>
<circle cx="291.3" cy="477.6" r="1.20" fill="url(#gBlue)"/>
<circle cx="282.5" cy="464.9" r="1.20" fill="url(#gBlue)"/>
<circle cx="281.0" cy="474.5" r="1.20" fill="url(#gBlue)"/>
<circle cx="293.4" cy="476.0" r="1.20" fill="url(#gBlue)"/>
<circle cx="292.6" cy="464.5" r="1.20" fill="url(#gBlue)"/>
<circle cx="294.5" cy="466.5" r="1.20" fill="url(#gRedS)"/>
<circle cx="290.3" cy="463.2" r="1.20" fill="url(#gBlue)"/>
<circle cx="280.2" cy="472.5" r="1.20" fill="url(#gRedS)"/>
<circle cx="295.5" cy="469.1" r="1.20" fill="url(#gBlue)"/>
<circle cx="280.0" cy="470.4" r="1.20" fill="url(#gBlue)"/>
<circle cx="284.1" cy="463.7" r="1.20" fill="url(#gBlue)"/>
<circle cx="287.7" cy="478.4" r="1.20" fill="url(#gBlue)"/>
<circle cx="283.8" cy="477.3" r="1.20" fill="url(#gBlue)"/>
<circle cx="287.8" cy="462.8" r="1.20" fill="url(#gRedS)"/>
<circle cx="295.5" cy="471.9" r="1.20" fill="url(#gBlue)"/>
<circle cx="280.3" cy="468.3" r="1.20" fill="url(#gBlue)"/>
<circle cx="290.2" cy="478.0" r="1.20" fill="url(#gBlue)"/>
<circle cx="294.5" cy="474.6" r="1.20" fill="url(#gBlue)"/>
<circle cx="281.2" cy="466.4" r="1.20" fill="url(#gBlue)"/>
<circle cx="282.3" cy="476.1" r="1.20" fill="url(#gBlue)"/>
<circle cx="292.6" cy="476.7" r="1.20" fill="url(#gBlue)"/>
<circle cx="293.3" cy="465.2" r="1.20" fill="url(#gBlue)"/>
<circle cx="291.3" cy="463.7" r="1.20" fill="url(#gBlue)"/>
<circle cx="285.7" cy="463.2" r="1.20" fill="url(#gBlue)"/>
<circle cx="294.8" cy="467.3" r="1.20" fill="url(#gBlue)"/>
<circle cx="286.1" cy="478.1" r="1.20" fill="url(#gBlue)"/>
<circle cx="281.1" cy="474.4" r="1.20" fill="url(#gBlue)"/>
<circle cx="282.6" cy="465.0" r="1.20" fill="url(#gBlue)"/>
<circle cx="295.4" cy="470.0" r="1.20" fill="url(#gBlue)"/>
<circle cx="289.1" cy="463.1" r="1.20" fill="url(#gBlue)"/>
<circle cx="280.5" cy="472.3" r="1.20" fill="url(#gBlue)"/>
<circle cx="294.9" cy="472.7" r="1.20" fill="url(#gBlue)"/>
<circle cx="288.7" cy="478.0" r="1.20" fill="url(#gRedS)"/>
<circle cx="280.4" cy="470.2" r="1.20" fill="url(#gBlue)"/>
<circle cx="284.4" cy="477.1" r="1.20" fill="url(#gBlue)"/>
<circle cx="293.5" cy="475.1" r="1.20" fill="url(#gBlue)"/>
<circle cx="291.3" cy="477.0" r="1.20" fill="url(#gBlue)"/>
<circle cx="284.3" cy="464.2" r="1.20" fill="url(#gBlue)"/>
<circle cx="281.0" cy="468.2" r="1.20" fill="url(#gBlue)"/>
<circle cx="287.2" cy="463.5" r="1.20" fill="url(#gBlue)"/>
<circle cx="293.2" cy="466.0" r="1.20" fill="url(#gBlue)"/>
<circle cx="291.5" cy="464.6" r="1.20" fill="url(#gBlue)"/>
<circle cx="294.4" cy="468.1" r="1.20" fill="url(#gBlue)"/>
<circle cx="283.0" cy="475.7" r="1.20" fill="url(#gBlue)"/>
<circle cx="282.2" cy="466.5" r="1.20" fill="url(#gBlue)"/>
<circle cx="287.0" cy="477.4" r="1.20" fill="url(#gBlue)"/>
<circle cx="294.6" cy="470.6" r="1.20" fill="url(#gBlue)"/>
<circle cx="281.9" cy="473.9" r="1.20" fill="url(#gBlue)"/>
<circle cx="289.5" cy="464.2" r="1.20" fill="url(#gBlue)"/>
<circle cx="293.8" cy="473.1" r="1.20" fill="url(#gBlue)"/>
<circle cx="289.7" cy="476.8" r="1.20" fill="url(#gRedS)"/>
<circle cx="281.5" cy="471.9" r="1.20" fill="url(#gBlue)"/>
<circle cx="292.1" cy="475.3" r="1.20" fill="url(#gBlue)"/>
<circle cx="284.1" cy="465.6" r="1.20" fill="url(#gBlue)"/>
<circle cx="286.2" cy="464.6" r="1.20" fill="url(#gBlue)"/>
<circle cx="285.4" cy="476.4" r="1.20" fill="url(#gBlue)"/>
<circle cx="281.7" cy="469.8" r="1.20" fill="url(#gBlue)"/>
<circle cx="292.2" cy="466.7" r="1.20" fill="url(#gBlue)"/>
<circle cx="293.2" cy="468.6" r="1.20" fill="url(#gBlue)"/>
<circle cx="282.8" cy="467.9" r="1.20" fill="url(#gBlue)"/>
<circle cx="284.1" cy="474.8" r="1.20" fill="url(#gBlue)"/>
<circle cx="293.3" cy="470.9" r="1.20" fill="url(#gBlue)"/>
<circle cx="288.1" cy="476.1" r="1.20" fill="url(#gBlue)"/>
<circle cx="290.3" cy="465.7" r="1.20" fill="url(#gRedS)"/>
<circle cx="288.0" cy="465.2" r="1.20" fill="url(#gBlue)"/>
<circle cx="292.4" cy="473.1" r="1.20" fill="url(#gBlue)"/>
<circle cx="290.5" cy="475.0" r="1.20" fill="url(#gBlue)"/>
<circle cx="283.3" cy="472.9" r="1.20" fill="url(#gBlue)"/>
<circle cx="285.2" cy="466.7" r="1.20" fill="url(#gBlue)"/>
<circle cx="283.2" cy="470.8" r="1.20" fill="url(#gBlue)"/>
<circle cx="286.6" cy="474.9" r="1.20" fill="url(#gBlue)"/>
<circle cx="291.2" cy="468.4" r="1.20" fill="url(#gBlue)"/>
<circle cx="284.3" cy="468.6" r="1.20" fill="url(#gRedS)"/>
<circle cx="288.7" cy="466.9" r="1.20" fill="url(#gRedS)"/>
<circle cx="291.6" cy="470.4" r="1.20" fill="url(#gBlue)"/>
<circle cx="288.9" cy="474.1" r="1.20" fill="url(#gBlue)"/>
<circle cx="285.5" cy="473.1" r="1.20" fill="url(#gBlue)"/>
<circle cx="290.7" cy="472.5" r="1.20" fill="url(#gBlue)"/>
<circle cx="286.6" cy="467.8" r="1.20" fill="url(#gBlue)"/>
<circle cx="285.1" cy="470.9" r="1.20" fill="url(#gBlue)"/>
<circle cx="289.2" cy="468.7" r="1.20" fill="url(#gBlue)"/>
<circle cx="287.6" cy="472.4" r="1.20" fill="url(#gBlue)"/>
<circle cx="289.0" cy="470.9" r="1.20" fill="url(#gBlue)"/>
<circle cx="287.0" cy="469.9" r="1.20" fill="url(#gBlue)"/>
<path d="M299.8 476.2 A9.31 9.31 0 1 1 317.4 476.2 A8.82 2.64 0 0 1 299.8 476.2 Z" fill="#2b6ea8"/>
<circle cx="306.9" cy="464.0" r="1.20" fill="url(#gBlue)"/>
<circle cx="316.6" cy="475.6" r="1.20" fill="url(#gBlue)"/>
<circle cx="302.9" cy="466.0" r="1.20" fill="url(#gBlue)"/>
<circle cx="313.9" cy="465.6" r="1.20" fill="url(#gBlue)"/>
<circle cx="315.9" cy="467.8" r="1.20" fill="url(#gBlue)"/>
<circle cx="311.3" cy="464.2" r="1.20" fill="url(#gBlue)"/>
<circle cx="300.9" cy="476.4" r="1.20" fill="url(#gBlue)"/>
<circle cx="300.2" cy="474.2" r="1.20" fill="url(#gBlue)"/>
<circle cx="317.0" cy="470.6" r="1.20" fill="url(#gBlue)"/>
<circle cx="304.6" cy="464.8" r="1.20" fill="url(#gBlue)"/>
<circle cx="308.6" cy="463.8" r="1.20" fill="url(#gRedS)"/>
<circle cx="300.0" cy="471.9" r="1.20" fill="url(#gBlue)"/>
<circle cx="300.5" cy="469.7" r="1.20" fill="url(#gBlue)"/>
<circle cx="317.1" cy="473.6" r="1.20" fill="url(#gBlue)"/>
<circle cx="301.5" cy="467.7" r="1.20" fill="url(#gBlue)"/>
<circle cx="314.5" cy="466.3" r="1.20" fill="url(#gBlue)"/>
<circle cx="316.0" cy="476.5" r="1.20" fill="url(#gBlue)"/>
<circle cx="312.3" cy="464.8" r="1.20" fill="url(#gBlue)"/>
<circle cx="306.4" cy="464.3" r="1.20" fill="url(#gBlue)"/>
<circle cx="316.1" cy="468.7" r="1.20" fill="url(#gBlue)"/>
<circle cx="303.0" cy="466.2" r="1.20" fill="url(#gBlue)"/>
<circle cx="301.3" cy="476.3" r="1.20" fill="url(#gBlue)"/>
<circle cx="309.9" cy="464.2" r="1.20" fill="url(#gBlue)"/>
<circle cx="316.8" cy="471.5" r="1.20" fill="url(#gBlue)"/>
<circle cx="300.6" cy="474.1" r="1.20" fill="url(#gBlue)"/>
<circle cx="316.4" cy="474.4" r="1.20" fill="url(#gBlue)"/>
<circle cx="300.6" cy="471.8" r="1.20" fill="url(#gBlue)"/>
<circle cx="304.9" cy="465.4" r="1.20" fill="url(#gBlue)"/>
<circle cx="301.2" cy="469.7" r="1.20" fill="url(#gBlue)"/>
<circle cx="314.9" cy="477.1" r="1.20" fill="url(#gBlue)"/>
<circle cx="307.9" cy="464.6" r="1.20" fill="url(#gRedS)"/>
<circle cx="314.4" cy="467.3" r="1.20" fill="url(#gBlue)"/>
<circle cx="312.5" cy="465.8" r="1.20" fill="url(#gBlue)"/>
<circle cx="315.7" cy="469.5" r="1.20" fill="url(#gBlue)"/>
<circle cx="303.3" cy="477.8" r="1.20" fill="url(#gRedS)"/>
<circle cx="302.6" cy="467.9" r="1.20" fill="url(#gBlue)"/>
<circle cx="316.0" cy="472.2" r="1.20" fill="url(#gRedS)"/>
<circle cx="310.4" cy="465.4" r="1.20" fill="url(#gBlue)"/>
<circle cx="302.2" cy="475.8" r="1.20" fill="url(#gBlue)"/>
<circle cx="315.1" cy="475.0" r="1.20" fill="url(#gBlue)"/>
<circle cx="301.8" cy="473.6" r="1.20" fill="url(#gBlue)"/>
<circle cx="304.6" cy="466.9" r="1.20" fill="url(#gBlue)"/>
<circle cx="306.9" cy="465.8" r="1.20" fill="url(#gBlue)"/>
<circle cx="313.3" cy="477.3" r="1.20" fill="url(#gBlue)"/>
<circle cx="302.0" cy="471.4" r="1.20" fill="url(#gRedS)"/>
<circle cx="313.3" cy="468.1" r="1.20" fill="url(#gBlue)"/>
<circle cx="314.4" cy="470.1" r="1.20" fill="url(#gBlue)"/>
<circle cx="303.2" cy="469.4" r="1.20" fill="url(#gBlue)"/>
<circle cx="311.3" cy="467.1" r="1.20" fill="url(#gBlue)"/>
<circle cx="304.6" cy="476.8" r="1.20" fill="url(#gBlue)"/>
<circle cx="314.5" cy="472.5" r="1.20" fill="url(#gBlue)"/>
<circle cx="308.8" cy="466.5" r="1.20" fill="url(#gBlue)"/>
<circle cx="308.9" cy="478.2" r="1.20" fill="url(#gRedS)"/>
<circle cx="313.5" cy="475.0" r="1.20" fill="url(#gRedS)"/>
<circle cx="311.5" cy="476.9" r="1.20" fill="url(#gBlue)"/>
<circle cx="303.7" cy="474.7" r="1.20" fill="url(#gBlue)"/>
<circle cx="305.8" cy="468.1" r="1.20" fill="url(#gBlue)"/>
<circle cx="303.7" cy="472.4" r="1.20" fill="url(#gBlue)"/>
<circle cx="307.3" cy="476.8" r="1.20" fill="url(#gBlue)"/>
<circle cx="312.2" cy="469.9" r="1.20" fill="url(#gBlue)"/>
<circle cx="304.8" cy="470.1" r="1.20" fill="url(#gBlue)"/>
<circle cx="309.6" cy="468.3" r="1.20" fill="url(#gBlue)"/>
<circle cx="312.6" cy="472.1" r="1.20" fill="url(#gBlue)"/>
<circle cx="309.8" cy="476.0" r="1.20" fill="url(#gBlue)"/>
<circle cx="311.7" cy="474.3" r="1.20" fill="url(#gBlue)"/>
<circle cx="306.1" cy="475.0" r="1.20" fill="url(#gRedS)"/>
<circle cx="307.4" cy="469.3" r="1.20" fill="url(#gBlue)"/>
<circle cx="305.7" cy="472.6" r="1.20" fill="url(#gRedS)"/>
<circle cx="310.1" cy="470.2" r="1.20" fill="url(#gBlue)"/>
<circle cx="308.3" cy="474.2" r="1.20" fill="url(#gBlue)"/>
<circle cx="309.9" cy="472.6" r="1.20" fill="url(#gRedS)"/>
<circle cx="307.7" cy="471.5" r="1.20" fill="url(#gBlue)"/>
<circle cx="287.2" cy="476.9" r="10.3" fill="#2b6ea8"/>
<circle cx="281.6" cy="469.1" r="1.25" fill="url(#gBlue)"/>
<circle cx="282.3" cy="485.2" r="1.25" fill="url(#gBlue)"/>
<circle cx="296.3" cy="480.0" r="1.25" fill="url(#gBlue)"/>
<circle cx="296.6" cy="474.7" r="1.25" fill="url(#gBlue)"/>
<circle cx="291.4" cy="468.2" r="1.25" fill="url(#gBlue)"/>
<circle cx="280.5" cy="483.9" r="1.25" fill="url(#gBlue)"/>
<circle cx="283.5" cy="467.9" r="1.25" fill="url(#gBlue)"/>
<circle cx="294.1" cy="470.1" r="1.25" fill="url(#gRedS)"/>
<circle cx="294.8" cy="482.9" r="1.25" fill="url(#gBlue)"/>
<circle cx="288.4" cy="467.3" r="1.25" fill="url(#gBlue)"/>
<circle cx="289.6" cy="486.3" r="1.25" fill="url(#gBlue)"/>
<circle cx="279.0" cy="482.1" r="1.25" fill="url(#gBlue)"/>
<circle cx="292.5" cy="485.1" r="1.25" fill="url(#gBlue)"/>
<circle cx="296.8" cy="478.0" r="1.25" fill="url(#gBlue)"/>
<circle cx="278.0" cy="479.9" r="1.25" fill="url(#gBlue)"/>
<circle cx="296.0" cy="472.8" r="1.25" fill="url(#gBlue)"/>
<circle cx="277.5" cy="477.6" r="1.25" fill="url(#gRedS)"/>
<circle cx="277.7" cy="475.2" r="1.25" fill="url(#gBlue)"/>
<circle cx="284.8" cy="486.3" r="1.25" fill="url(#gRedS)"/>
<circle cx="278.4" cy="472.9" r="1.25" fill="url(#gBlue)"/>
<circle cx="285.5" cy="467.4" r="1.25" fill="url(#gBlue)"/>
<circle cx="279.6" cy="470.9" r="1.25" fill="url(#gBlue)"/>
<circle cx="295.9" cy="481.2" r="1.25" fill="url(#gBlue)"/>
<circle cx="296.8" cy="475.9" r="1.25" fill="url(#gBlue)"/>
<circle cx="292.6" cy="469.0" r="1.25" fill="url(#gBlue)"/>
<circle cx="281.2" cy="469.3" r="1.25" fill="url(#gRedS)"/>
<circle cx="282.8" cy="485.4" r="1.25" fill="url(#gBlue)"/>
<circle cx="287.8" cy="486.5" r="1.25" fill="url(#gBlue)"/>
<circle cx="290.0" cy="467.7" r="1.25" fill="url(#gBlue)"/>
<circle cx="293.8" cy="483.8" r="1.25" fill="url(#gBlue)"/>
<circle cx="294.8" cy="471.1" r="1.25" fill="url(#gBlue)"/>
<circle cx="291.0" cy="485.7" r="1.25" fill="url(#gBlue)"/>
<circle cx="281.0" cy="484.1" r="1.25" fill="url(#gBlue)"/>
<circle cx="283.1" cy="468.3" r="1.25" fill="url(#gRedS)"/>
<circle cx="287.2" cy="467.4" r="1.25" fill="url(#gBlue)"/>
<circle cx="296.4" cy="479.2" r="1.25" fill="url(#gBlue)"/>
<circle cx="296.2" cy="474.0" r="1.25" fill="url(#gBlue)"/>
<circle cx="279.4" cy="482.3" r="1.25" fill="url(#gBlue)"/>
<circle cx="278.4" cy="480.1" r="1.25" fill="url(#gBlue)"/>
<circle cx="285.8" cy="486.2" r="1.25" fill="url(#gBlue)"/>
<circle cx="277.9" cy="477.8" r="1.25" fill="url(#gBlue)"/>
<circle cx="278.0" cy="475.4" r="1.25" fill="url(#gBlue)"/>
<circle cx="278.7" cy="473.2" r="1.25" fill="url(#gBlue)"/>
<circle cx="294.8" cy="482.2" r="1.25" fill="url(#gBlue)"/>
<circle cx="279.9" cy="471.3" r="1.25" fill="url(#gBlue)"/>
<circle cx="293.2" cy="470.0" r="1.25" fill="url(#gBlue)"/>
<circle cx="296.4" cy="477.1" r="1.25" fill="url(#gBlue)"/>
<circle cx="289.1" cy="485.9" r="1.25" fill="url(#gBlue)"/>
<circle cx="290.9" cy="468.5" r="1.25" fill="url(#gBlue)"/>
<circle cx="285.0" cy="468.0" r="1.25" fill="url(#gBlue)"/>
<circle cx="292.3" cy="484.5" r="1.25" fill="url(#gBlue)"/>
<circle cx="283.8" cy="485.3" r="1.25" fill="url(#gBlue)"/>
<circle cx="295.0" cy="472.3" r="1.25" fill="url(#gBlue)"/>
<circle cx="281.6" cy="469.9" r="1.25" fill="url(#gBlue)"/>
<circle cx="288.5" cy="468.1" r="1.25" fill="url(#gBlue)"/>
<circle cx="295.4" cy="480.2" r="1.25" fill="url(#gBlue)"/>
<circle cx="281.9" cy="483.9" r="1.25" fill="url(#gBlue)"/>
<circle cx="295.7" cy="475.1" r="1.25" fill="url(#gBlue)"/>
<circle cx="287.1" cy="485.6" r="1.25" fill="url(#gBlue)"/>
<circle cx="280.3" cy="482.1" r="1.25" fill="url(#gBlue)"/>
<circle cx="293.3" cy="482.9" r="1.25" fill="url(#gBlue)"/>
<circle cx="279.3" cy="480.0" r="1.25" fill="url(#gBlue)"/>
<circle cx="278.8" cy="477.7" r="1.25" fill="url(#gBlue)"/>
<circle cx="283.5" cy="469.3" r="1.25" fill="url(#gBlue)"/>
<circle cx="290.4" cy="484.7" r="1.25" fill="url(#gBlue)"/>
<circle cx="278.9" cy="475.4" r="1.25" fill="url(#gBlue)"/>
<circle cx="286.5" cy="468.5" r="1.25" fill="url(#gBlue)"/>
<circle cx="295.4" cy="478.1" r="1.25" fill="url(#gRedS)"/>
<circle cx="279.7" cy="473.3" r="1.25" fill="url(#gBlue)"/>
<circle cx="293.0" cy="471.1" r="1.25" fill="url(#gBlue)"/>
<circle cx="291.1" cy="469.7" r="1.25" fill="url(#gBlue)"/>
<circle cx="285.0" cy="484.7" r="1.25" fill="url(#gBlue)"/>
<circle cx="294.4" cy="473.3" r="1.25" fill="url(#gBlue)"/>
<circle cx="281.2" cy="471.7" r="1.25" fill="url(#gBlue)"/>
<circle cx="293.9" cy="480.9" r="1.25" fill="url(#gRedS)"/>
<circle cx="289.0" cy="469.4" r="1.25" fill="url(#gBlue)"/>
<circle cx="283.1" cy="483.4" r="1.25" fill="url(#gBlue)"/>
<circle cx="288.3" cy="484.5" r="1.25" fill="url(#gBlue)"/>
<circle cx="294.7" cy="475.9" r="1.25" fill="url(#gBlue)"/>
<circle cx="291.5" cy="483.1" r="1.25" fill="url(#gBlue)"/>
<circle cx="281.6" cy="481.6" r="1.25" fill="url(#gRedS)"/>
<circle cx="285.5" cy="469.8" r="1.25" fill="url(#gRedS)"/>
<circle cx="283.2" cy="470.8" r="1.25" fill="url(#gBlue)"/>
<circle cx="280.6" cy="479.6" r="1.25" fill="url(#gBlue)"/>
<circle cx="280.2" cy="477.3" r="1.25" fill="url(#gBlue)"/>
<circle cx="294.0" cy="478.7" r="1.25" fill="url(#gBlue)"/>
<circle cx="280.6" cy="475.1" r="1.25" fill="url(#gBlue)"/>
<circle cx="286.3" cy="483.7" r="1.25" fill="url(#gBlue)"/>
<circle cx="291.8" cy="472.0" r="1.25" fill="url(#gBlue)"/>
<circle cx="293.0" cy="473.9" r="1.25" fill="url(#gBlue)"/>
<circle cx="281.8" cy="473.2" r="1.25" fill="url(#gBlue)"/>
<circle cx="292.1" cy="481.1" r="1.25" fill="url(#gBlue)"/>
<circle cx="289.8" cy="471.0" r="1.25" fill="url(#gBlue)"/>
<circle cx="287.4" cy="470.5" r="1.25" fill="url(#gBlue)"/>
<circle cx="289.5" cy="482.9" r="1.25" fill="url(#gBlue)"/>
<circle cx="284.5" cy="482.3" r="1.25" fill="url(#gBlue)"/>
<circle cx="293.2" cy="476.3" r="1.25" fill="url(#gBlue)"/>
<circle cx="284.4" cy="472.0" r="1.25" fill="url(#gBlue)"/>
<circle cx="283.1" cy="480.6" r="1.25" fill="url(#gBlue)"/>
<circle cx="292.2" cy="478.7" r="1.25" fill="url(#gBlue)"/>
<circle cx="282.3" cy="478.5" r="1.25" fill="url(#gBlue)"/>
<circle cx="287.5" cy="482.0" r="1.25" fill="url(#gBlue)"/>
<circle cx="282.3" cy="476.3" r="1.25" fill="url(#gBlue)"/>
<circle cx="290.2" cy="480.8" r="1.25" fill="url(#gBlue)"/>
<circle cx="290.8" cy="473.8" r="1.25" fill="url(#gBlue)"/>
<circle cx="288.1" cy="472.3" r="1.25" fill="url(#gBlue)"/>
<circle cx="283.5" cy="474.0" r="1.25" fill="url(#gRedS)"/>
<circle cx="291.2" cy="475.9" r="1.25" fill="url(#gBlue)"/>
<circle cx="285.8" cy="480.7" r="1.25" fill="url(#gBlue)"/>
<circle cx="286.0" cy="473.3" r="1.25" fill="url(#gBlue)"/>
<circle cx="290.3" cy="478.1" r="1.25" fill="url(#gBlue)"/>
<circle cx="288.7" cy="474.1" r="1.25" fill="url(#gRedS)"/>
<circle cx="284.7" cy="478.8" r="1.25" fill="url(#gBlue)"/>
<circle cx="288.4" cy="479.8" r="1.25" fill="url(#gBlue)"/>
<circle cx="284.4" cy="476.4" r="1.25" fill="url(#gBlue)"/>
<circle cx="286.3" cy="475.4" r="1.25" fill="url(#gBlue)"/>
<circle cx="288.5" cy="476.5" r="1.25" fill="url(#gBlue)"/>
<circle cx="286.9" cy="478.0" r="1.25" fill="url(#gBlue)"/>
<path d="M312 474 L336 478 L336 492 L322 489 Z" fill="#9ed6f1" opacity="0.4" filter="url(#fBlur)"/>
<circle cx="405.4" cy="483.1" r="24.2" fill="#2b6ea8"/>
<circle cx="425.3" cy="493.3" r="3.25" fill="url(#gBlue)"/>
<circle cx="383.6" cy="488.4" r="3.25" fill="url(#gRedS)"/>
<circle cx="383.0" cy="482.9" r="3.25" fill="url(#gBlue)"/>
<circle cx="418.2" cy="464.6" r="3.25" fill="url(#gBlue)"/>
<circle cx="408.3" cy="505.4" r="3.25" fill="url(#gBlue)"/>
<circle cx="427.8" cy="481.5" r="3.25" fill="url(#gBlue)"/>
<circle cx="383.7" cy="477.5" r="3.25" fill="url(#gRedS)"/>
<circle cx="411.2" cy="461.4" r="3.25" fill="url(#gBlue)"/>
<circle cx="385.6" cy="472.4" r="3.25" fill="url(#gBlue)"/>
<circle cx="397.4" cy="504.1" r="3.25" fill="url(#gBlue)"/>
<circle cx="421.0" cy="499.3" r="3.25" fill="url(#gBlue)"/>
<circle cx="415.0" cy="503.5" r="3.25" fill="url(#gRedS)"/>
<circle cx="423.8" cy="470.1" r="3.25" fill="url(#gBlue)"/>
<circle cx="388.7" cy="467.9" r="3.25" fill="url(#gBlue)"/>
<circle cx="403.8" cy="460.6" r="3.25" fill="url(#gBlue)"/>
<circle cx="427.1" cy="489.2" r="3.25" fill="url(#gBlue)"/>
<circle cx="392.7" cy="464.4" r="3.25" fill="url(#gRedS)"/>
<circle cx="393.0" cy="502.0" r="3.25" fill="url(#gRedS)"/>
<circle cx="427.2" cy="477.1" r="3.25" fill="url(#gBlue)"/>
<circle cx="404.1" cy="505.7" r="3.25" fill="url(#gBlue)"/>
<circle cx="389.0" cy="498.7" r="3.25" fill="url(#gBlue)"/>
<circle cx="415.0" cy="462.7" r="3.25" fill="url(#gBlue)"/>
<circle cx="423.8" cy="496.2" r="3.25" fill="url(#gBlue)"/>
<circle cx="421.1" cy="466.9" r="3.25" fill="url(#gBlue)"/>
<circle cx="397.1" cy="462.1" r="3.25" fill="url(#gRedS)"/>
<circle cx="385.9" cy="494.3" r="3.25" fill="url(#gRedS)"/>
<circle cx="411.3" cy="504.8" r="3.25" fill="url(#gBlue)"/>
<circle cx="408.1" cy="460.7" r="3.25" fill="url(#gBlue)"/>
<circle cx="427.9" cy="484.8" r="3.25" fill="url(#gRedS)"/>
<circle cx="418.3" cy="501.6" r="3.25" fill="url(#gBlue)"/>
<circle cx="383.8" cy="489.3" r="3.25" fill="url(#gBlue)"/>
<circle cx="382.9" cy="483.9" r="3.25" fill="url(#gBlue)"/>
<circle cx="383.4" cy="478.4" r="3.25" fill="url(#gBlue)"/>
<circle cx="425.5" cy="473.0" r="3.25" fill="url(#gBlue)"/>
<circle cx="399.4" cy="504.7" r="3.25" fill="url(#gBlue)"/>
<circle cx="385.2" cy="473.3" r="3.25" fill="url(#gBlue)"/>
<circle cx="388.1" cy="468.9" r="3.25" fill="url(#gBlue)"/>
<circle cx="425.7" cy="492.3" r="3.25" fill="url(#gBlue)"/>
<circle cx="401.5" cy="461.1" r="3.25" fill="url(#gBlue)"/>
<circle cx="427.4" cy="480.3" r="3.25" fill="url(#gBlue)"/>
<circle cx="394.8" cy="502.6" r="3.25" fill="url(#gRedS)"/>
<circle cx="406.9" cy="505.2" r="3.25" fill="url(#gBlue)"/>
<circle cx="391.9" cy="465.6" r="3.25" fill="url(#gRedS)"/>
<circle cx="417.7" cy="464.7" r="3.25" fill="url(#gBlue)"/>
<circle cx="421.0" cy="498.6" r="3.25" fill="url(#gRedS)"/>
<circle cx="411.6" cy="462.0" r="3.25" fill="url(#gBlue)"/>
<circle cx="422.7" cy="469.6" r="3.25" fill="url(#gBlue)"/>
<circle cx="414.4" cy="503.1" r="3.25" fill="url(#gBlue)"/>
<circle cx="390.6" cy="499.2" r="3.25" fill="url(#gBlue)"/>
<circle cx="426.6" cy="487.9" r="3.25" fill="url(#gBlue)"/>
<circle cx="387.3" cy="494.9" r="3.25" fill="url(#gBlue)"/>
<circle cx="396.1" cy="463.6" r="3.25" fill="url(#gBlue)"/>
<circle cx="405.5" cy="461.5" r="3.25" fill="url(#gBlue)"/>
<circle cx="425.8" cy="476.1" r="3.25" fill="url(#gBlue)"/>
<circle cx="385.0" cy="490.0" r="3.25" fill="url(#gBlue)"/>
<circle cx="402.1" cy="504.3" r="3.25" fill="url(#gRedS)"/>
<circle cx="384.0" cy="484.6" r="3.25" fill="url(#gRedS)"/>
<circle cx="384.4" cy="479.3" r="3.25" fill="url(#gBlue)"/>
<circle cx="423.1" cy="494.9" r="3.25" fill="url(#gBlue)"/>
<circle cx="386.1" cy="474.4" r="3.25" fill="url(#gBlue)"/>
<circle cx="409.9" cy="503.6" r="3.25" fill="url(#gBlue)"/>
<circle cx="426.3" cy="483.3" r="3.25" fill="url(#gBlue)"/>
<circle cx="417.2" cy="500.3" r="3.25" fill="url(#gBlue)"/>
<circle cx="389.0" cy="470.2" r="3.25" fill="url(#gBlue)"/>
<circle cx="419.0" cy="467.4" r="3.25" fill="url(#gBlue)"/>
<circle cx="397.3" cy="502.2" r="3.25" fill="url(#gBlue)"/>
<circle cx="413.8" cy="464.2" r="3.25" fill="url(#gBlue)"/>
<circle cx="400.4" cy="463.1" r="3.25" fill="url(#gBlue)"/>
<circle cx="422.9" cy="472.5" r="3.25" fill="url(#gBlue)"/>
<circle cx="392.8" cy="467.3" r="3.25" fill="url(#gBlue)"/>
<circle cx="393.1" cy="499.0" r="3.25" fill="url(#gBlue)"/>
<circle cx="424.1" cy="490.5" r="3.25" fill="url(#gBlue)"/>
<circle cx="408.4" cy="463.3" r="3.25" fill="url(#gBlue)"/>
<circle cx="424.7" cy="478.9" r="3.25" fill="url(#gBlue)"/>
<circle cx="405.1" cy="502.9" r="3.25" fill="url(#gBlue)"/>
<circle cx="389.6" cy="494.9" r="3.25" fill="url(#gBlue)"/>
<circle cx="419.4" cy="496.6" r="3.25" fill="url(#gBlue)"/>
<circle cx="387.3" cy="490.1" r="3.25" fill="url(#gRedS)"/>
<circle cx="412.8" cy="500.9" r="3.25" fill="url(#gRedS)"/>
<circle cx="386.3" cy="484.9" r="3.25" fill="url(#gBlue)"/>
<circle cx="386.7" cy="479.8" r="3.25" fill="url(#gBlue)"/>
<circle cx="397.1" cy="466.1" r="3.25" fill="url(#gBlue)"/>
<circle cx="424.0" cy="485.8" r="3.25" fill="url(#gBlue)"/>
<circle cx="403.9" cy="464.5" r="3.25" fill="url(#gBlue)"/>
<circle cx="388.6" cy="475.2" r="3.25" fill="url(#gBlue)"/>
<circle cx="400.3" cy="501.0" r="3.25" fill="url(#gBlue)"/>
<circle cx="418.5" cy="470.1" r="3.25" fill="url(#gBlue)"/>
<circle cx="414.1" cy="467.0" r="3.25" fill="url(#gBlue)"/>
<circle cx="421.5" cy="475.0" r="3.25" fill="url(#gBlue)"/>
<circle cx="420.7" cy="492.2" r="3.25" fill="url(#gBlue)"/>
<circle cx="391.9" cy="471.6" r="3.25" fill="url(#gBlue)"/>
<circle cx="396.0" cy="497.9" r="3.25" fill="url(#gBlue)"/>
<circle cx="408.0" cy="500.4" r="3.25" fill="url(#gBlue)"/>
<circle cx="415.1" cy="497.3" r="3.25" fill="url(#gBlue)"/>
<circle cx="409.4" cy="466.5" r="3.25" fill="url(#gBlue)"/>
<circle cx="422.3" cy="481.1" r="3.25" fill="url(#gBlue)"/>
<circle cx="392.6" cy="493.9" r="3.25" fill="url(#gBlue)"/>
<circle cx="390.4" cy="489.3" r="3.25" fill="url(#gBlue)"/>
<circle cx="396.5" cy="469.7" r="3.25" fill="url(#gBlue)"/>
<circle cx="401.7" cy="467.5" r="3.25" fill="url(#gBlue)"/>
<circle cx="420.7" cy="487.3" r="3.25" fill="url(#gBlue)"/>
<circle cx="389.7" cy="484.3" r="3.25" fill="url(#gBlue)"/>
<circle cx="403.3" cy="498.6" r="3.25" fill="url(#gBlue)"/>
<circle cx="390.6" cy="479.4" r="3.25" fill="url(#gBlue)"/>
<circle cx="415.8" cy="472.4" r="3.25" fill="url(#gBlue)"/>
<circle cx="416.6" cy="492.9" r="3.25" fill="url(#gRedS)"/>
<circle cx="410.5" cy="496.8" r="3.25" fill="url(#gBlue)"/>
<circle cx="418.4" cy="476.7" r="3.25" fill="url(#gRedS)"/>
<circle cx="393.4" cy="475.2" r="3.25" fill="url(#gBlue)"/>
<circle cx="399.2" cy="495.7" r="3.25" fill="url(#gBlue)"/>
<circle cx="411.2" cy="470.4" r="3.25" fill="url(#gBlue)"/>
<circle cx="405.8" cy="469.3" r="3.25" fill="url(#gBlue)"/>
<circle cx="418.8" cy="482.1" r="3.25" fill="url(#gBlue)"/>
<circle cx="396.1" cy="491.7" r="3.25" fill="url(#gBlue)"/>
<circle cx="399.2" cy="472.7" r="3.25" fill="url(#gBlue)"/>
<circle cx="416.6" cy="487.6" r="3.25" fill="url(#gBlue)"/>
<circle cx="406.1" cy="495.0" r="3.25" fill="url(#gBlue)"/>
<circle cx="394.3" cy="487.1" r="3.25" fill="url(#gBlue)"/>
<circle cx="412.2" cy="492.2" r="3.25" fill="url(#gBlue)"/>
<circle cx="394.4" cy="482.1" r="3.25" fill="url(#gBlue)"/>
<circle cx="413.4" cy="476.6" r="3.25" fill="url(#gBlue)"/>
<circle cx="397.1" cy="477.2" r="3.25" fill="url(#gBlue)"/>
<circle cx="407.5" cy="473.3" r="3.25" fill="url(#gBlue)"/>
<circle cx="402.3" cy="492.0" r="3.25" fill="url(#gBlue)"/>
<circle cx="414.3" cy="481.4" r="3.25" fill="url(#gBlue)"/>
<circle cx="402.7" cy="475.6" r="3.25" fill="url(#gBlue)"/>
<circle cx="412.3" cy="486.3" r="3.25" fill="url(#gBlue)"/>
<circle cx="408.1" cy="490.0" r="3.25" fill="url(#gBlue)"/>
<circle cx="399.7" cy="487.8" r="3.25" fill="url(#gBlue)"/>
<circle cx="408.8" cy="477.5" r="3.25" fill="url(#gBlue)"/>
<circle cx="399.1" cy="482.6" r="3.25" fill="url(#gBlue)"/>
<circle cx="403.5" cy="480.3" r="3.25" fill="url(#gRedS)"/>
<circle cx="404.8" cy="486.3" r="3.25" fill="url(#gBlue)"/>
<circle cx="408.3" cy="482.7" r="3.25" fill="url(#gBlue)"/>
<text x="406.8" y="487.9" font-size="11.2" font-weight="bold" text-anchor="middle" fill="#fff" font-family="&quot;Liberation Serif&quot;, &quot;Times New Roman&quot;, serif">BiOx</text>
</svg>
</body></html>
